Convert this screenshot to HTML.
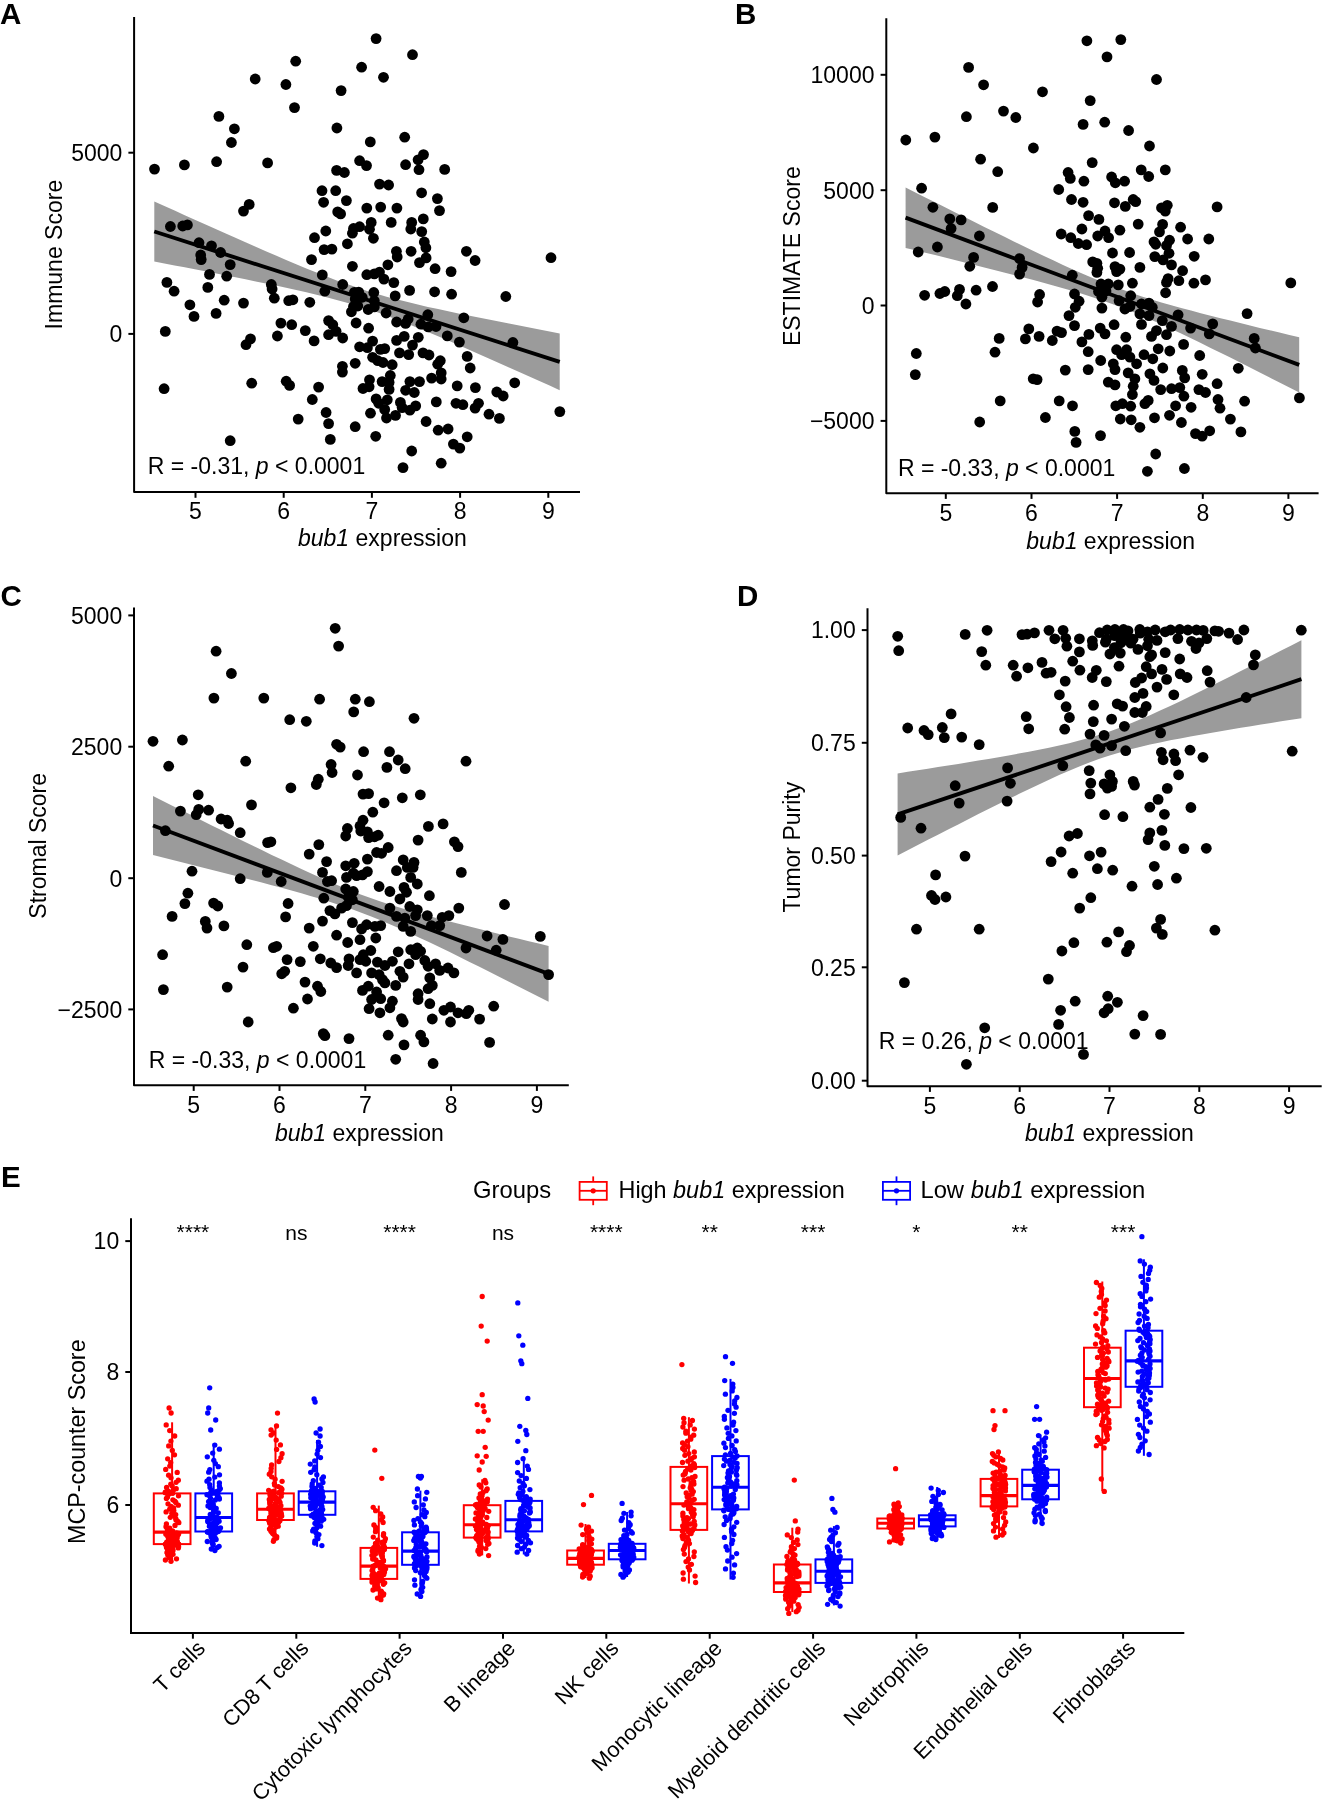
<!DOCTYPE html>
<html><head><meta charset="utf-8"><style>
html,body{margin:0;padding:0;background:#fff;width:1324px;height:1808px;overflow:hidden}
svg{display:block;will-change:transform}
text{font-family:"Liberation Sans", sans-serif;fill:#000}
</style></head><body>
<svg width="1324" height="1808" viewBox="0 0 1324 1808" font-family="Liberation Sans, sans-serif"><text x="0.0" y="23.9" text-anchor="start" font-size="29.5" font-weight="bold" >A</text>
<polygon points="154.3,201.5 164.4,206.1 174.6,210.6 184.7,215.2 194.8,219.8 205.0,224.3 215.1,228.8 225.2,233.3 235.4,237.8 245.5,242.3 255.7,246.8 265.8,251.2 275.9,255.6 286.1,259.9 296.2,264.2 306.3,268.4 316.5,272.5 326.6,276.5 336.7,280.4 346.9,284.1 357.0,287.6 367.1,290.9 377.3,294.0 387.4,296.9 397.5,299.6 407.7,302.1 417.8,304.5 427.9,306.9 438.1,309.1 448.2,311.3 458.4,313.4 468.5,315.5 478.6,317.6 488.8,319.6 498.9,321.6 509.0,323.6 519.2,325.6 529.3,327.6 539.4,329.5 549.6,331.5 559.7,333.4 559.7,390.2 549.6,385.6 539.4,381.1 529.3,376.5 519.2,371.9 509.0,367.4 498.9,362.9 488.8,358.4 478.6,353.9 468.5,349.4 458.4,345.0 448.2,340.6 438.1,336.3 427.9,332.0 417.8,327.9 407.7,323.8 397.5,319.8 387.4,316.0 377.3,312.3 367.1,308.9 357.0,305.7 346.9,302.7 336.7,299.9 326.6,297.2 316.5,294.7 306.3,292.3 296.2,290.0 286.1,287.8 275.9,285.6 265.8,283.5 255.7,281.4 245.5,279.3 235.4,277.3 225.2,275.3 215.1,273.3 205.0,271.3 194.8,269.3 184.7,267.3 174.6,265.4 164.4,263.4 154.3,261.5" fill="#9b9b9b"/>
<path d="M134.1,17.0 V492.1 H580.0" fill="none" stroke="#000" stroke-width="2.0" stroke-linecap="butt" stroke-linejoin="round"/>
<line x1="195.5" y1="492.1" x2="195.5" y2="497.8" stroke="#000" stroke-width="2.0" />
<text x="195.5" y="519.4" text-anchor="middle" font-size="23" font-weight="normal" >5</text>
<line x1="283.7" y1="492.1" x2="283.7" y2="497.8" stroke="#000" stroke-width="2.0" />
<text x="283.7" y="519.4" text-anchor="middle" font-size="23" font-weight="normal" >6</text>
<line x1="371.9" y1="492.1" x2="371.9" y2="497.8" stroke="#000" stroke-width="2.0" />
<text x="371.9" y="519.4" text-anchor="middle" font-size="23" font-weight="normal" >7</text>
<line x1="460.1" y1="492.1" x2="460.1" y2="497.8" stroke="#000" stroke-width="2.0" />
<text x="460.1" y="519.4" text-anchor="middle" font-size="23" font-weight="normal" >8</text>
<line x1="548.3" y1="492.1" x2="548.3" y2="497.8" stroke="#000" stroke-width="2.0" />
<text x="548.3" y="519.4" text-anchor="middle" font-size="23" font-weight="normal" >9</text>
<line x1="128.4" y1="152.7" x2="134.1" y2="152.7" stroke="#000" stroke-width="2.0" />
<text x="122.3" y="161.0" text-anchor="end" font-size="23" font-weight="normal" >5000</text>
<line x1="128.4" y1="333.9" x2="134.1" y2="333.9" stroke="#000" stroke-width="2.0" />
<text x="122.3" y="342.2" text-anchor="end" font-size="23" font-weight="normal" >0</text>
<text transform="translate(62.0,254.6) rotate(-90)" text-anchor="middle" font-size="23">Immune Score</text>
<text x="382.4" y="546.2" text-anchor="middle" font-size="23"><tspan font-style="italic">bub1</tspan> expression</text>
<g fill="#000"><circle cx="295.7" cy="61.2" r="5.4"/><circle cx="255.2" cy="79.0" r="5.4"/><circle cx="285.9" cy="84.5" r="5.4"/><circle cx="341.1" cy="90.6" r="5.4"/><circle cx="294.5" cy="107.6" r="5.4"/><circle cx="218.9" cy="116.4" r="5.4"/><circle cx="234.4" cy="128.8" r="5.4"/><circle cx="231.4" cy="142.5" r="5.4"/><circle cx="336.9" cy="128" r="5.4"/><circle cx="154.5" cy="169.1" r="5.4"/><circle cx="184.4" cy="164.9" r="5.4"/><circle cx="216.6" cy="161.7" r="5.4"/><circle cx="267.6" cy="162.9" r="5.4"/><circle cx="336.6" cy="170.4" r="5.4"/><circle cx="344.4" cy="172.5" r="5.4"/><circle cx="322" cy="190.7" r="5.4"/><circle cx="335.7" cy="190.7" r="5.4"/><circle cx="323.6" cy="202.3" r="5.4"/><circle cx="346.4" cy="200.6" r="5.4"/><circle cx="337.7" cy="211.9" r="5.4"/><circle cx="340.6" cy="213.9" r="5.4"/><circle cx="249.2" cy="204.4" r="5.4"/><circle cx="243.5" cy="211.1" r="5.4"/><circle cx="170.4" cy="226.5" r="5.4"/><circle cx="182.7" cy="226" r="5.4"/><circle cx="187.4" cy="224.9" r="5.4"/><circle cx="325.8" cy="231" r="5.4"/><circle cx="314.5" cy="237.7" r="5.4"/><circle cx="353.5" cy="228.5" r="5.4"/><circle cx="352.4" cy="233.2" r="5.4"/><circle cx="347.4" cy="243.8" r="5.4"/><circle cx="199" cy="242.7" r="5.4"/><circle cx="376.1" cy="38.6" r="5.4"/><circle cx="412.5" cy="54.7" r="5.4"/><circle cx="361.6" cy="67.2" r="5.4"/><circle cx="383.5" cy="77.3" r="5.4"/><circle cx="370.3" cy="141.9" r="5.4"/><circle cx="404.7" cy="137.2" r="5.4"/><circle cx="359.6" cy="160.7" r="5.4"/><circle cx="366.5" cy="165.6" r="5.4"/><circle cx="405.6" cy="164.7" r="5.4"/><circle cx="423.5" cy="154.6" r="5.4"/><circle cx="418.1" cy="159.8" r="5.4"/><circle cx="419" cy="169.7" r="5.4"/><circle cx="444.7" cy="169.4" r="5.4"/><circle cx="379.5" cy="184.1" r="5.4"/><circle cx="388.6" cy="185" r="5.4"/><circle cx="421.6" cy="192.8" r="5.4"/><circle cx="437.4" cy="198.6" r="5.4"/><circle cx="439.5" cy="210.6" r="5.4"/><circle cx="366.8" cy="208.1" r="5.4"/><circle cx="380.7" cy="207.1" r="5.4"/><circle cx="396.9" cy="208.1" r="5.4"/><circle cx="371.2" cy="222.4" r="5.4"/><circle cx="359.6" cy="226.7" r="5.4"/><circle cx="369.5" cy="229.3" r="5.4"/><circle cx="391.2" cy="222.4" r="5.4"/><circle cx="411.7" cy="222.4" r="5.4"/><circle cx="423.3" cy="218.9" r="5.4"/><circle cx="410.8" cy="229" r="5.4"/><circle cx="421.7" cy="231.6" r="5.4"/><circle cx="373.4" cy="238.3" r="5.4"/><circle cx="424.3" cy="242" r="5.4"/><circle cx="211.5" cy="245.8" r="5.4"/><circle cx="220.6" cy="252.5" r="5.4"/><circle cx="200.7" cy="255" r="5.4"/><circle cx="201.2" cy="259.6" r="5.4"/><circle cx="230.2" cy="264.6" r="5.4"/><circle cx="209.5" cy="274.4" r="5.4"/><circle cx="226.7" cy="276.2" r="5.4"/><circle cx="166.9" cy="282.4" r="5.4"/><circle cx="174.1" cy="291.2" r="5.4"/><circle cx="207.8" cy="287.4" r="5.4"/><circle cx="189.9" cy="304.8" r="5.4"/><circle cx="194" cy="316.4" r="5.4"/><circle cx="224.2" cy="300.2" r="5.4"/><circle cx="243.5" cy="303.1" r="5.4"/><circle cx="216.1" cy="313.4" r="5.4"/><circle cx="165.3" cy="331.4" r="5.4"/><circle cx="324.1" cy="249.6" r="5.4"/><circle cx="331.9" cy="249.1" r="5.4"/><circle cx="311.5" cy="259.6" r="5.4"/><circle cx="352.4" cy="266.3" r="5.4"/><circle cx="322.3" cy="274.9" r="5.4"/><circle cx="342.7" cy="284.5" r="5.4"/><circle cx="271.3" cy="284.5" r="5.4"/><circle cx="272.1" cy="289" r="5.4"/><circle cx="274.3" cy="298.2" r="5.4"/><circle cx="324.8" cy="291.2" r="5.4"/><circle cx="354.4" cy="292.3" r="5.4"/><circle cx="288.7" cy="300.7" r="5.4"/><circle cx="292.9" cy="299.8" r="5.4"/><circle cx="309.8" cy="302.3" r="5.4"/><circle cx="353.5" cy="306.5" r="5.4"/><circle cx="351.4" cy="311.8" r="5.4"/><circle cx="280.9" cy="323.1" r="5.4"/><circle cx="291.7" cy="324.7" r="5.4"/><circle cx="277.4" cy="336" r="5.4"/><circle cx="305.3" cy="330.6" r="5.4"/><circle cx="314.1" cy="340.9" r="5.4"/><circle cx="328.6" cy="320.6" r="5.4"/><circle cx="332.8" cy="324.7" r="5.4"/><circle cx="336.1" cy="331.4" r="5.4"/><circle cx="328.6" cy="334.7" r="5.4"/><circle cx="342.7" cy="338" r="5.4"/><circle cx="250.5" cy="338.9" r="5.4"/><circle cx="246" cy="344.7" r="5.4"/><circle cx="342.4" cy="366.3" r="5.4"/><circle cx="342.4" cy="372.1" r="5.4"/><circle cx="164.1" cy="388.7" r="5.4"/><circle cx="251.7" cy="383.2" r="5.4"/><circle cx="286.2" cy="381.2" r="5.4"/><circle cx="289.6" cy="385.4" r="5.4"/><circle cx="318.6" cy="387.1" r="5.4"/><circle cx="312.3" cy="399.5" r="5.4"/><circle cx="298.2" cy="419.1" r="5.4"/><circle cx="326.1" cy="412.5" r="5.4"/><circle cx="328.6" cy="423.6" r="5.4"/><circle cx="230.2" cy="440.7" r="5.4"/><circle cx="330.3" cy="439.4" r="5.4"/><circle cx="425.9" cy="247.8" r="5.4"/><circle cx="396.4" cy="251.3" r="5.4"/><circle cx="397.2" cy="257" r="5.4"/><circle cx="411.1" cy="251.3" r="5.4"/><circle cx="466.4" cy="251.3" r="5.4"/><circle cx="475.1" cy="260.5" r="5.4"/><circle cx="551" cy="257.7" r="5.4"/><circle cx="419.5" cy="262.6" r="5.4"/><circle cx="426.1" cy="257.9" r="5.4"/><circle cx="387.9" cy="264.8" r="5.4"/><circle cx="435.1" cy="268.7" r="5.4"/><circle cx="451.1" cy="271.6" r="5.4"/><circle cx="366.8" cy="274.7" r="5.4"/><circle cx="374.3" cy="273.9" r="5.4"/><circle cx="379.5" cy="272.1" r="5.4"/><circle cx="383.9" cy="279.1" r="5.4"/><circle cx="393.8" cy="282.6" r="5.4"/><circle cx="409.6" cy="290.4" r="5.4"/><circle cx="434.6" cy="291.8" r="5.4"/><circle cx="451.6" cy="294.2" r="5.4"/><circle cx="505.8" cy="296.5" r="5.4"/><circle cx="373.8" cy="292.5" r="5.4"/><circle cx="395.2" cy="295.9" r="5.4"/><circle cx="358.7" cy="292.1" r="5.4"/><circle cx="362.2" cy="297.3" r="5.4"/><circle cx="355.2" cy="299.1" r="5.4"/><circle cx="357.8" cy="306" r="5.4"/><circle cx="368.2" cy="309.5" r="5.4"/><circle cx="374.3" cy="306.9" r="5.4"/><circle cx="374.3" cy="300.8" r="5.4"/><circle cx="386.1" cy="313" r="5.4"/><circle cx="356.1" cy="323" r="5.4"/><circle cx="368.6" cy="328.2" r="5.4"/><circle cx="396.6" cy="322" r="5.4"/><circle cx="405.6" cy="323.4" r="5.4"/><circle cx="408.2" cy="319" r="5.4"/><circle cx="427.8" cy="314.7" r="5.4"/><circle cx="420.9" cy="324.2" r="5.4"/><circle cx="428.2" cy="326.9" r="5.4"/><circle cx="436" cy="326.5" r="5.4"/><circle cx="463.8" cy="317.8" r="5.4"/><circle cx="447.3" cy="335.9" r="5.4"/><circle cx="459.4" cy="342.1" r="5.4"/><circle cx="512.9" cy="342.5" r="5.4"/><circle cx="396.6" cy="340.4" r="5.4"/><circle cx="404.2" cy="336.4" r="5.4"/><circle cx="418.3" cy="337.3" r="5.4"/><circle cx="372.6" cy="341.1" r="5.4"/><circle cx="359.6" cy="346.8" r="5.4"/><circle cx="367.4" cy="347.7" r="5.4"/><circle cx="380.4" cy="349.4" r="5.4"/><circle cx="384.7" cy="348.6" r="5.4"/><circle cx="399.5" cy="352.9" r="5.4"/><circle cx="412.5" cy="345.1" r="5.4"/><circle cx="408.7" cy="354.6" r="5.4"/><circle cx="423" cy="352.9" r="5.4"/><circle cx="429" cy="355" r="5.4"/><circle cx="372.6" cy="357.3" r="5.4"/><circle cx="377.8" cy="360.7" r="5.4"/><circle cx="383" cy="362.5" r="5.4"/><circle cx="392.2" cy="364.7" r="5.4"/><circle cx="355.2" cy="363.3" r="5.4"/><circle cx="440.3" cy="360.7" r="5.4"/><circle cx="437.7" cy="364.2" r="5.4"/><circle cx="467.2" cy="356.4" r="5.4"/><circle cx="470.2" cy="368" r="5.4"/><circle cx="441.2" cy="372.9" r="5.4"/><circle cx="431.6" cy="378.1" r="5.4"/><circle cx="441.2" cy="379" r="5.4"/><circle cx="390.3" cy="375.5" r="5.4"/><circle cx="369.5" cy="379.8" r="5.4"/><circle cx="382.1" cy="381.6" r="5.4"/><circle cx="389.1" cy="382.4" r="5.4"/><circle cx="363" cy="388.5" r="5.4"/><circle cx="369.1" cy="386.8" r="5.4"/><circle cx="389.1" cy="389.4" r="5.4"/><circle cx="409.9" cy="381.6" r="5.4"/><circle cx="419.5" cy="381.6" r="5.4"/><circle cx="405.6" cy="390.3" r="5.4"/><circle cx="414.3" cy="392.5" r="5.4"/><circle cx="457.2" cy="385.9" r="5.4"/><circle cx="475.4" cy="387.6" r="5.4"/><circle cx="514.7" cy="382.8" r="5.4"/><circle cx="496.8" cy="392" r="5.4"/><circle cx="503.2" cy="396" r="5.4"/><circle cx="376.1" cy="398.9" r="5.4"/><circle cx="378.7" cy="403.3" r="5.4"/><circle cx="387.3" cy="399.8" r="5.4"/><circle cx="400.4" cy="402.4" r="5.4"/><circle cx="402.1" cy="407.6" r="5.4"/><circle cx="415.7" cy="405.9" r="5.4"/><circle cx="409.9" cy="410.2" r="5.4"/><circle cx="384.7" cy="409.4" r="5.4"/><circle cx="370.5" cy="413.2" r="5.4"/><circle cx="386.5" cy="418" r="5.4"/><circle cx="395.5" cy="415.4" r="5.4"/><circle cx="436.3" cy="401.9" r="5.4"/><circle cx="456" cy="403.3" r="5.4"/><circle cx="462.9" cy="404.7" r="5.4"/><circle cx="478.5" cy="403.3" r="5.4"/><circle cx="475.1" cy="408.1" r="5.4"/><circle cx="489" cy="414.2" r="5.4"/><circle cx="499.4" cy="418.4" r="5.4"/><circle cx="559.8" cy="411.6" r="5.4"/><circle cx="355.2" cy="426.7" r="5.4"/><circle cx="375.7" cy="436.3" r="5.4"/><circle cx="426.1" cy="421.5" r="5.4"/><circle cx="438.2" cy="430.2" r="5.4"/><circle cx="448.1" cy="429" r="5.4"/><circle cx="467.2" cy="436.8" r="5.4"/><circle cx="453.4" cy="444.1" r="5.4"/><circle cx="459.8" cy="448.1" r="5.4"/><circle cx="411.7" cy="451" r="5.4"/><circle cx="441.2" cy="463.2" r="5.4"/><circle cx="403" cy="467.6" r="5.4"/></g>
<line x1="154.3" y1="231.5" x2="559.7" y2="361.8" stroke="#000" stroke-width="3.9" />
<text x="147.8" y="474.0" font-size="23">R = -0.31, <tspan font-style="italic">p</tspan> &lt; 0.0001</text>
<text x="735.0" y="23.9" text-anchor="start" font-size="29.5" font-weight="bold" >B</text>
<polygon points="905.6,187.5 915.4,192.5 925.3,197.4 935.1,202.3 945.0,207.3 954.8,212.2 964.6,217.1 974.5,222.0 984.3,226.9 994.2,231.8 1004.0,236.6 1013.8,241.4 1023.7,246.2 1033.5,251.0 1043.4,255.7 1053.2,260.3 1063.0,264.9 1072.9,269.4 1082.7,273.7 1092.6,278.0 1102.4,282.1 1112.2,285.9 1122.1,289.6 1131.9,293.1 1141.8,296.4 1151.6,299.5 1161.4,302.4 1171.3,305.2 1181.1,307.9 1191.0,310.6 1200.8,313.2 1210.6,315.7 1220.5,318.2 1230.3,320.6 1240.2,323.1 1250.0,325.5 1259.8,327.9 1269.7,330.2 1279.5,332.6 1289.4,335.0 1299.2,337.3 1299.2,392.5 1289.4,387.5 1279.5,382.5 1269.7,377.5 1259.8,372.5 1250.0,367.5 1240.2,362.6 1230.3,357.6 1220.5,352.7 1210.6,347.9 1200.8,343.0 1191.0,338.3 1181.1,333.5 1171.3,328.9 1161.4,324.3 1151.6,319.9 1141.8,315.6 1131.9,311.6 1122.1,307.7 1112.2,304.0 1102.4,300.5 1092.6,297.3 1082.7,294.1 1072.9,291.1 1063.0,288.3 1053.2,285.5 1043.4,282.8 1033.5,280.1 1023.7,277.5 1013.8,274.9 1004.0,272.4 994.2,269.9 984.3,267.4 974.5,264.9 964.6,262.5 954.8,260.0 945.0,257.6 935.1,255.1 925.3,252.7 915.4,250.3 905.6,247.9" fill="#9b9b9b"/>
<path d="M886.3,18.3 V493.2 H1318.6" fill="none" stroke="#000" stroke-width="2.0" stroke-linecap="butt" stroke-linejoin="round"/>
<line x1="945.8" y1="493.2" x2="945.8" y2="498.9" stroke="#000" stroke-width="2.0" />
<text x="945.8" y="520.5" text-anchor="middle" font-size="23" font-weight="normal" >5</text>
<line x1="1031.5" y1="493.2" x2="1031.5" y2="498.9" stroke="#000" stroke-width="2.0" />
<text x="1031.5" y="520.5" text-anchor="middle" font-size="23" font-weight="normal" >6</text>
<line x1="1117.1" y1="493.2" x2="1117.1" y2="498.9" stroke="#000" stroke-width="2.0" />
<text x="1117.1" y="520.5" text-anchor="middle" font-size="23" font-weight="normal" >7</text>
<line x1="1202.8" y1="493.2" x2="1202.8" y2="498.9" stroke="#000" stroke-width="2.0" />
<text x="1202.8" y="520.5" text-anchor="middle" font-size="23" font-weight="normal" >8</text>
<line x1="1288.4" y1="493.2" x2="1288.4" y2="498.9" stroke="#000" stroke-width="2.0" />
<text x="1288.4" y="520.5" text-anchor="middle" font-size="23" font-weight="normal" >9</text>
<line x1="880.6" y1="74.8" x2="886.3" y2="74.8" stroke="#000" stroke-width="2.0" />
<text x="874.5" y="83.1" text-anchor="end" font-size="23" font-weight="normal" >10000</text>
<line x1="880.6" y1="190.2" x2="886.3" y2="190.2" stroke="#000" stroke-width="2.0" />
<text x="874.5" y="198.5" text-anchor="end" font-size="23" font-weight="normal" >5000</text>
<line x1="880.6" y1="305.5" x2="886.3" y2="305.5" stroke="#000" stroke-width="2.0" />
<text x="874.5" y="313.8" text-anchor="end" font-size="23" font-weight="normal" >0</text>
<line x1="880.6" y1="420.9" x2="886.3" y2="420.9" stroke="#000" stroke-width="2.0" />
<text x="874.5" y="429.2" text-anchor="end" font-size="23" font-weight="normal" >&#8722;5000</text>
<text transform="translate(799.6,256.2) rotate(-90)" text-anchor="middle" font-size="23">ESTIMATE Score</text>
<text x="1110.7" y="548.5" text-anchor="middle" font-size="23"><tspan font-style="italic">bub1</tspan> expression</text>
<g fill="#000"><circle cx="1086.9" cy="40.8" r="5.4"/><circle cx="968.6" cy="67.4" r="5.4"/><circle cx="983.6" cy="84.8" r="5.4"/><circle cx="1042.5" cy="91.8" r="5.4"/><circle cx="1090.2" cy="100.6" r="5.4"/><circle cx="1003.5" cy="111.1" r="5.4"/><circle cx="1015.8" cy="117.5" r="5.4"/><circle cx="966.4" cy="116.7" r="5.4"/><circle cx="1083.1" cy="124.4" r="5.4"/><circle cx="1104.7" cy="122.2" r="5.4"/><circle cx="905.8" cy="140" r="5.4"/><circle cx="934.9" cy="137.1" r="5.4"/><circle cx="1033.4" cy="148" r="5.4"/><circle cx="980.6" cy="159.2" r="5.4"/><circle cx="997.7" cy="171.7" r="5.4"/><circle cx="1092.2" cy="162.6" r="5.4"/><circle cx="1068.1" cy="172.5" r="5.4"/><circle cx="1070.3" cy="178.4" r="5.4"/><circle cx="1083.9" cy="181.2" r="5.4"/><circle cx="1058.7" cy="189.5" r="5.4"/><circle cx="1071.5" cy="199.5" r="5.4"/><circle cx="1083.1" cy="202.3" r="5.4"/><circle cx="921.6" cy="188.2" r="5.4"/><circle cx="932.9" cy="207.3" r="5.4"/><circle cx="992.7" cy="207.4" r="5.4"/><circle cx="949.8" cy="218.9" r="5.4"/><circle cx="961.1" cy="219.9" r="5.4"/><circle cx="951.1" cy="228.5" r="5.4"/><circle cx="979.4" cy="236" r="5.4"/><circle cx="1088.6" cy="215.6" r="5.4"/><circle cx="1098.9" cy="219.4" r="5.4"/><circle cx="1081.9" cy="229" r="5.4"/><circle cx="1061.2" cy="234" r="5.4"/><circle cx="1070.8" cy="237.7" r="5.4"/><circle cx="1078.3" cy="243.5" r="5.4"/><circle cx="1086.6" cy="244.7" r="5.4"/><circle cx="1097.7" cy="236" r="5.4"/><circle cx="1120.8" cy="39.6" r="5.4"/><circle cx="1107" cy="56.9" r="5.4"/><circle cx="1156.5" cy="79.5" r="5.4"/><circle cx="1128.6" cy="130.5" r="5.4"/><circle cx="1149.5" cy="146" r="5.4"/><circle cx="1141.2" cy="169.9" r="5.4"/><circle cx="1148.7" cy="176.5" r="5.4"/><circle cx="1165.3" cy="169.9" r="5.4"/><circle cx="1111.6" cy="177" r="5.4"/><circle cx="1115.3" cy="182.8" r="5.4"/><circle cx="1124.6" cy="181.2" r="5.4"/><circle cx="1114.5" cy="202.8" r="5.4"/><circle cx="1125.3" cy="206.4" r="5.4"/><circle cx="1133.2" cy="199.5" r="5.4"/><circle cx="1135.7" cy="201.6" r="5.4"/><circle cx="1161.5" cy="207.8" r="5.4"/><circle cx="1167.3" cy="205.3" r="5.4"/><circle cx="1165.3" cy="211.1" r="5.4"/><circle cx="1217.1" cy="206.9" r="5.4"/><circle cx="1105" cy="231" r="5.4"/><circle cx="1108.6" cy="237.7" r="5.4"/><circle cx="1119.9" cy="230.2" r="5.4"/><circle cx="1138.2" cy="224.1" r="5.4"/><circle cx="1162.6" cy="224.4" r="5.4"/><circle cx="1159.5" cy="231.9" r="5.4"/><circle cx="1180.6" cy="227.2" r="5.4"/><circle cx="1187.6" cy="239" r="5.4"/><circle cx="1208.8" cy="239" r="5.4"/><circle cx="1169.5" cy="240.2" r="5.4"/><circle cx="1154" cy="241.8" r="5.4"/><circle cx="1155.7" cy="244.3" r="5.4"/><circle cx="918.2" cy="252" r="5.4"/><circle cx="937.4" cy="247" r="5.4"/><circle cx="973.6" cy="257.4" r="5.4"/><circle cx="969.8" cy="266.3" r="5.4"/><circle cx="1019.6" cy="258.6" r="5.4"/><circle cx="1022.1" cy="267.4" r="5.4"/><circle cx="1019.6" cy="274.1" r="5.4"/><circle cx="1072.3" cy="275.2" r="5.4"/><circle cx="1092.7" cy="261.9" r="5.4"/><circle cx="1096.9" cy="263.3" r="5.4"/><circle cx="1097.7" cy="268.2" r="5.4"/><circle cx="1096.9" cy="272.4" r="5.4"/><circle cx="1101" cy="284" r="5.4"/><circle cx="1098.5" cy="291.5" r="5.4"/><circle cx="1101.9" cy="297.3" r="5.4"/><circle cx="1101.9" cy="308.1" r="5.4"/><circle cx="924.6" cy="295.3" r="5.4"/><circle cx="939.9" cy="293.5" r="5.4"/><circle cx="944.8" cy="291.5" r="5.4"/><circle cx="959.5" cy="289.4" r="5.4"/><circle cx="957.3" cy="295.7" r="5.4"/><circle cx="965.9" cy="304" r="5.4"/><circle cx="976.1" cy="290.2" r="5.4"/><circle cx="992.5" cy="286.5" r="5.4"/><circle cx="1039.6" cy="294.5" r="5.4"/><circle cx="1037.6" cy="302" r="5.4"/><circle cx="1074.5" cy="294" r="5.4"/><circle cx="1079.1" cy="301.2" r="5.4"/><circle cx="1075.3" cy="307.3" r="5.4"/><circle cx="1069" cy="315.6" r="5.4"/><circle cx="1074.5" cy="325.6" r="5.4"/><circle cx="1028.8" cy="328.9" r="5.4"/><circle cx="1025.4" cy="338.9" r="5.4"/><circle cx="1039.1" cy="336.4" r="5.4"/><circle cx="1057" cy="331.1" r="5.4"/><circle cx="1061.5" cy="332.6" r="5.4"/><circle cx="1052.3" cy="340.5" r="5.4"/><circle cx="1088.9" cy="334.4" r="5.4"/><circle cx="1081.9" cy="341.9" r="5.4"/><circle cx="1100.2" cy="328.1" r="5.4"/><circle cx="999.2" cy="338.4" r="5.4"/><circle cx="995" cy="352.2" r="5.4"/><circle cx="916.3" cy="353.5" r="5.4"/><circle cx="915.3" cy="374.6" r="5.4"/><circle cx="1088.2" cy="351.7" r="5.4"/><circle cx="1100.7" cy="360.5" r="5.4"/><circle cx="1065.3" cy="370.1" r="5.4"/><circle cx="1088.2" cy="369.6" r="5.4"/><circle cx="1033.2" cy="378.8" r="5.4"/><circle cx="1037.1" cy="379.6" r="5.4"/><circle cx="1000.2" cy="400.9" r="5.4"/><circle cx="1059.2" cy="400.9" r="5.4"/><circle cx="1072.5" cy="405.8" r="5.4"/><circle cx="1045.4" cy="417.5" r="5.4"/><circle cx="979.7" cy="422" r="5.4"/><circle cx="1074.8" cy="431.4" r="5.4"/><circle cx="1076.1" cy="442.4" r="5.4"/><circle cx="1100.5" cy="435.6" r="5.4"/><circle cx="1166.5" cy="245.5" r="5.4"/><circle cx="1112.5" cy="253" r="5.4"/><circle cx="1129.6" cy="252.5" r="5.4"/><circle cx="1154.8" cy="256.6" r="5.4"/><circle cx="1169" cy="253.3" r="5.4"/><circle cx="1163.1" cy="259.9" r="5.4"/><circle cx="1171.5" cy="264.9" r="5.4"/><circle cx="1194.2" cy="256.3" r="5.4"/><circle cx="1115" cy="266.6" r="5.4"/><circle cx="1119.9" cy="269.1" r="5.4"/><circle cx="1116.6" cy="271.6" r="5.4"/><circle cx="1139.9" cy="267.4" r="5.4"/><circle cx="1182.6" cy="270.7" r="5.4"/><circle cx="1178.9" cy="280.7" r="5.4"/><circle cx="1168.1" cy="278.6" r="5.4"/><circle cx="1166.5" cy="282.4" r="5.4"/><circle cx="1193.9" cy="283.2" r="5.4"/><circle cx="1205.5" cy="279.9" r="5.4"/><circle cx="1290.8" cy="282.9" r="5.4"/><circle cx="1132.4" cy="283.2" r="5.4"/><circle cx="1165.6" cy="292.8" r="5.4"/><circle cx="1108.3" cy="284" r="5.4"/><circle cx="1118.3" cy="284.9" r="5.4"/><circle cx="1106" cy="291" r="5.4"/><circle cx="1130.7" cy="295.7" r="5.4"/><circle cx="1119.1" cy="300.7" r="5.4"/><circle cx="1124.9" cy="309" r="5.4"/><circle cx="1129.9" cy="306.5" r="5.4"/><circle cx="1141.5" cy="304" r="5.4"/><circle cx="1149" cy="303.1" r="5.4"/><circle cx="1152.3" cy="307.3" r="5.4"/><circle cx="1139.9" cy="313.9" r="5.4"/><circle cx="1149" cy="315.6" r="5.4"/><circle cx="1162.3" cy="320.6" r="5.4"/><circle cx="1178.1" cy="314.8" r="5.4"/><circle cx="1171.5" cy="326.4" r="5.4"/><circle cx="1190.6" cy="328.1" r="5.4"/><circle cx="1212.7" cy="323.9" r="5.4"/><circle cx="1209.3" cy="333.9" r="5.4"/><circle cx="1247.1" cy="313.6" r="5.4"/><circle cx="1254.2" cy="338.4" r="5.4"/><circle cx="1255.4" cy="348" r="5.4"/><circle cx="1114.1" cy="324.7" r="5.4"/><circle cx="1141.5" cy="324.4" r="5.4"/><circle cx="1105" cy="333.9" r="5.4"/><circle cx="1125.8" cy="337.2" r="5.4"/><circle cx="1156.5" cy="330.6" r="5.4"/><circle cx="1151.5" cy="336.4" r="5.4"/><circle cx="1166.5" cy="334.7" r="5.4"/><circle cx="1183.6" cy="344.4" r="5.4"/><circle cx="1116.6" cy="349.7" r="5.4"/><circle cx="1126.6" cy="349.7" r="5.4"/><circle cx="1121.6" cy="354.7" r="5.4"/><circle cx="1129.9" cy="357.1" r="5.4"/><circle cx="1144" cy="354.7" r="5.4"/><circle cx="1152.8" cy="358.8" r="5.4"/><circle cx="1158.2" cy="348.8" r="5.4"/><circle cx="1169.8" cy="351" r="5.4"/><circle cx="1199.7" cy="355.5" r="5.4"/><circle cx="1113.3" cy="363.8" r="5.4"/><circle cx="1115" cy="369.6" r="5.4"/><circle cx="1136.6" cy="363.8" r="5.4"/><circle cx="1162.8" cy="368" r="5.4"/><circle cx="1128.2" cy="372.9" r="5.4"/><circle cx="1134.9" cy="378.8" r="5.4"/><circle cx="1149.9" cy="373.8" r="5.4"/><circle cx="1154" cy="380.4" r="5.4"/><circle cx="1182.3" cy="370.4" r="5.4"/><circle cx="1184.7" cy="377.9" r="5.4"/><circle cx="1202.2" cy="374.3" r="5.4"/><circle cx="1238.3" cy="368.3" r="5.4"/><circle cx="1108.3" cy="382.1" r="5.4"/><circle cx="1115" cy="384.9" r="5.4"/><circle cx="1133.2" cy="386.2" r="5.4"/><circle cx="1132.4" cy="394.5" r="5.4"/><circle cx="1160.7" cy="389.6" r="5.4"/><circle cx="1171.5" cy="388.7" r="5.4"/><circle cx="1179.8" cy="387.6" r="5.4"/><circle cx="1183.9" cy="396.2" r="5.4"/><circle cx="1198.9" cy="389.6" r="5.4"/><circle cx="1205.5" cy="392.5" r="5.4"/><circle cx="1217.1" cy="383.7" r="5.4"/><circle cx="1218" cy="399.5" r="5.4"/><circle cx="1220" cy="408.2" r="5.4"/><circle cx="1244.6" cy="401.2" r="5.4"/><circle cx="1299.4" cy="397.9" r="5.4"/><circle cx="1115.8" cy="405.8" r="5.4"/><circle cx="1122.4" cy="403.7" r="5.4"/><circle cx="1130.7" cy="406.2" r="5.4"/><circle cx="1144.9" cy="403.7" r="5.4"/><circle cx="1148.2" cy="400.4" r="5.4"/><circle cx="1175.6" cy="405.8" r="5.4"/><circle cx="1191.1" cy="407.3" r="5.4"/><circle cx="1120.3" cy="419" r="5.4"/><circle cx="1131.2" cy="419.8" r="5.4"/><circle cx="1139.9" cy="427.3" r="5.4"/><circle cx="1154.5" cy="417.8" r="5.4"/><circle cx="1169.5" cy="415.3" r="5.4"/><circle cx="1181.4" cy="422.5" r="5.4"/><circle cx="1230.4" cy="419.1" r="5.4"/><circle cx="1240.9" cy="431.9" r="5.4"/><circle cx="1195.5" cy="433.6" r="5.4"/><circle cx="1202.2" cy="436.1" r="5.4"/><circle cx="1209.7" cy="430.8" r="5.4"/><circle cx="1155.7" cy="454" r="5.4"/><circle cx="1147.4" cy="471.3" r="5.4"/><circle cx="1184.4" cy="468.5" r="5.4"/></g>
<line x1="905.6" y1="217.7" x2="1299.2" y2="364.9" stroke="#000" stroke-width="3.9" />
<text x="897.9" y="476.0" font-size="23">R = -0.33, <tspan font-style="italic">p</tspan> &lt; 0.0001</text>
<text x="0.5" y="606.0" text-anchor="start" font-size="29.5" font-weight="bold" >C</text>
<polygon points="153.0,795.9 162.9,800.9 172.8,805.9 182.7,810.8 192.6,815.8 202.4,820.7 212.3,825.7 222.2,830.6 232.1,835.5 242.0,840.4 251.9,845.2 261.8,850.1 271.7,854.9 281.6,859.6 291.5,864.3 301.4,869.0 311.2,873.6 321.1,878.0 331.0,882.4 340.9,886.6 350.8,890.6 360.7,894.4 370.6,898.0 380.5,901.5 390.4,904.7 400.2,907.7 410.1,910.7 420.0,913.5 429.9,916.2 439.8,918.9 449.7,921.5 459.6,924.0 469.5,926.5 479.4,929.0 489.3,931.5 499.1,934.0 509.0,936.4 518.9,938.8 528.8,941.2 538.7,943.6 548.6,946.0 548.6,1001.8 538.7,996.8 528.8,991.7 518.9,986.7 509.0,981.7 499.1,976.7 489.3,971.8 479.4,966.8 469.5,961.9 459.6,957.0 449.7,952.1 439.8,947.3 429.9,942.5 420.0,937.9 410.1,933.2 400.2,928.8 390.4,924.4 380.5,920.2 370.6,916.2 360.7,912.4 350.8,908.8 340.9,905.4 331.0,902.2 321.1,899.1 311.2,896.2 301.4,893.3 291.5,890.5 281.6,887.8 271.7,885.2 261.8,882.6 251.9,880.0 242.0,877.4 232.1,874.9 222.2,872.4 212.3,869.9 202.4,867.4 192.6,864.9 182.7,862.4 172.8,860.0 162.9,857.5 153.0,855.1" fill="#9b9b9b"/>
<path d="M134.0,607.4 V1085.2 H568.8" fill="none" stroke="#000" stroke-width="2.0" stroke-linecap="butt" stroke-linejoin="round"/>
<line x1="193.7" y1="1085.2" x2="193.7" y2="1090.9" stroke="#000" stroke-width="2.0" />
<text x="193.7" y="1112.5" text-anchor="middle" font-size="23" font-weight="normal" >5</text>
<line x1="279.5" y1="1085.2" x2="279.5" y2="1090.9" stroke="#000" stroke-width="2.0" />
<text x="279.5" y="1112.5" text-anchor="middle" font-size="23" font-weight="normal" >6</text>
<line x1="365.3" y1="1085.2" x2="365.3" y2="1090.9" stroke="#000" stroke-width="2.0" />
<text x="365.3" y="1112.5" text-anchor="middle" font-size="23" font-weight="normal" >7</text>
<line x1="451.1" y1="1085.2" x2="451.1" y2="1090.9" stroke="#000" stroke-width="2.0" />
<text x="451.1" y="1112.5" text-anchor="middle" font-size="23" font-weight="normal" >8</text>
<line x1="536.9" y1="1085.2" x2="536.9" y2="1090.9" stroke="#000" stroke-width="2.0" />
<text x="536.9" y="1112.5" text-anchor="middle" font-size="23" font-weight="normal" >9</text>
<line x1="128.3" y1="615.4" x2="134.0" y2="615.4" stroke="#000" stroke-width="2.0" />
<text x="122.2" y="623.7" text-anchor="end" font-size="23" font-weight="normal" >5000</text>
<line x1="128.3" y1="746.7" x2="134.0" y2="746.7" stroke="#000" stroke-width="2.0" />
<text x="122.2" y="755.0" text-anchor="end" font-size="23" font-weight="normal" >2500</text>
<line x1="128.3" y1="878.2" x2="134.0" y2="878.2" stroke="#000" stroke-width="2.0" />
<text x="122.2" y="886.5" text-anchor="end" font-size="23" font-weight="normal" >0</text>
<line x1="128.3" y1="1009.4" x2="134.0" y2="1009.4" stroke="#000" stroke-width="2.0" />
<text x="122.2" y="1017.7" text-anchor="end" font-size="23" font-weight="normal" >&#8722;2500</text>
<text transform="translate(46.2,845.8) rotate(-90)" text-anchor="middle" font-size="23">Stromal Score</text>
<text x="359.4" y="1140.8" text-anchor="middle" font-size="23"><tspan font-style="italic">bub1</tspan> expression</text>
<g fill="#000"><circle cx="335.2" cy="628.3" r="5.4"/><circle cx="338.6" cy="646.1" r="5.4"/><circle cx="216.1" cy="651.2" r="5.4"/><circle cx="231.4" cy="673.5" r="5.4"/><circle cx="213.9" cy="698.1" r="5.4"/><circle cx="263.8" cy="698.1" r="5.4"/><circle cx="319.6" cy="699.2" r="5.4"/><circle cx="289.7" cy="719.7" r="5.4"/><circle cx="306.3" cy="721.3" r="5.4"/><circle cx="153" cy="741.3" r="5.4"/><circle cx="182.4" cy="740" r="5.4"/><circle cx="168.7" cy="766.2" r="5.4"/><circle cx="245.7" cy="761.2" r="5.4"/><circle cx="336.6" cy="744.3" r="5.4"/><circle cx="340.2" cy="747.1" r="5.4"/><circle cx="331.1" cy="764.5" r="5.4"/><circle cx="332.1" cy="772.5" r="5.4"/><circle cx="290.9" cy="787.8" r="5.4"/><circle cx="318.3" cy="779.2" r="5.4"/><circle cx="316.3" cy="784.5" r="5.4"/><circle cx="198.2" cy="794.8" r="5.4"/><circle cx="180.4" cy="811.1" r="5.4"/><circle cx="198.7" cy="809.4" r="5.4"/><circle cx="196.2" cy="814.7" r="5.4"/><circle cx="208.6" cy="810.2" r="5.4"/><circle cx="251.5" cy="804.9" r="5.4"/><circle cx="221.1" cy="819" r="5.4"/><circle cx="227.2" cy="820.2" r="5.4"/><circle cx="228.6" cy="823.5" r="5.4"/><circle cx="240.2" cy="832.7" r="5.4"/><circle cx="165.4" cy="830.7" r="5.4"/><circle cx="267.6" cy="842.6" r="5.4"/><circle cx="270.9" cy="841.8" r="5.4"/><circle cx="347.4" cy="828.5" r="5.4"/><circle cx="345.7" cy="836" r="5.4"/><circle cx="318.8" cy="844.6" r="5.4"/><circle cx="355.3" cy="699.2" r="5.4"/><circle cx="369.4" cy="701.7" r="5.4"/><circle cx="353.7" cy="711.9" r="5.4"/><circle cx="414" cy="718.3" r="5.4"/><circle cx="363.6" cy="751.7" r="5.4"/><circle cx="389.5" cy="751.7" r="5.4"/><circle cx="398.2" cy="760" r="5.4"/><circle cx="386.9" cy="767.4" r="5.4"/><circle cx="405.2" cy="768.7" r="5.4"/><circle cx="466" cy="761.2" r="5.4"/><circle cx="357.5" cy="775" r="5.4"/><circle cx="363" cy="794.1" r="5.4"/><circle cx="368.6" cy="793.6" r="5.4"/><circle cx="384.1" cy="802.8" r="5.4"/><circle cx="402.3" cy="797.8" r="5.4"/><circle cx="420.3" cy="794.8" r="5.4"/><circle cx="372.8" cy="812.2" r="5.4"/><circle cx="363" cy="820.2" r="5.4"/><circle cx="360" cy="826" r="5.4"/><circle cx="360.8" cy="831" r="5.4"/><circle cx="367.4" cy="831.8" r="5.4"/><circle cx="368.6" cy="837.6" r="5.4"/><circle cx="374.6" cy="836.8" r="5.4"/><circle cx="378.2" cy="835.2" r="5.4"/><circle cx="428.4" cy="826.4" r="5.4"/><circle cx="443.1" cy="823.9" r="5.4"/><circle cx="418.1" cy="840.1" r="5.4"/><circle cx="454.4" cy="841.8" r="5.4"/><circle cx="309.2" cy="854.1" r="5.4"/><circle cx="326.6" cy="861.6" r="5.4"/><circle cx="345.7" cy="865.8" r="5.4"/><circle cx="322.5" cy="872.4" r="5.4"/><circle cx="327.4" cy="881.5" r="5.4"/><circle cx="331.6" cy="880.7" r="5.4"/><circle cx="346.5" cy="877.4" r="5.4"/><circle cx="345.7" cy="889" r="5.4"/><circle cx="348.2" cy="897.3" r="5.4"/><circle cx="346.5" cy="905.6" r="5.4"/><circle cx="341.6" cy="908.1" r="5.4"/><circle cx="352.4" cy="899.8" r="5.4"/><circle cx="323.8" cy="898.2" r="5.4"/><circle cx="329.9" cy="910.6" r="5.4"/><circle cx="334.9" cy="913.9" r="5.4"/><circle cx="192" cy="871.2" r="5.4"/><circle cx="240.2" cy="878.7" r="5.4"/><circle cx="267.3" cy="872.4" r="5.4"/><circle cx="281.2" cy="881.5" r="5.4"/><circle cx="187.9" cy="893.2" r="5.4"/><circle cx="184.9" cy="903.6" r="5.4"/><circle cx="213.6" cy="903.1" r="5.4"/><circle cx="217.8" cy="906" r="5.4"/><circle cx="172.1" cy="916.4" r="5.4"/><circle cx="205.3" cy="921.4" r="5.4"/><circle cx="207" cy="928.1" r="5.4"/><circle cx="223.9" cy="925.9" r="5.4"/><circle cx="288.1" cy="903.5" r="5.4"/><circle cx="285.6" cy="916.9" r="5.4"/><circle cx="322.5" cy="921.1" r="5.4"/><circle cx="309.2" cy="928.1" r="5.4"/><circle cx="352.4" cy="922.6" r="5.4"/><circle cx="336.6" cy="935.2" r="5.4"/><circle cx="347.7" cy="942.5" r="5.4"/><circle cx="246.8" cy="944.7" r="5.4"/><circle cx="273.4" cy="947.7" r="5.4"/><circle cx="276.7" cy="946.3" r="5.4"/><circle cx="313.3" cy="946.3" r="5.4"/><circle cx="162.6" cy="954.7" r="5.4"/><circle cx="243" cy="967.1" r="5.4"/><circle cx="287.1" cy="959.6" r="5.4"/><circle cx="300.3" cy="961.6" r="5.4"/><circle cx="320.3" cy="958.8" r="5.4"/><circle cx="330.8" cy="963" r="5.4"/><circle cx="336.6" cy="967.6" r="5.4"/><circle cx="349" cy="958.8" r="5.4"/><circle cx="348.2" cy="965.5" r="5.4"/><circle cx="284.7" cy="971.3" r="5.4"/><circle cx="281.7" cy="973.8" r="5.4"/><circle cx="305" cy="982.1" r="5.4"/><circle cx="317.5" cy="986.2" r="5.4"/><circle cx="320.8" cy="991.5" r="5.4"/><circle cx="307.5" cy="999" r="5.4"/><circle cx="293.4" cy="1008.2" r="5.4"/><circle cx="163.4" cy="989.6" r="5.4"/><circle cx="227.2" cy="987.1" r="5.4"/><circle cx="248.2" cy="1022" r="5.4"/><circle cx="323.3" cy="1033.6" r="5.4"/><circle cx="324.9" cy="1035.7" r="5.4"/><circle cx="349" cy="1038.6" r="5.4"/><circle cx="458" cy="846.6" r="5.4"/><circle cx="388.2" cy="847.5" r="5.4"/><circle cx="376.6" cy="852.5" r="5.4"/><circle cx="381.6" cy="853.3" r="5.4"/><circle cx="367.4" cy="859.1" r="5.4"/><circle cx="354.2" cy="863.3" r="5.4"/><circle cx="403.2" cy="859.9" r="5.4"/><circle cx="414" cy="862.4" r="5.4"/><circle cx="413.1" cy="867.4" r="5.4"/><circle cx="396.5" cy="870.7" r="5.4"/><circle cx="407.3" cy="867.4" r="5.4"/><circle cx="461.3" cy="872.4" r="5.4"/><circle cx="367.4" cy="871.6" r="5.4"/><circle cx="362.5" cy="874.9" r="5.4"/><circle cx="356.6" cy="875.7" r="5.4"/><circle cx="353.3" cy="873.2" r="5.4"/><circle cx="410.7" cy="877.4" r="5.4"/><circle cx="417.3" cy="884" r="5.4"/><circle cx="379.1" cy="886.5" r="5.4"/><circle cx="389.9" cy="891.5" r="5.4"/><circle cx="404" cy="887.4" r="5.4"/><circle cx="406.5" cy="892.3" r="5.4"/><circle cx="399.9" cy="899" r="5.4"/><circle cx="429.4" cy="895.7" r="5.4"/><circle cx="353.3" cy="891.5" r="5.4"/><circle cx="504.5" cy="904.5" r="5.4"/><circle cx="458.8" cy="908.1" r="5.4"/><circle cx="389.9" cy="908.1" r="5.4"/><circle cx="396.5" cy="916.4" r="5.4"/><circle cx="409.8" cy="906.5" r="5.4"/><circle cx="417.3" cy="909.8" r="5.4"/><circle cx="415.6" cy="915.6" r="5.4"/><circle cx="427.3" cy="915.6" r="5.4"/><circle cx="442.2" cy="917.3" r="5.4"/><circle cx="448.9" cy="915.6" r="5.4"/><circle cx="404.8" cy="918.1" r="5.4"/><circle cx="403.2" cy="926.4" r="5.4"/><circle cx="410.7" cy="931.4" r="5.4"/><circle cx="431.4" cy="925.6" r="5.4"/><circle cx="439.7" cy="925.6" r="5.4"/><circle cx="366.6" cy="924.7" r="5.4"/><circle cx="361.6" cy="928.9" r="5.4"/><circle cx="360" cy="939.7" r="5.4"/><circle cx="374.9" cy="926.4" r="5.4"/><circle cx="380.7" cy="925.6" r="5.4"/><circle cx="375.8" cy="938" r="5.4"/><circle cx="466" cy="948" r="5.4"/><circle cx="487.1" cy="936" r="5.4"/><circle cx="502.9" cy="939.4" r="5.4"/><circle cx="496.2" cy="950.2" r="5.4"/><circle cx="540.3" cy="936.4" r="5.4"/><circle cx="548.6" cy="974.6" r="5.4"/><circle cx="370.8" cy="950.5" r="5.4"/><circle cx="363.3" cy="954.7" r="5.4"/><circle cx="365.8" cy="961.3" r="5.4"/><circle cx="360" cy="959.6" r="5.4"/><circle cx="398.2" cy="951.8" r="5.4"/><circle cx="410.7" cy="949.7" r="5.4"/><circle cx="417.3" cy="948" r="5.4"/><circle cx="415.6" cy="954.7" r="5.4"/><circle cx="420.6" cy="951.3" r="5.4"/><circle cx="377.4" cy="962.1" r="5.4"/><circle cx="384.9" cy="965.5" r="5.4"/><circle cx="392.4" cy="961.3" r="5.4"/><circle cx="409" cy="963.8" r="5.4"/><circle cx="424.8" cy="960.5" r="5.4"/><circle cx="428.1" cy="966.3" r="5.4"/><circle cx="435.6" cy="963.8" r="5.4"/><circle cx="439.7" cy="970.4" r="5.4"/><circle cx="448" cy="968" r="5.4"/><circle cx="453.9" cy="972.9" r="5.4"/><circle cx="356.6" cy="972.9" r="5.4"/><circle cx="371.6" cy="972.9" r="5.4"/><circle cx="379.1" cy="974.6" r="5.4"/><circle cx="382.4" cy="979.6" r="5.4"/><circle cx="384.9" cy="982.9" r="5.4"/><circle cx="399.9" cy="971.3" r="5.4"/><circle cx="403.2" cy="977.1" r="5.4"/><circle cx="429.8" cy="977.9" r="5.4"/><circle cx="432.3" cy="985.4" r="5.4"/><circle cx="428.1" cy="988.7" r="5.4"/><circle cx="395.7" cy="985.4" r="5.4"/><circle cx="368.3" cy="986.2" r="5.4"/><circle cx="362.5" cy="990.4" r="5.4"/><circle cx="376.6" cy="992" r="5.4"/><circle cx="380.7" cy="998.7" r="5.4"/><circle cx="371.6" cy="999.5" r="5.4"/><circle cx="392.4" cy="1001.2" r="5.4"/><circle cx="389.9" cy="1007.8" r="5.4"/><circle cx="369.1" cy="1008.7" r="5.4"/><circle cx="379.9" cy="1012.8" r="5.4"/><circle cx="418.1" cy="993.7" r="5.4"/><circle cx="418.1" cy="999.5" r="5.4"/><circle cx="429.8" cy="1003.7" r="5.4"/><circle cx="443.9" cy="1010.3" r="5.4"/><circle cx="450.5" cy="1007" r="5.4"/><circle cx="458" cy="1012.8" r="5.4"/><circle cx="466.3" cy="1013.6" r="5.4"/><circle cx="468.8" cy="1010.3" r="5.4"/><circle cx="493.7" cy="1006.2" r="5.4"/><circle cx="432.3" cy="1019" r="5.4"/><circle cx="450.5" cy="1022" r="5.4"/><circle cx="479.6" cy="1019.1" r="5.4"/><circle cx="401.5" cy="1018.6" r="5.4"/><circle cx="403.2" cy="1022" r="5.4"/><circle cx="388.2" cy="1035.2" r="5.4"/><circle cx="420.6" cy="1035.2" r="5.4"/><circle cx="423.9" cy="1041.9" r="5.4"/><circle cx="404" cy="1044.9" r="5.4"/><circle cx="489.6" cy="1042.4" r="5.4"/><circle cx="395.7" cy="1059.3" r="5.4"/><circle cx="433.1" cy="1063.5" r="5.4"/></g>
<line x1="153.0" y1="825.5" x2="548.6" y2="973.9" stroke="#000" stroke-width="3.9" />
<text x="148.8" y="1068.2" font-size="23">R = -0.33, <tspan font-style="italic">p</tspan> &lt; 0.0001</text>
<text x="737.0" y="606.0" text-anchor="start" font-size="29.5" font-weight="bold" >D</text>
<polygon points="897.6,773.4 907.7,771.8 917.8,770.3 927.9,768.7 938.0,767.1 948.1,765.5 958.2,763.9 968.3,762.2 978.4,760.6 988.5,758.9 998.6,757.2 1008.6,755.4 1018.7,753.6 1028.8,751.7 1038.9,749.8 1049.0,747.7 1059.1,745.5 1069.2,743.2 1079.3,740.6 1089.4,737.8 1099.5,734.8 1109.6,731.4 1119.7,727.7 1129.8,723.8 1139.9,719.6 1150.0,715.2 1160.1,710.6 1170.2,705.9 1180.3,701.2 1190.4,696.3 1200.5,691.3 1210.5,686.3 1220.6,681.3 1230.7,676.2 1240.8,671.1 1250.9,666.0 1261.0,660.9 1271.1,655.7 1281.2,650.6 1291.3,645.4 1301.4,640.2 1301.4,718.2 1291.3,719.8 1281.2,721.3 1271.1,722.9 1261.0,724.5 1250.9,726.2 1240.8,727.8 1230.7,729.5 1220.6,731.2 1210.5,732.9 1200.5,734.7 1190.4,736.5 1180.3,738.4 1170.2,740.3 1160.1,742.4 1150.0,744.6 1139.9,747.0 1129.8,749.5 1119.7,752.4 1109.6,755.5 1099.5,758.8 1089.4,762.5 1079.3,766.5 1069.2,770.7 1059.1,775.1 1049.0,779.7 1038.9,784.4 1028.8,789.2 1018.7,794.1 1008.6,799.0 998.6,804.0 988.5,809.1 978.4,814.1 968.3,819.2 958.2,824.4 948.1,829.5 938.0,834.7 927.9,839.8 917.8,845.0 907.7,850.2 897.6,855.4" fill="#9b9b9b"/>
<path d="M867.5,608.3 V1086.2 H1321.7" fill="none" stroke="#000" stroke-width="2.0" stroke-linecap="butt" stroke-linejoin="round"/>
<line x1="929.9" y1="1086.2" x2="929.9" y2="1091.9" stroke="#000" stroke-width="2.0" />
<text x="929.9" y="1113.5" text-anchor="middle" font-size="23" font-weight="normal" >5</text>
<line x1="1019.7" y1="1086.2" x2="1019.7" y2="1091.9" stroke="#000" stroke-width="2.0" />
<text x="1019.7" y="1113.5" text-anchor="middle" font-size="23" font-weight="normal" >6</text>
<line x1="1109.5" y1="1086.2" x2="1109.5" y2="1091.9" stroke="#000" stroke-width="2.0" />
<text x="1109.5" y="1113.5" text-anchor="middle" font-size="23" font-weight="normal" >7</text>
<line x1="1199.3" y1="1086.2" x2="1199.3" y2="1091.9" stroke="#000" stroke-width="2.0" />
<text x="1199.3" y="1113.5" text-anchor="middle" font-size="23" font-weight="normal" >8</text>
<line x1="1289.1" y1="1086.2" x2="1289.1" y2="1091.9" stroke="#000" stroke-width="2.0" />
<text x="1289.1" y="1113.5" text-anchor="middle" font-size="23" font-weight="normal" >9</text>
<line x1="861.8" y1="630.1" x2="867.5" y2="630.1" stroke="#000" stroke-width="2.0" />
<text x="855.7" y="638.4" text-anchor="end" font-size="23" font-weight="normal" >1.00</text>
<line x1="861.8" y1="742.8" x2="867.5" y2="742.8" stroke="#000" stroke-width="2.0" />
<text x="855.7" y="751.1" text-anchor="end" font-size="23" font-weight="normal" >0.75</text>
<line x1="861.8" y1="855.6" x2="867.5" y2="855.6" stroke="#000" stroke-width="2.0" />
<text x="855.7" y="863.9" text-anchor="end" font-size="23" font-weight="normal" >0.50</text>
<line x1="861.8" y1="967.3" x2="867.5" y2="967.3" stroke="#000" stroke-width="2.0" />
<text x="855.7" y="975.6" text-anchor="end" font-size="23" font-weight="normal" >0.25</text>
<line x1="861.8" y1="1080.7" x2="867.5" y2="1080.7" stroke="#000" stroke-width="2.0" />
<text x="855.7" y="1089.0" text-anchor="end" font-size="23" font-weight="normal" >0.00</text>
<text transform="translate(799.8,847.2) rotate(-90)" text-anchor="middle" font-size="23">Tumor Purity</text>
<text x="1109.4" y="1140.5" text-anchor="middle" font-size="23"><tspan font-style="italic">bub1</tspan> expression</text>
<g fill="#000"><circle cx="897.7" cy="636.3" r="5.4"/><circle cx="898.7" cy="650.7" r="5.4"/><circle cx="965.2" cy="634.4" r="5.4"/><circle cx="987.1" cy="630.3" r="5.4"/><circle cx="981.7" cy="651.6" r="5.4"/><circle cx="985.8" cy="665.2" r="5.4"/><circle cx="1022" cy="634.6" r="5.4"/><circle cx="1027" cy="634.1" r="5.4"/><circle cx="1034.5" cy="632.9" r="5.4"/><circle cx="1049" cy="630.3" r="5.4"/><circle cx="1063.1" cy="630.3" r="5.4"/><circle cx="1054.8" cy="638.8" r="5.4"/><circle cx="1065.7" cy="638.3" r="5.4"/><circle cx="1066.9" cy="646.2" r="5.4"/><circle cx="1079.4" cy="638.8" r="5.4"/><circle cx="1079.4" cy="651.9" r="5.4"/><circle cx="1013.2" cy="665.2" r="5.4"/><circle cx="1027.9" cy="667.8" r="5.4"/><circle cx="1016.6" cy="676.2" r="5.4"/><circle cx="1042" cy="662.4" r="5.4"/><circle cx="1046.1" cy="673.2" r="5.4"/><circle cx="1051.1" cy="672.3" r="5.4"/><circle cx="1072.7" cy="661.2" r="5.4"/><circle cx="1079.9" cy="670.2" r="5.4"/><circle cx="1065.2" cy="681.1" r="5.4"/><circle cx="1059.4" cy="694.8" r="5.4"/><circle cx="1066.1" cy="706.7" r="5.4"/><circle cx="1069.4" cy="717.5" r="5.4"/><circle cx="1064.7" cy="729.2" r="5.4"/><circle cx="1026.2" cy="716.7" r="5.4"/><circle cx="1028.7" cy="728.8" r="5.4"/><circle cx="951.1" cy="713.9" r="5.4"/><circle cx="907.7" cy="728" r="5.4"/><circle cx="924" cy="730.5" r="5.4"/><circle cx="928.2" cy="734.6" r="5.4"/><circle cx="942.3" cy="727.5" r="5.4"/><circle cx="944.3" cy="737.6" r="5.4"/><circle cx="961.7" cy="737.1" r="5.4"/><circle cx="979.2" cy="744.6" r="5.4"/><circle cx="1007.6" cy="767.9" r="5.4"/><circle cx="1010.4" cy="783.3" r="5.4"/><circle cx="1007.1" cy="801.1" r="5.4"/><circle cx="955.2" cy="785.7" r="5.4"/><circle cx="959.2" cy="803.1" r="5.4"/><circle cx="1062.8" cy="765.7" r="5.4"/><circle cx="900.7" cy="817.4" r="5.4"/><circle cx="921" cy="828.2" r="5.4"/><circle cx="1069.1" cy="836" r="5.4"/><circle cx="1077.4" cy="833.5" r="5.4"/><circle cx="1099.5" cy="632.7" r="5.4"/><circle cx="1107.2" cy="630" r="5.4"/><circle cx="1114.9" cy="629.5" r="5.4"/><circle cx="1123.5" cy="629.5" r="5.4"/><circle cx="1128" cy="630.9" r="5.4"/><circle cx="1139.8" cy="629.5" r="5.4"/><circle cx="1147.5" cy="631.8" r="5.4"/><circle cx="1155.2" cy="630" r="5.4"/><circle cx="1165.2" cy="631.8" r="5.4"/><circle cx="1170.6" cy="630" r="5.4"/><circle cx="1179.7" cy="629.5" r="5.4"/><circle cx="1187.9" cy="630" r="5.4"/><circle cx="1196.5" cy="630" r="5.4"/><circle cx="1105.4" cy="642.2" r="5.4"/><circle cx="1092.3" cy="640.8" r="5.4"/><circle cx="1092.7" cy="645.4" r="5.4"/><circle cx="1119.9" cy="634" r="5.4"/><circle cx="1123.5" cy="637.7" r="5.4"/><circle cx="1130.8" cy="643.1" r="5.4"/><circle cx="1157" cy="640.4" r="5.4"/><circle cx="1177.9" cy="638.6" r="5.4"/><circle cx="1191.5" cy="641.3" r="5.4"/><circle cx="1196" cy="648.5" r="5.4"/><circle cx="1114.4" cy="647.6" r="5.4"/><circle cx="1109.9" cy="654" r="5.4"/><circle cx="1120.3" cy="653.1" r="5.4"/><circle cx="1138" cy="649.4" r="5.4"/><circle cx="1147.5" cy="645.8" r="5.4"/><circle cx="1151.6" cy="654.9" r="5.4"/><circle cx="1149.8" cy="656.7" r="5.4"/><circle cx="1165.2" cy="652.6" r="5.4"/><circle cx="1179.7" cy="659" r="5.4"/><circle cx="1119" cy="666.2" r="5.4"/><circle cx="1096.3" cy="670.3" r="5.4"/><circle cx="1092.2" cy="677.5" r="5.4"/><circle cx="1106.3" cy="681.6" r="5.4"/><circle cx="1146.2" cy="666.7" r="5.4"/><circle cx="1151.6" cy="673.9" r="5.4"/><circle cx="1162" cy="669.4" r="5.4"/><circle cx="1166.6" cy="679.4" r="5.4"/><circle cx="1180.2" cy="673.9" r="5.4"/><circle cx="1187" cy="677.5" r="5.4"/><circle cx="1135.3" cy="682.5" r="5.4"/><circle cx="1141.6" cy="678" r="5.4"/><circle cx="1157" cy="687.1" r="5.4"/><circle cx="1143" cy="693.4" r="5.4"/><circle cx="1134.8" cy="697.5" r="5.4"/><circle cx="1173.8" cy="694.8" r="5.4"/><circle cx="1093.6" cy="705.2" r="5.4"/><circle cx="1117.2" cy="703.8" r="5.4"/><circle cx="1122.6" cy="706.1" r="5.4"/><circle cx="1146.2" cy="706.5" r="5.4"/><circle cx="1203.2" cy="630.4" r="5.4"/><circle cx="1206.8" cy="638.6" r="5.4"/><circle cx="1199" cy="643" r="5.4"/><circle cx="1214.9" cy="630.9" r="5.4"/><circle cx="1218.6" cy="631.3" r="5.4"/><circle cx="1229" cy="633.1" r="5.4"/><circle cx="1237.6" cy="639.5" r="5.4"/><circle cx="1243.9" cy="630" r="5.4"/><circle cx="1301.3" cy="630.2" r="5.4"/><circle cx="1255.3" cy="654.9" r="5.4"/><circle cx="1253.5" cy="664.9" r="5.4"/><circle cx="1207.2" cy="670.7" r="5.4"/><circle cx="1210" cy="682.1" r="5.4"/><circle cx="1246.2" cy="697.5" r="5.4"/><circle cx="1134.8" cy="712.5" r="5.4"/><circle cx="1142.3" cy="712.5" r="5.4"/><circle cx="1093.3" cy="721.6" r="5.4"/><circle cx="1111.6" cy="719.1" r="5.4"/><circle cx="1124.4" cy="726.3" r="5.4"/><circle cx="1090" cy="734.1" r="5.4"/><circle cx="1104.1" cy="735.4" r="5.4"/><circle cx="1095.8" cy="744.9" r="5.4"/><circle cx="1100" cy="748.2" r="5.4"/><circle cx="1111.6" cy="745.7" r="5.4"/><circle cx="1125.7" cy="750.7" r="5.4"/><circle cx="1160.6" cy="732.9" r="5.4"/><circle cx="1161.4" cy="752.3" r="5.4"/><circle cx="1163.1" cy="759.8" r="5.4"/><circle cx="1173.9" cy="754" r="5.4"/><circle cx="1175.6" cy="760.7" r="5.4"/><circle cx="1190" cy="750.2" r="5.4"/><circle cx="1203" cy="757.3" r="5.4"/><circle cx="1292.2" cy="751.2" r="5.4"/><circle cx="1089.2" cy="770.6" r="5.4"/><circle cx="1109.9" cy="774.8" r="5.4"/><circle cx="1112.4" cy="781.4" r="5.4"/><circle cx="1104.1" cy="783.9" r="5.4"/><circle cx="1107.4" cy="788.1" r="5.4"/><circle cx="1111.6" cy="786.4" r="5.4"/><circle cx="1090.8" cy="783.1" r="5.4"/><circle cx="1090" cy="793.9" r="5.4"/><circle cx="1133.2" cy="781.4" r="5.4"/><circle cx="1134.5" cy="785.1" r="5.4"/><circle cx="1178.6" cy="774.8" r="5.4"/><circle cx="1167.3" cy="788.4" r="5.4"/><circle cx="1158.1" cy="799.4" r="5.4"/><circle cx="1149.8" cy="807.2" r="5.4"/><circle cx="1164.4" cy="814.3" r="5.4"/><circle cx="1190.9" cy="807.5" r="5.4"/><circle cx="1104.6" cy="814.7" r="5.4"/><circle cx="1122.9" cy="816.7" r="5.4"/><circle cx="1149.8" cy="832.9" r="5.4"/><circle cx="1148.1" cy="839.6" r="5.4"/><circle cx="1161.9" cy="830.4" r="5.4"/><circle cx="1164.8" cy="845.4" r="5.4"/><circle cx="965" cy="856.1" r="5.4"/><circle cx="1061.1" cy="852" r="5.4"/><circle cx="1051.1" cy="861.6" r="5.4"/><circle cx="1072.7" cy="873.2" r="5.4"/><circle cx="935.6" cy="874.9" r="5.4"/><circle cx="931.5" cy="895.5" r="5.4"/><circle cx="935" cy="899.5" r="5.4"/><circle cx="945.9" cy="897" r="5.4"/><circle cx="1079.7" cy="908.1" r="5.4"/><circle cx="916.5" cy="929.2" r="5.4"/><circle cx="979.2" cy="929.2" r="5.4"/><circle cx="1073.9" cy="942.7" r="5.4"/><circle cx="1061.9" cy="951" r="5.4"/><circle cx="904.4" cy="982.6" r="5.4"/><circle cx="1048.3" cy="979.1" r="5.4"/><circle cx="1075.2" cy="1001.2" r="5.4"/><circle cx="1060.6" cy="1010.3" r="5.4"/><circle cx="1058.6" cy="1024.4" r="5.4"/><circle cx="984.7" cy="1027.8" r="5.4"/><circle cx="1083.5" cy="1054.4" r="5.4"/><circle cx="966.4" cy="1064.3" r="5.4"/><circle cx="1106.4" cy="639.2" r="5.4"/><circle cx="1114.8" cy="635.6" r="5.4"/><circle cx="1126.9" cy="636.8" r="5.4"/><circle cx="1133" cy="639.2" r="5.4"/><circle cx="1140.2" cy="633.1" r="5.4"/><circle cx="1148.7" cy="639.2" r="5.4"/><circle cx="1120.9" cy="642.8" r="5.4"/><circle cx="1183.9" cy="848.6" r="5.4"/><circle cx="1206.3" cy="848.3" r="5.4"/><circle cx="1089.5" cy="855.8" r="5.4"/><circle cx="1101.1" cy="852.1" r="5.4"/><circle cx="1097.4" cy="868.7" r="5.4"/><circle cx="1112.7" cy="870.2" r="5.4"/><circle cx="1154.3" cy="866.3" r="5.4"/><circle cx="1176.4" cy="878.2" r="5.4"/><circle cx="1157.6" cy="884.5" r="5.4"/><circle cx="1132" cy="886.2" r="5.4"/><circle cx="1090.8" cy="897.7" r="5.4"/><circle cx="1160.6" cy="919.4" r="5.4"/><circle cx="1156.4" cy="928.1" r="5.4"/><circle cx="1162.3" cy="934.4" r="5.4"/><circle cx="1214.9" cy="930.2" r="5.4"/><circle cx="1118.6" cy="931.9" r="5.4"/><circle cx="1106.9" cy="942.2" r="5.4"/><circle cx="1129.5" cy="945.5" r="5.4"/><circle cx="1126.5" cy="951.7" r="5.4"/><circle cx="1107.7" cy="996.2" r="5.4"/><circle cx="1117.4" cy="1002.3" r="5.4"/><circle cx="1108.2" cy="1008.7" r="5.4"/><circle cx="1104.1" cy="1012.8" r="5.4"/><circle cx="1143.1" cy="1015.6" r="5.4"/><circle cx="1134.8" cy="1034.1" r="5.4"/><circle cx="1160.6" cy="1034.4" r="5.4"/></g>
<line x1="897.6" y1="814.4" x2="1301.4" y2="679.2" stroke="#000" stroke-width="3.9" />
<text x="878.8" y="1048.8" font-size="23">R = 0.26, <tspan font-style="italic">p</tspan> &lt; 0.0001</text>
<text x="1.0" y="1187.4" text-anchor="start" font-size="29.5" font-weight="bold" >E</text>
<path d="M131.0,1218.2 V1633.0 H1184.3" fill="none" stroke="#000" stroke-width="2.0"/>
<line x1="125.3" y1="1241.1" x2="131.0" y2="1241.1" stroke="#000" stroke-width="2.0" />
<text x="119.2" y="1249.4" text-anchor="end" font-size="23" font-weight="normal" >10</text>
<line x1="125.3" y1="1372.0" x2="131.0" y2="1372.0" stroke="#000" stroke-width="2.0" />
<text x="119.2" y="1380.3" text-anchor="end" font-size="23" font-weight="normal" >8</text>
<line x1="125.3" y1="1505.0" x2="131.0" y2="1505.0" stroke="#000" stroke-width="2.0" />
<text x="119.2" y="1513.3" text-anchor="end" font-size="23" font-weight="normal" >6</text>
<line x1="192.9" y1="1633.0" x2="192.9" y2="1638.7" stroke="#000" stroke-width="2.0" />
<text transform="translate(192.9,1638.6) rotate(-45)" x="1.8" y="17.4" text-anchor="end" font-size="21.7">T cells</text>
<line x1="296.3" y1="1633.0" x2="296.3" y2="1638.7" stroke="#000" stroke-width="2.0" />
<text transform="translate(296.3,1638.6) rotate(-45)" x="1.8" y="17.4" text-anchor="end" font-size="21.7">CD8 T cells</text>
<line x1="399.6" y1="1633.0" x2="399.6" y2="1638.7" stroke="#000" stroke-width="2.0" />
<text transform="translate(399.6,1638.6) rotate(-45)" x="1.8" y="17.4" text-anchor="end" font-size="21.7">Cytotoxic lymphocytes</text>
<line x1="503.0" y1="1633.0" x2="503.0" y2="1638.7" stroke="#000" stroke-width="2.0" />
<text transform="translate(503.0,1638.6) rotate(-45)" x="1.8" y="17.4" text-anchor="end" font-size="21.7">B lineage</text>
<line x1="606.3" y1="1633.0" x2="606.3" y2="1638.7" stroke="#000" stroke-width="2.0" />
<text transform="translate(606.3,1638.6) rotate(-45)" x="1.8" y="17.4" text-anchor="end" font-size="21.7">NK cells</text>
<line x1="709.7" y1="1633.0" x2="709.7" y2="1638.7" stroke="#000" stroke-width="2.0" />
<text transform="translate(709.7,1638.6) rotate(-45)" x="1.8" y="17.4" text-anchor="end" font-size="21.7">Monocytic lineage</text>
<line x1="813.1" y1="1633.0" x2="813.1" y2="1638.7" stroke="#000" stroke-width="2.0" />
<text transform="translate(813.1,1638.6) rotate(-45)" x="1.8" y="17.4" text-anchor="end" font-size="21.7">Myeloid dendritic cells</text>
<line x1="916.4" y1="1633.0" x2="916.4" y2="1638.7" stroke="#000" stroke-width="2.0" />
<text transform="translate(916.4,1638.6) rotate(-45)" x="1.8" y="17.4" text-anchor="end" font-size="21.7">Neutrophils</text>
<line x1="1019.8" y1="1633.0" x2="1019.8" y2="1638.7" stroke="#000" stroke-width="2.0" />
<text transform="translate(1019.8,1638.6) rotate(-45)" x="1.8" y="17.4" text-anchor="end" font-size="21.7">Endothelial cells</text>
<line x1="1123.1" y1="1633.0" x2="1123.1" y2="1638.7" stroke="#000" stroke-width="2.0" />
<text transform="translate(1123.1,1638.6) rotate(-45)" x="1.8" y="17.4" text-anchor="end" font-size="21.7">Fibroblasts</text>
<text transform="translate(84.5,1441.7) rotate(-90)" text-anchor="middle" font-size="23.3">MCP-counter Score</text>
<text x="192.9" y="1238.5" text-anchor="middle" font-size="21" font-weight="normal" >****</text>
<text x="296.3" y="1240.4" text-anchor="middle" font-size="21" font-weight="normal" >ns</text>
<text x="399.6" y="1238.5" text-anchor="middle" font-size="21" font-weight="normal" >****</text>
<text x="503.0" y="1240.4" text-anchor="middle" font-size="21" font-weight="normal" >ns</text>
<text x="606.3" y="1238.5" text-anchor="middle" font-size="21" font-weight="normal" >****</text>
<text x="709.7" y="1238.5" text-anchor="middle" font-size="21" font-weight="normal" >**</text>
<text x="813.1" y="1238.5" text-anchor="middle" font-size="21" font-weight="normal" >***</text>
<text x="916.4" y="1238.5" text-anchor="middle" font-size="21" font-weight="normal" >*</text>
<text x="1019.8" y="1238.5" text-anchor="middle" font-size="21" font-weight="normal" >**</text>
<text x="1123.1" y="1238.5" text-anchor="middle" font-size="21" font-weight="normal" >***</text>
<text x="473.0" y="1197.6" text-anchor="start" font-size="23.8" font-weight="normal" >Groups</text>
<g stroke="#FF0000" stroke-width="1.8" fill="none"><line x1="593.2" y1="1176.4" x2="593.2" y2="1181.9"/><line x1="593.2" y1="1199.8" x2="593.2" y2="1205.2"/><rect x="579.6" y="1181.9" width="27.2" height="17.9"/><line x1="579.6" y1="1190.8" x2="606.8" y2="1190.8"/></g><circle cx="593.2" cy="1190.8" r="2.6" fill="#FF0000"/>
<text x="618.5" y="1197.6" font-size="23.4">High <tspan font-style="italic">bub1</tspan> expression</text>
<g stroke="#0000FF" stroke-width="1.8" fill="none"><line x1="896.5" y1="1176.4" x2="896.5" y2="1181.9"/><line x1="896.5" y1="1199.8" x2="896.5" y2="1205.2"/><rect x="882.9" y="1181.9" width="27.2" height="17.9"/><line x1="882.9" y1="1190.8" x2="910.1" y2="1190.8"/></g><circle cx="896.5" cy="1190.8" r="2.6" fill="#0000FF"/>
<text x="920.4" y="1197.6" font-size="23.8">Low <tspan font-style="italic">bub1</tspan> expression</text>
<g stroke="#FF0000" fill="none" stroke-width="2.0"><line x1="172.1" y1="1422.3" x2="172.1" y2="1493.4"/><line x1="172.1" y1="1544.1" x2="172.1" y2="1560.0"/><rect x="153.8" y="1493.4" width="36.7" height="50.7"/><line x1="153.8" y1="1532.1" x2="190.4" y2="1532.1" stroke-width="3.1"/></g>
<g stroke="#0000FF" fill="none" stroke-width="2.0"><line x1="213.7" y1="1443.3" x2="213.7" y2="1493.4"/><line x1="213.7" y1="1531.5" x2="213.7" y2="1549.0"/><rect x="195.4" y="1493.4" width="36.7" height="38.1"/><line x1="195.4" y1="1517.5" x2="232.1" y2="1517.5" stroke-width="3.1"/></g>
<g stroke="#FF0000" fill="none" stroke-width="2.0"><line x1="275.5" y1="1428.0" x2="275.5" y2="1493.4"/><line x1="275.5" y1="1520.0" x2="275.5" y2="1540.0"/><rect x="257.1" y="1493.4" width="36.7" height="26.6"/><line x1="257.1" y1="1509.3" x2="293.8" y2="1509.3" stroke-width="3.1"/></g>
<g stroke="#0000FF" fill="none" stroke-width="2.0"><line x1="317.1" y1="1440.0" x2="317.1" y2="1491.3"/><line x1="317.1" y1="1514.8" x2="317.1" y2="1546.8"/><rect x="298.7" y="1491.3" width="36.7" height="23.5"/><line x1="298.7" y1="1502.1" x2="335.4" y2="1502.1" stroke-width="3.1"/></g>
<g stroke="#FF0000" fill="none" stroke-width="2.0"><line x1="378.8" y1="1505.6" x2="378.8" y2="1547.9"/><line x1="378.8" y1="1578.9" x2="378.8" y2="1600.0"/><rect x="360.5" y="1547.9" width="36.7" height="31.0"/><line x1="360.5" y1="1566.1" x2="397.2" y2="1566.1" stroke-width="3.1"/></g>
<g stroke="#0000FF" fill="none" stroke-width="2.0"><line x1="420.4" y1="1490.6" x2="420.4" y2="1532.3"/><line x1="420.4" y1="1564.8" x2="420.4" y2="1595.9"/><rect x="402.1" y="1532.3" width="36.7" height="32.5"/><line x1="402.1" y1="1551.1" x2="438.8" y2="1551.1" stroke-width="3.1"/></g>
<g stroke="#FF0000" fill="none" stroke-width="2.0"><line x1="482.2" y1="1479.3" x2="482.2" y2="1505.2"/><line x1="482.2" y1="1537.6" x2="482.2" y2="1555.4"/><rect x="463.8" y="1505.2" width="36.7" height="32.4"/><line x1="463.8" y1="1524.8" x2="500.5" y2="1524.8" stroke-width="3.1"/></g>
<g stroke="#0000FF" fill="none" stroke-width="2.0"><line x1="523.8" y1="1456.7" x2="523.8" y2="1500.9"/><line x1="523.8" y1="1531.4" x2="523.8" y2="1554.5"/><rect x="505.4" y="1500.9" width="36.7" height="30.5"/><line x1="505.4" y1="1519.7" x2="542.1" y2="1519.7" stroke-width="3.1"/></g>
<g stroke="#FF0000" fill="none" stroke-width="2.0"><line x1="585.5" y1="1524.0" x2="585.5" y2="1550.5"/><line x1="585.5" y1="1564.7" x2="585.5" y2="1578.0"/><rect x="567.2" y="1550.5" width="36.7" height="14.2"/><line x1="567.2" y1="1558.4" x2="603.9" y2="1558.4" stroke-width="3.1"/></g>
<g stroke="#0000FF" fill="none" stroke-width="2.0"><line x1="627.1" y1="1512.0" x2="627.1" y2="1543.8"/><line x1="627.1" y1="1559.3" x2="627.1" y2="1577.0"/><rect x="608.8" y="1543.8" width="36.7" height="15.5"/><line x1="608.8" y1="1550.5" x2="645.5" y2="1550.5" stroke-width="3.1"/></g>
<g stroke="#FF0000" fill="none" stroke-width="2.0"><line x1="688.9" y1="1417.2" x2="688.9" y2="1466.9"/><line x1="688.9" y1="1529.9" x2="688.9" y2="1583.5"/><rect x="670.5" y="1466.9" width="36.7" height="63.0"/><line x1="670.5" y1="1503.7" x2="707.2" y2="1503.7" stroke-width="3.1"/></g>
<g stroke="#0000FF" fill="none" stroke-width="2.0"><line x1="730.5" y1="1378.9" x2="730.5" y2="1456.1"/><line x1="730.5" y1="1509.4" x2="730.5" y2="1579.5"/><rect x="712.1" y="1456.1" width="36.7" height="53.3"/><line x1="712.1" y1="1487.2" x2="748.8" y2="1487.2" stroke-width="3.1"/></g>
<g stroke="#FF0000" fill="none" stroke-width="2.0"><line x1="792.3" y1="1527.7" x2="792.3" y2="1564.5"/><line x1="792.3" y1="1592.0" x2="792.3" y2="1612.0"/><rect x="773.9" y="1564.5" width="36.7" height="27.5"/><line x1="773.9" y1="1582.9" x2="810.6" y2="1582.9" stroke-width="3.1"/></g>
<g stroke="#0000FF" fill="none" stroke-width="2.0"><line x1="833.9" y1="1526.1" x2="833.9" y2="1559.4"/><line x1="833.9" y1="1582.9" x2="833.9" y2="1605.4"/><rect x="815.5" y="1559.4" width="36.7" height="23.5"/><line x1="815.5" y1="1571.3" x2="852.2" y2="1571.3" stroke-width="3.1"/></g>
<g stroke="#FF0000" fill="none" stroke-width="2.0"><line x1="895.6" y1="1502.3" x2="895.6" y2="1518.5"/><line x1="895.6" y1="1528.5" x2="895.6" y2="1543.0"/><rect x="877.3" y="1518.5" width="36.7" height="10.0"/><line x1="877.3" y1="1523.3" x2="914.0" y2="1523.3" stroke-width="3.1"/></g>
<g stroke="#0000FF" fill="none" stroke-width="2.0"><line x1="937.2" y1="1487.0" x2="937.2" y2="1515.3"/><line x1="937.2" y1="1526.4" x2="937.2" y2="1540.0"/><rect x="918.9" y="1515.3" width="36.7" height="11.1"/><line x1="918.9" y1="1519.8" x2="955.6" y2="1519.8" stroke-width="3.1"/></g>
<g stroke="#FF0000" fill="none" stroke-width="2.0"><line x1="999.0" y1="1451.1" x2="999.0" y2="1478.9"/><line x1="999.0" y1="1506.4" x2="999.0" y2="1538.0"/><rect x="980.6" y="1478.9" width="36.7" height="27.5"/><line x1="980.6" y1="1495.6" x2="1017.3" y2="1495.6" stroke-width="3.1"/></g>
<g stroke="#0000FF" fill="none" stroke-width="2.0"><line x1="1040.6" y1="1434.5" x2="1040.6" y2="1469.7"/><line x1="1040.6" y1="1499.3" x2="1040.6" y2="1524.4"/><rect x="1022.2" y="1469.7" width="36.7" height="29.6"/><line x1="1022.2" y1="1485.4" x2="1058.9" y2="1485.4" stroke-width="3.1"/></g>
<g stroke="#FF0000" fill="none" stroke-width="2.0"><line x1="1102.3" y1="1281.5" x2="1102.3" y2="1347.7"/><line x1="1102.3" y1="1407.2" x2="1102.3" y2="1491.0"/><rect x="1084.0" y="1347.7" width="36.7" height="59.5"/><line x1="1084.0" y1="1378.5" x2="1120.7" y2="1378.5" stroke-width="3.1"/></g>
<g stroke="#0000FF" fill="none" stroke-width="2.0"><line x1="1143.9" y1="1259.3" x2="1143.9" y2="1330.7"/><line x1="1143.9" y1="1386.8" x2="1143.9" y2="1455.8"/><rect x="1125.6" y="1330.7" width="36.7" height="56.1"/><line x1="1125.6" y1="1360.9" x2="1162.3" y2="1360.9" stroke-width="3.1"/></g>
<g fill="#FF0000"><circle cx="177.2" cy="1472.4" r="2.65"/><circle cx="169.7" cy="1528.1" r="2.65"/><circle cx="167.5" cy="1497.1" r="2.65"/><circle cx="168.0" cy="1503.8" r="2.65"/><circle cx="170.9" cy="1541.7" r="2.65"/><circle cx="167.5" cy="1533.8" r="2.65"/><circle cx="174.7" cy="1436.0" r="2.65"/><circle cx="167.8" cy="1535.9" r="2.65"/><circle cx="167.7" cy="1458.8" r="2.65"/><circle cx="168.5" cy="1537.9" r="2.65"/><circle cx="165.9" cy="1534.2" r="2.65"/><circle cx="174.5" cy="1515.9" r="2.65"/><circle cx="172.2" cy="1546.0" r="2.65"/><circle cx="173.2" cy="1540.9" r="2.65"/><circle cx="169.8" cy="1466.1" r="2.65"/><circle cx="173.6" cy="1489.8" r="2.65"/><circle cx="167.5" cy="1493.4" r="2.65"/><circle cx="171.8" cy="1513.3" r="2.65"/><circle cx="177.1" cy="1543.4" r="2.65"/><circle cx="166.5" cy="1547.4" r="2.65"/><circle cx="170.7" cy="1462.6" r="2.65"/><circle cx="165.7" cy="1469.4" r="2.65"/><circle cx="175.7" cy="1514.6" r="2.65"/><circle cx="176.5" cy="1538.8" r="2.65"/><circle cx="167.7" cy="1542.5" r="2.65"/><circle cx="168.2" cy="1537.1" r="2.65"/><circle cx="169.2" cy="1493.4" r="2.65"/><circle cx="175.0" cy="1525.4" r="2.65"/><circle cx="168.6" cy="1475.2" r="2.65"/><circle cx="165.3" cy="1492.7" r="2.65"/><circle cx="173.3" cy="1535.4" r="2.65"/><circle cx="178.8" cy="1522.7" r="2.65"/><circle cx="174.9" cy="1539.2" r="2.65"/><circle cx="175.4" cy="1544.1" r="2.65"/><circle cx="167.9" cy="1545.0" r="2.65"/><circle cx="178.3" cy="1547.9" r="2.65"/><circle cx="165.3" cy="1492.2" r="2.65"/><circle cx="171.2" cy="1551.5" r="2.65"/><circle cx="167.8" cy="1490.8" r="2.65"/><circle cx="172.4" cy="1493.0" r="2.65"/><circle cx="171.1" cy="1413.0" r="2.65"/><circle cx="178.6" cy="1544.2" r="2.65"/><circle cx="176.5" cy="1558.8" r="2.65"/><circle cx="165.6" cy="1544.5" r="2.65"/><circle cx="172.3" cy="1535.0" r="2.65"/><circle cx="169.7" cy="1509.2" r="2.65"/><circle cx="166.4" cy="1498.4" r="2.65"/><circle cx="166.2" cy="1424.9" r="2.65"/><circle cx="175.1" cy="1545.2" r="2.65"/><circle cx="172.0" cy="1491.6" r="2.65"/><circle cx="172.2" cy="1485.9" r="2.65"/><circle cx="176.1" cy="1482.3" r="2.65"/><circle cx="169.9" cy="1544.7" r="2.65"/><circle cx="178.3" cy="1480.2" r="2.65"/><circle cx="167.7" cy="1549.9" r="2.65"/><circle cx="175.8" cy="1543.0" r="2.65"/><circle cx="168.7" cy="1445.9" r="2.65"/><circle cx="167.4" cy="1529.4" r="2.65"/><circle cx="172.8" cy="1549.2" r="2.65"/><circle cx="176.6" cy="1532.9" r="2.65"/><circle cx="168.5" cy="1540.0" r="2.65"/><circle cx="166.6" cy="1487.4" r="2.65"/><circle cx="165.4" cy="1560.0" r="2.65"/><circle cx="172.9" cy="1550.7" r="2.65"/><circle cx="171.0" cy="1561.3" r="2.65"/><circle cx="174.5" cy="1454.8" r="2.65"/><circle cx="177.2" cy="1537.5" r="2.65"/><circle cx="165.3" cy="1544.1" r="2.65"/><circle cx="169.4" cy="1557.6" r="2.65"/><circle cx="171.0" cy="1506.5" r="2.65"/><circle cx="173.6" cy="1507.9" r="2.65"/><circle cx="173.0" cy="1554.3" r="2.65"/><circle cx="166.0" cy="1526.7" r="2.65"/><circle cx="166.4" cy="1524.0" r="2.65"/><circle cx="178.3" cy="1505.2" r="2.65"/><circle cx="172.3" cy="1450.5" r="2.65"/><circle cx="168.4" cy="1532.1" r="2.65"/><circle cx="172.4" cy="1539.6" r="2.65"/><circle cx="178.3" cy="1534.6" r="2.65"/><circle cx="178.5" cy="1495.8" r="2.65"/><circle cx="167.3" cy="1532.5" r="2.65"/><circle cx="177.3" cy="1541.3" r="2.65"/><circle cx="170.3" cy="1556.4" r="2.65"/><circle cx="172.9" cy="1499.8" r="2.65"/><circle cx="172.8" cy="1536.3" r="2.65"/><circle cx="167.3" cy="1545.6" r="2.65"/><circle cx="167.0" cy="1552.4" r="2.65"/><circle cx="169.7" cy="1430.6" r="2.65"/><circle cx="170.1" cy="1548.5" r="2.65"/><circle cx="170.9" cy="1441.1" r="2.65"/><circle cx="171.0" cy="1477.8" r="2.65"/><circle cx="176.0" cy="1520.0" r="2.65"/><circle cx="176.2" cy="1536.7" r="2.65"/><circle cx="167.9" cy="1555.3" r="2.65"/><circle cx="178.7" cy="1533.4" r="2.65"/><circle cx="166.7" cy="1542.1" r="2.65"/><circle cx="167.5" cy="1553.3" r="2.65"/><circle cx="168.4" cy="1494.4" r="2.65"/><circle cx="170.8" cy="1484.2" r="2.65"/><circle cx="172.6" cy="1493.2" r="2.65"/><circle cx="177.8" cy="1521.3" r="2.65"/><circle cx="170.3" cy="1517.3" r="2.65"/><circle cx="178.6" cy="1546.8" r="2.65"/><circle cx="175.3" cy="1540.4" r="2.65"/><circle cx="166.1" cy="1511.9" r="2.65"/><circle cx="176.3" cy="1538.4" r="2.65"/><circle cx="178.1" cy="1543.8" r="2.65"/><circle cx="175.8" cy="1518.6" r="2.65"/><circle cx="170.9" cy="1546.4" r="2.65"/><circle cx="169.1" cy="1408.0" r="2.65"/><circle cx="178.5" cy="1544.2" r="2.65"/><circle cx="173.8" cy="1510.6" r="2.65"/><circle cx="175.8" cy="1502.5" r="2.65"/><circle cx="174.8" cy="1501.1" r="2.65"/><circle cx="169.9" cy="1544.4" r="2.65"/><circle cx="176.2" cy="1488.7" r="2.65"/><circle cx="172.6" cy="1530.8" r="2.65"/></g>
<g fill="#0000FF"><circle cx="211.0" cy="1534.3" r="2.65"/><circle cx="209.8" cy="1469.6" r="2.65"/><circle cx="213.2" cy="1531.5" r="2.65"/><circle cx="213.8" cy="1511.9" r="2.65"/><circle cx="210.0" cy="1487.4" r="2.65"/><circle cx="216.0" cy="1523.8" r="2.65"/><circle cx="207.9" cy="1521.8" r="2.65"/><circle cx="207.3" cy="1456.8" r="2.65"/><circle cx="212.1" cy="1528.8" r="2.65"/><circle cx="219.4" cy="1449.2" r="2.65"/><circle cx="208.0" cy="1505.9" r="2.65"/><circle cx="216.2" cy="1508.5" r="2.65"/><circle cx="212.9" cy="1503.3" r="2.65"/><circle cx="219.4" cy="1486.1" r="2.65"/><circle cx="210.1" cy="1507.6" r="2.65"/><circle cx="217.3" cy="1547.6" r="2.65"/><circle cx="217.9" cy="1493.4" r="2.65"/><circle cx="208.2" cy="1519.8" r="2.65"/><circle cx="208.7" cy="1408.0" r="2.65"/><circle cx="207.6" cy="1531.7" r="2.65"/><circle cx="213.0" cy="1516.2" r="2.65"/><circle cx="212.1" cy="1533.8" r="2.65"/><circle cx="215.4" cy="1463.6" r="2.65"/><circle cx="213.1" cy="1545.0" r="2.65"/><circle cx="219.1" cy="1546.3" r="2.65"/><circle cx="214.3" cy="1538.5" r="2.65"/><circle cx="212.9" cy="1536.2" r="2.65"/><circle cx="207.3" cy="1541.5" r="2.65"/><circle cx="213.9" cy="1511.0" r="2.65"/><circle cx="215.7" cy="1522.2" r="2.65"/><circle cx="214.8" cy="1445.1" r="2.65"/><circle cx="210.3" cy="1514.5" r="2.65"/><circle cx="208.5" cy="1532.3" r="2.65"/><circle cx="217.6" cy="1529.2" r="2.65"/><circle cx="213.3" cy="1526.8" r="2.65"/><circle cx="219.2" cy="1530.2" r="2.65"/><circle cx="214.0" cy="1531.5" r="2.65"/><circle cx="211.2" cy="1535.5" r="2.65"/><circle cx="211.4" cy="1493.1" r="2.65"/><circle cx="219.4" cy="1499.0" r="2.65"/><circle cx="210.5" cy="1498.1" r="2.65"/><circle cx="213.3" cy="1531.2" r="2.65"/><circle cx="209.8" cy="1518.8" r="2.65"/><circle cx="215.5" cy="1492.8" r="2.65"/><circle cx="213.8" cy="1460.3" r="2.65"/><circle cx="215.3" cy="1499.9" r="2.65"/><circle cx="218.3" cy="1466.7" r="2.65"/><circle cx="213.4" cy="1493.2" r="2.65"/><circle cx="207.4" cy="1531.9" r="2.65"/><circle cx="219.1" cy="1521.2" r="2.65"/><circle cx="213.2" cy="1505.0" r="2.65"/><circle cx="213.0" cy="1513.6" r="2.65"/><circle cx="212.2" cy="1540.4" r="2.65"/><circle cx="211.4" cy="1529.8" r="2.65"/><circle cx="218.3" cy="1531.6" r="2.65"/><circle cx="209.8" cy="1524.2" r="2.65"/><circle cx="215.3" cy="1532.1" r="2.65"/><circle cx="209.9" cy="1500.7" r="2.65"/><circle cx="217.5" cy="1496.4" r="2.65"/><circle cx="214.2" cy="1509.3" r="2.65"/><circle cx="209.4" cy="1526.2" r="2.65"/><circle cx="213.1" cy="1523.2" r="2.65"/><circle cx="219.4" cy="1483.0" r="2.65"/><circle cx="208.6" cy="1501.6" r="2.65"/><circle cx="212.9" cy="1543.7" r="2.65"/><circle cx="207.7" cy="1413.0" r="2.65"/><circle cx="209.0" cy="1479.2" r="2.65"/><circle cx="214.4" cy="1524.8" r="2.65"/><circle cx="209.7" cy="1525.8" r="2.65"/><circle cx="212.7" cy="1453.1" r="2.65"/><circle cx="220.3" cy="1488.6" r="2.65"/><circle cx="215.4" cy="1533.3" r="2.65"/><circle cx="216.8" cy="1491.3" r="2.65"/><circle cx="209.7" cy="1484.6" r="2.65"/><circle cx="217.2" cy="1522.8" r="2.65"/><circle cx="211.3" cy="1549.0" r="2.65"/><circle cx="214.7" cy="1532.9" r="2.65"/><circle cx="212.4" cy="1515.3" r="2.65"/><circle cx="214.9" cy="1550.5" r="2.65"/><circle cx="218.9" cy="1497.3" r="2.65"/><circle cx="212.7" cy="1530.8" r="2.65"/><circle cx="213.7" cy="1517.8" r="2.65"/><circle cx="211.9" cy="1490.5" r="2.65"/><circle cx="215.7" cy="1420.0" r="2.65"/><circle cx="207.8" cy="1520.8" r="2.65"/><circle cx="215.0" cy="1537.7" r="2.65"/><circle cx="207.0" cy="1481.2" r="2.65"/><circle cx="217.9" cy="1520.2" r="2.65"/><circle cx="214.6" cy="1519.2" r="2.65"/><circle cx="214.7" cy="1525.2" r="2.65"/><circle cx="219.5" cy="1474.8" r="2.65"/><circle cx="214.3" cy="1528.2" r="2.65"/><circle cx="212.2" cy="1534.9" r="2.65"/><circle cx="211.2" cy="1536.9" r="2.65"/><circle cx="211.0" cy="1491.9" r="2.65"/><circle cx="212.0" cy="1542.6" r="2.65"/><circle cx="210.7" cy="1518.2" r="2.65"/><circle cx="213.5" cy="1532.6" r="2.65"/><circle cx="216.9" cy="1493.8" r="2.65"/><circle cx="210.7" cy="1430.0" r="2.65"/><circle cx="217.6" cy="1492.4" r="2.65"/><circle cx="218.3" cy="1512.8" r="2.65"/><circle cx="209.7" cy="1387.8" r="2.65"/><circle cx="216.1" cy="1539.5" r="2.65"/><circle cx="213.6" cy="1506.7" r="2.65"/><circle cx="216.2" cy="1527.2" r="2.65"/><circle cx="213.9" cy="1510.2" r="2.65"/><circle cx="220.5" cy="1527.8" r="2.65"/><circle cx="211.4" cy="1504.2" r="2.65"/><circle cx="212.7" cy="1502.4" r="2.65"/><circle cx="216.9" cy="1517.1" r="2.65"/><circle cx="208.7" cy="1472.2" r="2.65"/><circle cx="210.7" cy="1493.4" r="2.65"/><circle cx="219.6" cy="1489.6" r="2.65"/><circle cx="209.3" cy="1495.6" r="2.65"/><circle cx="207.0" cy="1494.7" r="2.65"/><circle cx="214.8" cy="1477.1" r="2.65"/></g>
<g fill="#FF0000"><circle cx="274.2" cy="1498.4" r="2.65"/><circle cx="278.6" cy="1510.2" r="2.65"/><circle cx="280.2" cy="1517.0" r="2.65"/><circle cx="274.6" cy="1535.1" r="2.65"/><circle cx="272.1" cy="1511.4" r="2.65"/><circle cx="280.0" cy="1502.3" r="2.65"/><circle cx="273.8" cy="1506.2" r="2.65"/><circle cx="270.7" cy="1500.7" r="2.65"/><circle cx="270.3" cy="1493.4" r="2.65"/><circle cx="276.6" cy="1538.1" r="2.65"/><circle cx="270.8" cy="1510.6" r="2.65"/><circle cx="275.1" cy="1479.2" r="2.65"/><circle cx="270.6" cy="1519.2" r="2.65"/><circle cx="277.5" cy="1413.1" r="2.65"/><circle cx="270.5" cy="1516.6" r="2.65"/><circle cx="268.9" cy="1520.5" r="2.65"/><circle cx="268.7" cy="1508.5" r="2.65"/><circle cx="271.7" cy="1496.7" r="2.65"/><circle cx="271.0" cy="1513.2" r="2.65"/><circle cx="271.2" cy="1468.3" r="2.65"/><circle cx="274.2" cy="1514.7" r="2.65"/><circle cx="271.7" cy="1476.8" r="2.65"/><circle cx="280.8" cy="1488.0" r="2.65"/><circle cx="270.1" cy="1505.1" r="2.65"/><circle cx="279.9" cy="1520.7" r="2.65"/><circle cx="278.7" cy="1492.8" r="2.65"/><circle cx="273.0" cy="1533.8" r="2.65"/><circle cx="280.7" cy="1511.7" r="2.65"/><circle cx="271.0" cy="1429.8" r="2.65"/><circle cx="275.6" cy="1519.6" r="2.65"/><circle cx="281.7" cy="1493.1" r="2.65"/><circle cx="277.3" cy="1499.0" r="2.65"/><circle cx="274.4" cy="1483.3" r="2.65"/><circle cx="269.3" cy="1521.0" r="2.65"/><circle cx="273.5" cy="1518.5" r="2.65"/><circle cx="279.3" cy="1492.4" r="2.65"/><circle cx="279.0" cy="1500.1" r="2.65"/><circle cx="272.7" cy="1515.5" r="2.65"/><circle cx="273.5" cy="1433.0" r="2.65"/><circle cx="274.4" cy="1520.1" r="2.65"/><circle cx="281.2" cy="1496.2" r="2.65"/><circle cx="270.1" cy="1501.8" r="2.65"/><circle cx="272.1" cy="1524.6" r="2.65"/><circle cx="270.6" cy="1520.3" r="2.65"/><circle cx="270.4" cy="1528.0" r="2.65"/><circle cx="276.6" cy="1449.4" r="2.65"/><circle cx="280.9" cy="1505.7" r="2.65"/><circle cx="268.7" cy="1490.3" r="2.65"/><circle cx="271.0" cy="1520.0" r="2.65"/><circle cx="278.2" cy="1522.7" r="2.65"/><circle cx="275.0" cy="1504.0" r="2.65"/><circle cx="276.0" cy="1504.6" r="2.65"/><circle cx="280.4" cy="1444.9" r="2.65"/><circle cx="272.0" cy="1494.0" r="2.65"/><circle cx="275.8" cy="1497.3" r="2.65"/><circle cx="269.6" cy="1517.4" r="2.65"/><circle cx="278.3" cy="1521.4" r="2.65"/><circle cx="270.7" cy="1494.5" r="2.65"/><circle cx="274.4" cy="1520.2" r="2.65"/><circle cx="272.1" cy="1532.5" r="2.65"/><circle cx="270.1" cy="1501.2" r="2.65"/><circle cx="271.6" cy="1491.8" r="2.65"/><circle cx="282.1" cy="1453.7" r="2.65"/><circle cx="274.0" cy="1493.3" r="2.65"/><circle cx="270.8" cy="1517.7" r="2.65"/><circle cx="276.5" cy="1426.0" r="2.65"/><circle cx="278.4" cy="1512.9" r="2.65"/><circle cx="269.3" cy="1474.2" r="2.65"/><circle cx="280.9" cy="1457.7" r="2.65"/><circle cx="272.1" cy="1514.0" r="2.65"/><circle cx="276.3" cy="1507.9" r="2.65"/><circle cx="281.9" cy="1489.2" r="2.65"/><circle cx="272.9" cy="1493.4" r="2.65"/><circle cx="282.1" cy="1481.3" r="2.65"/><circle cx="281.3" cy="1513.6" r="2.65"/><circle cx="272.1" cy="1509.9" r="2.65"/><circle cx="274.6" cy="1485.1" r="2.65"/><circle cx="274.0" cy="1491.1" r="2.65"/><circle cx="279.8" cy="1518.9" r="2.65"/><circle cx="273.9" cy="1512.5" r="2.65"/><circle cx="275.5" cy="1503.4" r="2.65"/><circle cx="270.6" cy="1522.2" r="2.65"/><circle cx="278.3" cy="1507.3" r="2.65"/><circle cx="276.0" cy="1515.1" r="2.65"/><circle cx="272.6" cy="1509.0" r="2.65"/><circle cx="278.7" cy="1521.8" r="2.65"/><circle cx="274.7" cy="1512.1" r="2.65"/><circle cx="269.5" cy="1529.1" r="2.65"/><circle cx="272.6" cy="1530.1" r="2.65"/><circle cx="278.1" cy="1509.5" r="2.65"/><circle cx="281.7" cy="1515.9" r="2.65"/><circle cx="278.2" cy="1526.2" r="2.65"/><circle cx="279.1" cy="1511.0" r="2.65"/><circle cx="270.0" cy="1495.1" r="2.65"/><circle cx="271.0" cy="1471.4" r="2.65"/><circle cx="276.7" cy="1536.6" r="2.65"/><circle cx="275.8" cy="1527.1" r="2.65"/><circle cx="271.1" cy="1495.6" r="2.65"/><circle cx="273.2" cy="1514.4" r="2.65"/><circle cx="270.8" cy="1520.0" r="2.65"/><circle cx="269.3" cy="1499.5" r="2.65"/><circle cx="272.5" cy="1497.9" r="2.65"/><circle cx="276.2" cy="1506.8" r="2.65"/><circle cx="276.2" cy="1440.1" r="2.65"/><circle cx="273.6" cy="1516.2" r="2.65"/><circle cx="269.7" cy="1502.9" r="2.65"/><circle cx="278.9" cy="1461.5" r="2.65"/><circle cx="273.5" cy="1523.9" r="2.65"/><circle cx="269.7" cy="1518.1" r="2.65"/><circle cx="271.0" cy="1531.3" r="2.65"/><circle cx="278.3" cy="1486.6" r="2.65"/><circle cx="274.0" cy="1539.6" r="2.65"/><circle cx="269.7" cy="1523.3" r="2.65"/><circle cx="271.5" cy="1525.4" r="2.65"/><circle cx="271.1" cy="1435.1" r="2.65"/><circle cx="271.6" cy="1465.0" r="2.65"/><circle cx="273.4" cy="1541.3" r="2.65"/></g>
<g fill="#0000FF"><circle cx="321.6" cy="1500.4" r="2.65"/><circle cx="312.7" cy="1530.9" r="2.65"/><circle cx="321.7" cy="1496.9" r="2.65"/><circle cx="321.9" cy="1517.1" r="2.65"/><circle cx="316.8" cy="1474.7" r="2.65"/><circle cx="321.8" cy="1509.1" r="2.65"/><circle cx="314.7" cy="1543.1" r="2.65"/><circle cx="312.2" cy="1483.9" r="2.65"/><circle cx="313.4" cy="1500.0" r="2.65"/><circle cx="316.2" cy="1512.3" r="2.65"/><circle cx="321.0" cy="1510.9" r="2.65"/><circle cx="318.5" cy="1442.2" r="2.65"/><circle cx="319.3" cy="1495.3" r="2.65"/><circle cx="310.8" cy="1507.3" r="2.65"/><circle cx="321.3" cy="1505.5" r="2.65"/><circle cx="320.8" cy="1491.3" r="2.65"/><circle cx="313.3" cy="1514.1" r="2.65"/><circle cx="313.1" cy="1490.3" r="2.65"/><circle cx="317.9" cy="1538.7" r="2.65"/><circle cx="322.9" cy="1496.5" r="2.65"/><circle cx="323.0" cy="1497.3" r="2.65"/><circle cx="312.4" cy="1493.8" r="2.65"/><circle cx="314.5" cy="1517.8" r="2.65"/><circle cx="321.2" cy="1521.2" r="2.65"/><circle cx="312.9" cy="1490.7" r="2.65"/><circle cx="320.4" cy="1446.4" r="2.65"/><circle cx="322.7" cy="1509.6" r="2.65"/><circle cx="314.9" cy="1523.5" r="2.65"/><circle cx="317.9" cy="1450.3" r="2.65"/><circle cx="317.1" cy="1504.1" r="2.65"/><circle cx="322.4" cy="1499.6" r="2.65"/><circle cx="320.6" cy="1526.2" r="2.65"/><circle cx="315.1" cy="1402.0" r="2.65"/><circle cx="316.5" cy="1515.4" r="2.65"/><circle cx="317.4" cy="1511.4" r="2.65"/><circle cx="314.2" cy="1505.0" r="2.65"/><circle cx="316.0" cy="1501.9" r="2.65"/><circle cx="313.1" cy="1491.1" r="2.65"/><circle cx="315.6" cy="1504.6" r="2.65"/><circle cx="323.4" cy="1476.9" r="2.65"/><circle cx="316.0" cy="1532.7" r="2.65"/><circle cx="320.7" cy="1513.7" r="2.65"/><circle cx="317.2" cy="1491.3" r="2.65"/><circle cx="314.7" cy="1460.9" r="2.65"/><circle cx="315.1" cy="1516.6" r="2.65"/><circle cx="313.6" cy="1507.8" r="2.65"/><circle cx="312.7" cy="1503.7" r="2.65"/><circle cx="321.0" cy="1498.8" r="2.65"/><circle cx="311.9" cy="1492.6" r="2.65"/><circle cx="320.5" cy="1457.6" r="2.65"/><circle cx="322.1" cy="1493.4" r="2.65"/><circle cx="316.3" cy="1498.4" r="2.65"/><circle cx="321.9" cy="1545.6" r="2.65"/><circle cx="316.5" cy="1512.8" r="2.65"/><circle cx="314.1" cy="1399.0" r="2.65"/><circle cx="310.3" cy="1464.1" r="2.65"/><circle cx="315.8" cy="1511.9" r="2.65"/><circle cx="319.0" cy="1485.2" r="2.65"/><circle cx="310.8" cy="1497.7" r="2.65"/><circle cx="316.4" cy="1514.9" r="2.65"/><circle cx="316.8" cy="1520.2" r="2.65"/><circle cx="312.9" cy="1501.1" r="2.65"/><circle cx="318.9" cy="1534.6" r="2.65"/><circle cx="321.6" cy="1502.3" r="2.65"/><circle cx="316.1" cy="1433.0" r="2.65"/><circle cx="318.1" cy="1491.9" r="2.65"/><circle cx="321.7" cy="1499.2" r="2.65"/><circle cx="312.7" cy="1489.1" r="2.65"/><circle cx="314.8" cy="1467.0" r="2.65"/><circle cx="317.1" cy="1454.1" r="2.65"/><circle cx="315.3" cy="1506.9" r="2.65"/><circle cx="323.7" cy="1519.3" r="2.65"/><circle cx="310.3" cy="1506.0" r="2.65"/><circle cx="322.3" cy="1491.5" r="2.65"/><circle cx="312.7" cy="1516.1" r="2.65"/><circle cx="321.2" cy="1508.2" r="2.65"/><circle cx="314.0" cy="1469.8" r="2.65"/><circle cx="316.2" cy="1515.1" r="2.65"/><circle cx="315.1" cy="1495.0" r="2.65"/><circle cx="319.6" cy="1503.2" r="2.65"/><circle cx="318.4" cy="1492.3" r="2.65"/><circle cx="317.8" cy="1518.5" r="2.65"/><circle cx="320.2" cy="1510.0" r="2.65"/><circle cx="320.8" cy="1493.0" r="2.65"/><circle cx="321.0" cy="1515.0" r="2.65"/><circle cx="312.1" cy="1496.1" r="2.65"/><circle cx="317.7" cy="1522.3" r="2.65"/><circle cx="315.3" cy="1488.4" r="2.65"/><circle cx="320.1" cy="1429.0" r="2.65"/><circle cx="321.9" cy="1478.9" r="2.65"/><circle cx="312.0" cy="1486.4" r="2.65"/><circle cx="314.8" cy="1502.8" r="2.65"/><circle cx="313.4" cy="1494.6" r="2.65"/><circle cx="319.9" cy="1514.8" r="2.65"/><circle cx="310.6" cy="1508.7" r="2.65"/><circle cx="317.5" cy="1524.8" r="2.65"/><circle cx="322.9" cy="1482.4" r="2.65"/><circle cx="316.6" cy="1495.7" r="2.65"/><circle cx="316.8" cy="1527.7" r="2.65"/><circle cx="312.7" cy="1498.0" r="2.65"/><circle cx="311.4" cy="1491.0" r="2.65"/><circle cx="310.7" cy="1472.3" r="2.65"/><circle cx="316.9" cy="1536.6" r="2.65"/><circle cx="316.6" cy="1500.8" r="2.65"/><circle cx="313.6" cy="1501.5" r="2.65"/><circle cx="319.9" cy="1510.5" r="2.65"/><circle cx="321.2" cy="1487.5" r="2.65"/><circle cx="321.9" cy="1506.4" r="2.65"/><circle cx="313.0" cy="1514.6" r="2.65"/><circle cx="320.1" cy="1436.0" r="2.65"/><circle cx="311.3" cy="1515.7" r="2.65"/><circle cx="310.7" cy="1494.2" r="2.65"/><circle cx="312.4" cy="1489.8" r="2.65"/><circle cx="313.6" cy="1529.2" r="2.65"/><circle cx="314.9" cy="1540.8" r="2.65"/><circle cx="321.4" cy="1513.2" r="2.65"/><circle cx="313.3" cy="1480.7" r="2.65"/></g>
<g fill="#FF0000"><circle cx="379.7" cy="1579.4" r="2.65"/><circle cx="372.3" cy="1575.0" r="2.65"/><circle cx="382.8" cy="1572.3" r="2.65"/><circle cx="380.3" cy="1567.9" r="2.65"/><circle cx="373.7" cy="1547.7" r="2.65"/><circle cx="375.3" cy="1565.5" r="2.65"/><circle cx="383.7" cy="1593.8" r="2.65"/><circle cx="377.4" cy="1563.6" r="2.65"/><circle cx="382.7" cy="1516.9" r="2.65"/><circle cx="372.1" cy="1575.9" r="2.65"/><circle cx="382.3" cy="1561.7" r="2.65"/><circle cx="375.5" cy="1543.4" r="2.65"/><circle cx="375.7" cy="1583.5" r="2.65"/><circle cx="381.2" cy="1591.2" r="2.65"/><circle cx="383.6" cy="1533.7" r="2.65"/><circle cx="383.4" cy="1584.3" r="2.65"/><circle cx="382.0" cy="1567.4" r="2.65"/><circle cx="375.3" cy="1545.8" r="2.65"/><circle cx="383.0" cy="1570.1" r="2.65"/><circle cx="376.2" cy="1546.3" r="2.65"/><circle cx="374.7" cy="1574.1" r="2.65"/><circle cx="381.8" cy="1478.3" r="2.65"/><circle cx="380.9" cy="1599.7" r="2.65"/><circle cx="381.9" cy="1542.4" r="2.65"/><circle cx="375.9" cy="1579.0" r="2.65"/><circle cx="383.2" cy="1547.9" r="2.65"/><circle cx="375.7" cy="1527.4" r="2.65"/><circle cx="381.5" cy="1576.3" r="2.65"/><circle cx="379.3" cy="1573.7" r="2.65"/><circle cx="377.1" cy="1585.1" r="2.65"/><circle cx="377.8" cy="1581.6" r="2.65"/><circle cx="377.4" cy="1579.1" r="2.65"/><circle cx="383.9" cy="1569.2" r="2.65"/><circle cx="373.9" cy="1525.0" r="2.65"/><circle cx="383.1" cy="1522.5" r="2.65"/><circle cx="385.4" cy="1538.7" r="2.65"/><circle cx="382.2" cy="1557.2" r="2.65"/><circle cx="373.4" cy="1578.9" r="2.65"/><circle cx="377.9" cy="1578.6" r="2.65"/><circle cx="373.6" cy="1557.9" r="2.65"/><circle cx="382.3" cy="1556.0" r="2.65"/><circle cx="381.4" cy="1564.2" r="2.65"/><circle cx="378.4" cy="1547.9" r="2.65"/><circle cx="377.8" cy="1547.2" r="2.65"/><circle cx="384.5" cy="1571.9" r="2.65"/><circle cx="373.0" cy="1551.5" r="2.65"/><circle cx="377.5" cy="1598.1" r="2.65"/><circle cx="373.2" cy="1566.1" r="2.65"/><circle cx="382.4" cy="1552.8" r="2.65"/><circle cx="373.2" cy="1556.6" r="2.65"/><circle cx="384.4" cy="1549.6" r="2.65"/><circle cx="375.7" cy="1564.8" r="2.65"/><circle cx="373.3" cy="1537.1" r="2.65"/><circle cx="374.7" cy="1585.9" r="2.65"/><circle cx="374.8" cy="1450.1" r="2.65"/><circle cx="373.3" cy="1558.5" r="2.65"/><circle cx="372.1" cy="1570.6" r="2.65"/><circle cx="381.8" cy="1592.4" r="2.65"/><circle cx="377.2" cy="1550.3" r="2.65"/><circle cx="373.2" cy="1567.0" r="2.65"/><circle cx="376.5" cy="1588.9" r="2.65"/><circle cx="375.8" cy="1529.7" r="2.65"/><circle cx="385.6" cy="1568.8" r="2.65"/><circle cx="373.0" cy="1579.7" r="2.65"/><circle cx="380.8" cy="1513.9" r="2.65"/><circle cx="378.3" cy="1549.0" r="2.65"/><circle cx="375.6" cy="1548.4" r="2.65"/><circle cx="380.9" cy="1552.2" r="2.65"/><circle cx="382.3" cy="1580.7" r="2.65"/><circle cx="374.8" cy="1547.8" r="2.65"/><circle cx="383.4" cy="1535.5" r="2.65"/><circle cx="372.1" cy="1582.2" r="2.65"/><circle cx="378.1" cy="1546.8" r="2.65"/><circle cx="377.1" cy="1578.9" r="2.65"/><circle cx="380.8" cy="1553.4" r="2.65"/><circle cx="381.5" cy="1519.8" r="2.65"/><circle cx="383.7" cy="1545.1" r="2.65"/><circle cx="383.8" cy="1574.6" r="2.65"/><circle cx="373.2" cy="1507.3" r="2.65"/><circle cx="376.2" cy="1586.8" r="2.65"/><circle cx="377.3" cy="1562.9" r="2.65"/><circle cx="378.8" cy="1562.3" r="2.65"/><circle cx="383.4" cy="1595.1" r="2.65"/><circle cx="383.5" cy="1560.4" r="2.65"/><circle cx="378.2" cy="1587.8" r="2.65"/><circle cx="384.5" cy="1547.5" r="2.65"/><circle cx="375.4" cy="1554.1" r="2.65"/><circle cx="372.3" cy="1550.9" r="2.65"/><circle cx="383.8" cy="1566.5" r="2.65"/><circle cx="373.0" cy="1590.0" r="2.65"/><circle cx="382.8" cy="1571.4" r="2.65"/><circle cx="381.8" cy="1581.1" r="2.65"/><circle cx="372.0" cy="1555.3" r="2.65"/><circle cx="375.6" cy="1510.7" r="2.65"/><circle cx="376.7" cy="1577.7" r="2.65"/><circle cx="373.3" cy="1579.2" r="2.65"/><circle cx="384.5" cy="1541.3" r="2.65"/><circle cx="384.7" cy="1582.8" r="2.65"/><circle cx="382.9" cy="1544.3" r="2.65"/><circle cx="384.2" cy="1571.0" r="2.65"/><circle cx="375.5" cy="1531.7" r="2.65"/><circle cx="379.9" cy="1578.1" r="2.65"/><circle cx="373.6" cy="1579.9" r="2.65"/><circle cx="381.4" cy="1554.7" r="2.65"/><circle cx="379.5" cy="1572.8" r="2.65"/><circle cx="372.2" cy="1580.3" r="2.65"/><circle cx="379.1" cy="1575.4" r="2.65"/><circle cx="372.7" cy="1569.7" r="2.65"/><circle cx="373.3" cy="1573.2" r="2.65"/><circle cx="375.9" cy="1559.8" r="2.65"/><circle cx="372.7" cy="1559.1" r="2.65"/><circle cx="383.4" cy="1561.0" r="2.65"/><circle cx="381.0" cy="1596.6" r="2.65"/><circle cx="381.8" cy="1568.3" r="2.65"/><circle cx="377.7" cy="1540.1" r="2.65"/><circle cx="373.0" cy="1577.2" r="2.65"/><circle cx="376.5" cy="1576.8" r="2.65"/></g>
<g fill="#0000FF"><circle cx="417.2" cy="1553.5" r="2.65"/><circle cx="417.6" cy="1495.7" r="2.65"/><circle cx="414.3" cy="1557.4" r="2.65"/><circle cx="426.1" cy="1571.5" r="2.65"/><circle cx="416.5" cy="1565.0" r="2.65"/><circle cx="417.2" cy="1594.0" r="2.65"/><circle cx="421.1" cy="1557.9" r="2.65"/><circle cx="425.8" cy="1565.5" r="2.65"/><circle cx="423.7" cy="1569.6" r="2.65"/><circle cx="420.4" cy="1478.0" r="2.65"/><circle cx="426.8" cy="1578.2" r="2.65"/><circle cx="420.4" cy="1552.6" r="2.65"/><circle cx="423.9" cy="1510.0" r="2.65"/><circle cx="421.7" cy="1537.8" r="2.65"/><circle cx="417.9" cy="1518.6" r="2.65"/><circle cx="415.3" cy="1533.8" r="2.65"/><circle cx="424.0" cy="1531.7" r="2.65"/><circle cx="424.4" cy="1564.8" r="2.65"/><circle cx="422.5" cy="1564.2" r="2.65"/><circle cx="423.4" cy="1561.8" r="2.65"/><circle cx="417.4" cy="1555.0" r="2.65"/><circle cx="424.8" cy="1563.2" r="2.65"/><circle cx="422.9" cy="1536.5" r="2.65"/><circle cx="421.2" cy="1565.8" r="2.65"/><circle cx="424.4" cy="1575.2" r="2.65"/><circle cx="414.9" cy="1585.2" r="2.65"/><circle cx="422.7" cy="1533.1" r="2.65"/><circle cx="422.6" cy="1535.1" r="2.65"/><circle cx="415.7" cy="1547.8" r="2.65"/><circle cx="417.5" cy="1562.7" r="2.65"/><circle cx="423.9" cy="1532.0" r="2.65"/><circle cx="421.2" cy="1559.3" r="2.65"/><circle cx="416.2" cy="1537.1" r="2.65"/><circle cx="415.7" cy="1570.5" r="2.65"/><circle cx="421.3" cy="1526.1" r="2.65"/><circle cx="426.8" cy="1492.3" r="2.65"/><circle cx="416.3" cy="1544.4" r="2.65"/><circle cx="424.4" cy="1531.4" r="2.65"/><circle cx="416.5" cy="1532.3" r="2.65"/><circle cx="420.6" cy="1596.4" r="2.65"/><circle cx="422.7" cy="1587.3" r="2.65"/><circle cx="415.5" cy="1566.2" r="2.65"/><circle cx="414.3" cy="1501.9" r="2.65"/><circle cx="417.2" cy="1565.2" r="2.65"/><circle cx="416.1" cy="1507.5" r="2.65"/><circle cx="414.1" cy="1532.2" r="2.65"/><circle cx="414.2" cy="1550.4" r="2.65"/><circle cx="419.1" cy="1554.5" r="2.65"/><circle cx="422.6" cy="1581.5" r="2.65"/><circle cx="426.1" cy="1549.8" r="2.65"/><circle cx="420.6" cy="1559.8" r="2.65"/><circle cx="425.4" cy="1532.1" r="2.65"/><circle cx="414.7" cy="1538.5" r="2.65"/><circle cx="421.6" cy="1541.8" r="2.65"/><circle cx="416.2" cy="1558.4" r="2.65"/><circle cx="423.8" cy="1558.9" r="2.65"/><circle cx="426.6" cy="1552.1" r="2.65"/><circle cx="421.1" cy="1560.8" r="2.65"/><circle cx="420.2" cy="1539.1" r="2.65"/><circle cx="424.6" cy="1529.8" r="2.65"/><circle cx="415.8" cy="1539.8" r="2.65"/><circle cx="414.4" cy="1524.9" r="2.65"/><circle cx="423.4" cy="1564.9" r="2.65"/><circle cx="421.7" cy="1543.1" r="2.65"/><circle cx="423.3" cy="1504.8" r="2.65"/><circle cx="416.5" cy="1551.6" r="2.65"/><circle cx="420.4" cy="1572.7" r="2.65"/><circle cx="421.0" cy="1589.4" r="2.65"/><circle cx="421.9" cy="1591.6" r="2.65"/><circle cx="421.9" cy="1542.4" r="2.65"/><circle cx="414.5" cy="1579.8" r="2.65"/><circle cx="416.0" cy="1555.5" r="2.65"/><circle cx="419.6" cy="1547.1" r="2.65"/><circle cx="426.0" cy="1527.2" r="2.65"/><circle cx="417.8" cy="1553.0" r="2.65"/><circle cx="419.6" cy="1541.1" r="2.65"/><circle cx="418.4" cy="1476.5" r="2.65"/><circle cx="424.8" cy="1516.7" r="2.65"/><circle cx="421.6" cy="1523.5" r="2.65"/><circle cx="417.4" cy="1489.0" r="2.65"/><circle cx="419.3" cy="1531.0" r="2.65"/><circle cx="426.9" cy="1561.3" r="2.65"/><circle cx="426.9" cy="1566.7" r="2.65"/><circle cx="414.4" cy="1563.7" r="2.65"/><circle cx="421.4" cy="1476.5" r="2.65"/><circle cx="422.4" cy="1567.3" r="2.65"/><circle cx="413.9" cy="1520.4" r="2.65"/><circle cx="415.6" cy="1560.3" r="2.65"/><circle cx="424.9" cy="1548.4" r="2.65"/><circle cx="419.1" cy="1535.8" r="2.65"/><circle cx="424.3" cy="1549.1" r="2.65"/><circle cx="427.0" cy="1556.9" r="2.65"/><circle cx="413.9" cy="1556.4" r="2.65"/><circle cx="422.8" cy="1546.4" r="2.65"/><circle cx="417.2" cy="1534.5" r="2.65"/><circle cx="420.4" cy="1522.0" r="2.65"/><circle cx="426.9" cy="1568.7" r="2.65"/><circle cx="417.1" cy="1554.0" r="2.65"/><circle cx="426.6" cy="1530.4" r="2.65"/><circle cx="414.5" cy="1568.0" r="2.65"/><circle cx="425.2" cy="1576.6" r="2.65"/><circle cx="421.0" cy="1555.9" r="2.65"/><circle cx="424.8" cy="1532.5" r="2.65"/><circle cx="426.4" cy="1564.7" r="2.65"/><circle cx="421.3" cy="1562.3" r="2.65"/><circle cx="413.8" cy="1540.5" r="2.65"/><circle cx="425.9" cy="1543.8" r="2.65"/><circle cx="423.6" cy="1545.1" r="2.65"/><circle cx="422.1" cy="1514.6" r="2.65"/><circle cx="420.8" cy="1545.8" r="2.65"/><circle cx="425.4" cy="1498.9" r="2.65"/><circle cx="426.3" cy="1512.4" r="2.65"/><circle cx="424.3" cy="1573.9" r="2.65"/><circle cx="423.9" cy="1529.1" r="2.65"/><circle cx="426.4" cy="1528.2" r="2.65"/><circle cx="416.0" cy="1551.1" r="2.65"/><circle cx="422.2" cy="1583.3" r="2.65"/></g>
<g fill="#FF0000"><circle cx="487.3" cy="1501.8" r="2.65"/><circle cx="488.3" cy="1525.6" r="2.65"/><circle cx="477.9" cy="1521.3" r="2.65"/><circle cx="478.2" cy="1431.3" r="2.65"/><circle cx="481.5" cy="1504.9" r="2.65"/><circle cx="483.3" cy="1510.6" r="2.65"/><circle cx="487.1" cy="1531.6" r="2.65"/><circle cx="486.1" cy="1490.7" r="2.65"/><circle cx="478.2" cy="1504.7" r="2.65"/><circle cx="480.4" cy="1501.0" r="2.65"/><circle cx="481.3" cy="1516.0" r="2.65"/><circle cx="486.1" cy="1528.1" r="2.65"/><circle cx="482.2" cy="1534.1" r="2.65"/><circle cx="488.3" cy="1537.9" r="2.65"/><circle cx="482.9" cy="1503.6" r="2.65"/><circle cx="479.2" cy="1536.1" r="2.65"/><circle cx="483.7" cy="1506.7" r="2.65"/><circle cx="486.9" cy="1538.1" r="2.65"/><circle cx="488.2" cy="1420.1" r="2.65"/><circle cx="475.5" cy="1505.0" r="2.65"/><circle cx="476.0" cy="1537.7" r="2.65"/><circle cx="476.0" cy="1537.6" r="2.65"/><circle cx="487.7" cy="1540.0" r="2.65"/><circle cx="480.7" cy="1503.1" r="2.65"/><circle cx="481.1" cy="1537.8" r="2.65"/><circle cx="486.0" cy="1540.6" r="2.65"/><circle cx="477.8" cy="1523.6" r="2.65"/><circle cx="487.2" cy="1341.1" r="2.65"/><circle cx="475.4" cy="1526.1" r="2.65"/><circle cx="478.0" cy="1551.2" r="2.65"/><circle cx="478.0" cy="1539.5" r="2.65"/><circle cx="479.0" cy="1541.2" r="2.65"/><circle cx="486.7" cy="1538.4" r="2.65"/><circle cx="481.4" cy="1547.4" r="2.65"/><circle cx="483.2" cy="1431.3" r="2.65"/><circle cx="480.0" cy="1505.1" r="2.65"/><circle cx="481.5" cy="1509.8" r="2.65"/><circle cx="486.3" cy="1524.4" r="2.65"/><circle cx="488.2" cy="1532.1" r="2.65"/><circle cx="487.8" cy="1535.1" r="2.65"/><circle cx="479.0" cy="1498.0" r="2.65"/><circle cx="475.4" cy="1519.0" r="2.65"/><circle cx="482.2" cy="1296.5" r="2.65"/><circle cx="485.1" cy="1508.3" r="2.65"/><circle cx="477.4" cy="1507.5" r="2.65"/><circle cx="485.8" cy="1482.8" r="2.65"/><circle cx="482.2" cy="1505.2" r="2.65"/><circle cx="479.9" cy="1538.7" r="2.65"/><circle cx="476.0" cy="1512.9" r="2.65"/><circle cx="480.7" cy="1515.2" r="2.65"/><circle cx="479.4" cy="1509.0" r="2.65"/><circle cx="483.0" cy="1492.4" r="2.65"/><circle cx="487.4" cy="1528.6" r="2.65"/><circle cx="477.3" cy="1526.6" r="2.65"/><circle cx="476.8" cy="1539.1" r="2.65"/><circle cx="485.8" cy="1548.6" r="2.65"/><circle cx="481.2" cy="1326.1" r="2.65"/><circle cx="476.8" cy="1504.4" r="2.65"/><circle cx="476.5" cy="1529.6" r="2.65"/><circle cx="482.0" cy="1495.4" r="2.65"/><circle cx="480.6" cy="1527.1" r="2.65"/><circle cx="480.3" cy="1545.3" r="2.65"/><circle cx="477.7" cy="1536.6" r="2.65"/><circle cx="479.7" cy="1527.6" r="2.65"/><circle cx="480.3" cy="1552.6" r="2.65"/><circle cx="484.7" cy="1504.0" r="2.65"/><circle cx="477.3" cy="1519.8" r="2.65"/><circle cx="482.5" cy="1500.1" r="2.65"/><circle cx="483.2" cy="1406.0" r="2.65"/><circle cx="485.0" cy="1502.5" r="2.65"/><circle cx="482.4" cy="1514.4" r="2.65"/><circle cx="480.3" cy="1494.0" r="2.65"/><circle cx="482.2" cy="1506.0" r="2.65"/><circle cx="484.2" cy="1411.6" r="2.65"/><circle cx="481.6" cy="1522.9" r="2.65"/><circle cx="485.2" cy="1447.3" r="2.65"/><circle cx="477.9" cy="1525.1" r="2.65"/><circle cx="476.7" cy="1535.6" r="2.65"/><circle cx="484.9" cy="1480.5" r="2.65"/><circle cx="482.8" cy="1522.1" r="2.65"/><circle cx="486.2" cy="1456.3" r="2.65"/><circle cx="482.2" cy="1462.0" r="2.65"/><circle cx="479.6" cy="1546.3" r="2.65"/><circle cx="481.0" cy="1487.0" r="2.65"/><circle cx="488.6" cy="1555.6" r="2.65"/><circle cx="480.4" cy="1518.3" r="2.65"/><circle cx="479.2" cy="1470.0" r="2.65"/><circle cx="481.5" cy="1496.7" r="2.65"/><circle cx="488.9" cy="1543.5" r="2.65"/><circle cx="478.3" cy="1513.7" r="2.65"/><circle cx="486.8" cy="1517.5" r="2.65"/><circle cx="487.5" cy="1499.1" r="2.65"/><circle cx="479.4" cy="1554.1" r="2.65"/><circle cx="485.3" cy="1530.1" r="2.65"/><circle cx="477.2" cy="1455.8" r="2.65"/><circle cx="477.2" cy="1404.6" r="2.65"/><circle cx="479.2" cy="1485.0" r="2.65"/><circle cx="482.2" cy="1394.7" r="2.65"/><circle cx="488.7" cy="1511.3" r="2.65"/><circle cx="483.1" cy="1530.6" r="2.65"/><circle cx="478.3" cy="1549.9" r="2.65"/><circle cx="480.3" cy="1529.1" r="2.65"/><circle cx="486.3" cy="1537.6" r="2.65"/><circle cx="485.2" cy="1531.1" r="2.65"/><circle cx="487.2" cy="1488.9" r="2.65"/><circle cx="479.7" cy="1542.6" r="2.65"/><circle cx="478.1" cy="1533.6" r="2.65"/><circle cx="487.7" cy="1544.3" r="2.65"/><circle cx="482.5" cy="1533.1" r="2.65"/><circle cx="480.5" cy="1537.1" r="2.65"/><circle cx="476.3" cy="1505.2" r="2.65"/><circle cx="479.9" cy="1512.1" r="2.65"/><circle cx="481.2" cy="1534.6" r="2.65"/><circle cx="478.4" cy="1516.7" r="2.65"/><circle cx="479.2" cy="1520.6" r="2.65"/><circle cx="479.0" cy="1541.9" r="2.65"/><circle cx="478.8" cy="1532.6" r="2.65"/></g>
<g fill="#0000FF"><circle cx="524.0" cy="1533.1" r="2.65"/><circle cx="517.5" cy="1530.5" r="2.65"/><circle cx="529.9" cy="1502.3" r="2.65"/><circle cx="530.1" cy="1508.0" r="2.65"/><circle cx="522.0" cy="1531.8" r="2.65"/><circle cx="526.7" cy="1529.2" r="2.65"/><circle cx="520.8" cy="1360.8" r="2.65"/><circle cx="518.8" cy="1335.8" r="2.65"/><circle cx="530.2" cy="1499.1" r="2.65"/><circle cx="519.6" cy="1521.2" r="2.65"/><circle cx="527.0" cy="1504.4" r="2.65"/><circle cx="521.1" cy="1475.6" r="2.65"/><circle cx="526.7" cy="1535.5" r="2.65"/><circle cx="527.5" cy="1523.5" r="2.65"/><circle cx="518.8" cy="1534.2" r="2.65"/><circle cx="526.2" cy="1517.9" r="2.65"/><circle cx="521.3" cy="1531.0" r="2.65"/><circle cx="529.1" cy="1503.7" r="2.65"/><circle cx="520.5" cy="1499.6" r="2.65"/><circle cx="518.8" cy="1492.9" r="2.65"/><circle cx="517.4" cy="1531.4" r="2.65"/><circle cx="523.3" cy="1527.4" r="2.65"/><circle cx="528.4" cy="1500.9" r="2.65"/><circle cx="517.6" cy="1472.6" r="2.65"/><circle cx="520.2" cy="1487.7" r="2.65"/><circle cx="521.3" cy="1548.7" r="2.65"/><circle cx="521.9" cy="1509.4" r="2.65"/><circle cx="517.3" cy="1530.1" r="2.65"/><circle cx="520.9" cy="1522.6" r="2.65"/><circle cx="524.8" cy="1519.9" r="2.65"/><circle cx="524.7" cy="1528.3" r="2.65"/><circle cx="526.0" cy="1544.1" r="2.65"/><circle cx="528.7" cy="1507.3" r="2.65"/><circle cx="523.0" cy="1483.4" r="2.65"/><circle cx="523.6" cy="1505.2" r="2.65"/><circle cx="526.9" cy="1498.4" r="2.65"/><circle cx="524.4" cy="1510.8" r="2.65"/><circle cx="518.1" cy="1527.9" r="2.65"/><circle cx="518.5" cy="1532.0" r="2.65"/><circle cx="523.3" cy="1526.1" r="2.65"/><circle cx="517.8" cy="1531.6" r="2.65"/><circle cx="521.3" cy="1513.7" r="2.65"/><circle cx="526.8" cy="1554.0" r="2.65"/><circle cx="527.7" cy="1506.6" r="2.65"/><circle cx="522.9" cy="1491.3" r="2.65"/><circle cx="519.9" cy="1516.5" r="2.65"/><circle cx="528.5" cy="1519.3" r="2.65"/><circle cx="524.5" cy="1547.1" r="2.65"/><circle cx="528.6" cy="1550.4" r="2.65"/><circle cx="526.7" cy="1503.0" r="2.65"/><circle cx="524.1" cy="1505.9" r="2.65"/><circle cx="520.9" cy="1495.5" r="2.65"/><circle cx="528.5" cy="1469.4" r="2.65"/><circle cx="522.8" cy="1345.2" r="2.65"/><circle cx="530.1" cy="1512.3" r="2.65"/><circle cx="518.7" cy="1532.3" r="2.65"/><circle cx="520.1" cy="1514.4" r="2.65"/><circle cx="523.1" cy="1458.7" r="2.65"/><circle cx="527.6" cy="1524.8" r="2.65"/><circle cx="518.3" cy="1494.3" r="2.65"/><circle cx="518.0" cy="1524.3" r="2.65"/><circle cx="525.8" cy="1430.4" r="2.65"/><circle cx="519.6" cy="1526.5" r="2.65"/><circle cx="524.9" cy="1529.6" r="2.65"/><circle cx="520.7" cy="1510.1" r="2.65"/><circle cx="521.7" cy="1515.1" r="2.65"/><circle cx="521.8" cy="1363.7" r="2.65"/><circle cx="528.8" cy="1523.0" r="2.65"/><circle cx="526.8" cy="1434.5" r="2.65"/><circle cx="519.0" cy="1539.2" r="2.65"/><circle cx="530.1" cy="1511.5" r="2.65"/><circle cx="521.5" cy="1521.7" r="2.65"/><circle cx="526.1" cy="1537.2" r="2.65"/><circle cx="523.7" cy="1515.8" r="2.65"/><circle cx="530.5" cy="1542.8" r="2.65"/><circle cx="520.7" cy="1536.3" r="2.65"/><circle cx="523.1" cy="1500.4" r="2.65"/><circle cx="517.9" cy="1534.8" r="2.65"/><circle cx="527.3" cy="1466.1" r="2.65"/><circle cx="521.0" cy="1508.7" r="2.65"/><circle cx="528.4" cy="1540.3" r="2.65"/><circle cx="529.5" cy="1513.0" r="2.65"/><circle cx="521.1" cy="1541.5" r="2.65"/><circle cx="528.1" cy="1527.0" r="2.65"/><circle cx="517.2" cy="1552.2" r="2.65"/><circle cx="525.2" cy="1501.6" r="2.65"/><circle cx="519.4" cy="1528.8" r="2.65"/><circle cx="524.5" cy="1517.2" r="2.65"/><circle cx="524.4" cy="1485.7" r="2.65"/><circle cx="524.3" cy="1531.5" r="2.65"/><circle cx="520.2" cy="1532.7" r="2.65"/><circle cx="522.6" cy="1522.1" r="2.65"/><circle cx="519.6" cy="1497.6" r="2.65"/><circle cx="524.7" cy="1518.6" r="2.65"/><circle cx="529.3" cy="1525.7" r="2.65"/><circle cx="524.5" cy="1500.8" r="2.65"/><circle cx="524.1" cy="1531.4" r="2.65"/><circle cx="517.5" cy="1538.1" r="2.65"/><circle cx="519.3" cy="1481.0" r="2.65"/><circle cx="519.8" cy="1426.3" r="2.65"/><circle cx="521.3" cy="1533.6" r="2.65"/><circle cx="529.9" cy="1489.6" r="2.65"/><circle cx="526.4" cy="1478.4" r="2.65"/><circle cx="517.6" cy="1462.5" r="2.65"/><circle cx="521.5" cy="1520.8" r="2.65"/><circle cx="525.2" cy="1500.9" r="2.65"/><circle cx="528.1" cy="1500.7" r="2.65"/><circle cx="527.8" cy="1398.4" r="2.65"/><circle cx="520.7" cy="1523.9" r="2.65"/><circle cx="517.6" cy="1545.5" r="2.65"/><circle cx="528.4" cy="1520.4" r="2.65"/><circle cx="517.8" cy="1441.3" r="2.65"/><circle cx="525.8" cy="1450.7" r="2.65"/><circle cx="517.8" cy="1302.9" r="2.65"/><circle cx="528.5" cy="1500.1" r="2.65"/><circle cx="526.3" cy="1496.6" r="2.65"/><circle cx="520.6" cy="1525.2" r="2.65"/></g>
<g fill="#FF0000"><circle cx="589.5" cy="1550.7" r="2.65"/><circle cx="585.8" cy="1553.7" r="2.65"/><circle cx="590.2" cy="1576.2" r="2.65"/><circle cx="584.7" cy="1555.4" r="2.65"/><circle cx="581.4" cy="1561.7" r="2.65"/><circle cx="585.2" cy="1552.9" r="2.65"/><circle cx="583.2" cy="1558.6" r="2.65"/><circle cx="589.0" cy="1570.5" r="2.65"/><circle cx="589.5" cy="1542.7" r="2.65"/><circle cx="585.4" cy="1561.9" r="2.65"/><circle cx="592.2" cy="1551.5" r="2.65"/><circle cx="584.7" cy="1547.1" r="2.65"/><circle cx="591.4" cy="1563.0" r="2.65"/><circle cx="581.1" cy="1525.1" r="2.65"/><circle cx="579.2" cy="1558.4" r="2.65"/><circle cx="582.2" cy="1549.8" r="2.65"/><circle cx="582.6" cy="1577.1" r="2.65"/><circle cx="588.1" cy="1553.5" r="2.65"/><circle cx="582.9" cy="1564.7" r="2.65"/><circle cx="586.6" cy="1562.8" r="2.65"/><circle cx="588.8" cy="1546.4" r="2.65"/><circle cx="589.4" cy="1578.2" r="2.65"/><circle cx="591.7" cy="1564.9" r="2.65"/><circle cx="591.8" cy="1550.4" r="2.65"/><circle cx="590.7" cy="1561.0" r="2.65"/><circle cx="584.9" cy="1565.2" r="2.65"/><circle cx="579.6" cy="1558.8" r="2.65"/><circle cx="584.0" cy="1568.2" r="2.65"/><circle cx="584.2" cy="1564.1" r="2.65"/><circle cx="579.2" cy="1548.8" r="2.65"/><circle cx="580.1" cy="1558.1" r="2.65"/><circle cx="592.1" cy="1567.7" r="2.65"/><circle cx="582.7" cy="1545.6" r="2.65"/><circle cx="586.6" cy="1551.8" r="2.65"/><circle cx="580.5" cy="1550.5" r="2.65"/><circle cx="589.8" cy="1549.2" r="2.65"/><circle cx="591.4" cy="1562.3" r="2.65"/><circle cx="586.1" cy="1564.8" r="2.65"/><circle cx="584.8" cy="1559.1" r="2.65"/><circle cx="591.5" cy="1531.1" r="2.65"/><circle cx="588.1" cy="1566.1" r="2.65"/><circle cx="588.0" cy="1565.4" r="2.65"/><circle cx="582.7" cy="1552.4" r="2.65"/><circle cx="589.7" cy="1565.6" r="2.65"/><circle cx="580.6" cy="1566.8" r="2.65"/><circle cx="588.9" cy="1536.2" r="2.65"/><circle cx="588.7" cy="1552.1" r="2.65"/><circle cx="590.7" cy="1556.8" r="2.65"/><circle cx="579.7" cy="1554.0" r="2.65"/><circle cx="591.8" cy="1539.1" r="2.65"/><circle cx="586.0" cy="1559.3" r="2.65"/><circle cx="589.0" cy="1537.7" r="2.65"/><circle cx="586.3" cy="1561.5" r="2.65"/><circle cx="579.6" cy="1562.1" r="2.65"/><circle cx="591.5" cy="1495.4" r="2.65"/><circle cx="585.9" cy="1551.3" r="2.65"/><circle cx="585.1" cy="1560.6" r="2.65"/><circle cx="589.2" cy="1563.9" r="2.65"/><circle cx="589.4" cy="1555.1" r="2.65"/><circle cx="586.5" cy="1529.2" r="2.65"/><circle cx="580.2" cy="1560.2" r="2.65"/><circle cx="582.7" cy="1534.6" r="2.65"/><circle cx="584.2" cy="1568.7" r="2.65"/><circle cx="589.4" cy="1557.6" r="2.65"/><circle cx="582.1" cy="1556.2" r="2.65"/><circle cx="585.1" cy="1571.9" r="2.65"/><circle cx="586.4" cy="1573.5" r="2.65"/><circle cx="588.0" cy="1563.2" r="2.65"/><circle cx="590.1" cy="1571.2" r="2.65"/><circle cx="590.0" cy="1541.6" r="2.65"/><circle cx="583.5" cy="1504.6" r="2.65"/><circle cx="587.1" cy="1572.7" r="2.65"/><circle cx="585.9" cy="1569.9" r="2.65"/><circle cx="581.4" cy="1551.0" r="2.65"/><circle cx="581.0" cy="1550.2" r="2.65"/><circle cx="583.1" cy="1565.9" r="2.65"/><circle cx="585.9" cy="1565.0" r="2.65"/><circle cx="590.4" cy="1566.5" r="2.65"/><circle cx="591.3" cy="1554.3" r="2.65"/><circle cx="590.2" cy="1559.9" r="2.65"/><circle cx="591.8" cy="1564.5" r="2.65"/><circle cx="582.7" cy="1544.7" r="2.65"/><circle cx="588.5" cy="1527.2" r="2.65"/><circle cx="587.3" cy="1552.6" r="2.65"/><circle cx="590.8" cy="1569.3" r="2.65"/><circle cx="583.5" cy="1559.5" r="2.65"/><circle cx="582.5" cy="1562.6" r="2.65"/><circle cx="585.5" cy="1550.4" r="2.65"/><circle cx="579.0" cy="1557.0" r="2.65"/><circle cx="579.7" cy="1556.5" r="2.65"/><circle cx="588.3" cy="1548.3" r="2.65"/><circle cx="588.8" cy="1540.4" r="2.65"/><circle cx="591.2" cy="1554.8" r="2.65"/><circle cx="581.5" cy="1550.1" r="2.65"/><circle cx="588.3" cy="1532.9" r="2.65"/><circle cx="584.9" cy="1550.5" r="2.65"/><circle cx="590.2" cy="1553.2" r="2.65"/><circle cx="583.2" cy="1547.7" r="2.65"/><circle cx="579.8" cy="1563.4" r="2.65"/><circle cx="583.2" cy="1575.2" r="2.65"/><circle cx="584.7" cy="1564.7" r="2.65"/><circle cx="579.7" cy="1560.8" r="2.65"/><circle cx="589.2" cy="1563.7" r="2.65"/><circle cx="586.6" cy="1554.6" r="2.65"/><circle cx="583.0" cy="1567.2" r="2.65"/><circle cx="582.9" cy="1574.3" r="2.65"/><circle cx="582.8" cy="1557.3" r="2.65"/><circle cx="582.7" cy="1560.4" r="2.65"/><circle cx="591.4" cy="1543.8" r="2.65"/><circle cx="584.7" cy="1564.3" r="2.65"/><circle cx="590.3" cy="1555.9" r="2.65"/><circle cx="587.6" cy="1559.7" r="2.65"/><circle cx="591.3" cy="1549.5" r="2.65"/><circle cx="580.2" cy="1564.8" r="2.65"/><circle cx="586.5" cy="1555.7" r="2.65"/><circle cx="584.2" cy="1561.2" r="2.65"/><circle cx="590.3" cy="1557.9" r="2.65"/></g>
<g fill="#0000FF"><circle cx="630.2" cy="1524.7" r="2.65"/><circle cx="625.4" cy="1549.6" r="2.65"/><circle cx="626.5" cy="1543.8" r="2.65"/><circle cx="623.5" cy="1550.0" r="2.65"/><circle cx="624.7" cy="1541.7" r="2.65"/><circle cx="623.9" cy="1513.3" r="2.65"/><circle cx="629.8" cy="1545.6" r="2.65"/><circle cx="626.8" cy="1551.7" r="2.65"/><circle cx="628.4" cy="1528.4" r="2.65"/><circle cx="628.9" cy="1526.6" r="2.65"/><circle cx="626.5" cy="1542.2" r="2.65"/><circle cx="632.1" cy="1543.3" r="2.65"/><circle cx="620.4" cy="1547.2" r="2.65"/><circle cx="621.1" cy="1546.1" r="2.65"/><circle cx="623.2" cy="1555.4" r="2.65"/><circle cx="628.8" cy="1522.7" r="2.65"/><circle cx="632.7" cy="1548.6" r="2.65"/><circle cx="629.6" cy="1559.1" r="2.65"/><circle cx="632.7" cy="1551.4" r="2.65"/><circle cx="625.7" cy="1543.0" r="2.65"/><circle cx="623.1" cy="1567.0" r="2.65"/><circle cx="629.3" cy="1550.3" r="2.65"/><circle cx="632.4" cy="1552.3" r="2.65"/><circle cx="622.0" cy="1560.5" r="2.65"/><circle cx="633.8" cy="1557.5" r="2.65"/><circle cx="623.0" cy="1577.2" r="2.65"/><circle cx="627.6" cy="1545.4" r="2.65"/><circle cx="627.3" cy="1559.5" r="2.65"/><circle cx="626.2" cy="1563.9" r="2.65"/><circle cx="627.1" cy="1552.9" r="2.65"/><circle cx="627.0" cy="1559.6" r="2.65"/><circle cx="626.4" cy="1551.1" r="2.65"/><circle cx="628.1" cy="1561.7" r="2.65"/><circle cx="627.0" cy="1534.5" r="2.65"/><circle cx="628.0" cy="1556.0" r="2.65"/><circle cx="628.3" cy="1543.8" r="2.65"/><circle cx="622.1" cy="1503.4" r="2.65"/><circle cx="621.3" cy="1544.9" r="2.65"/><circle cx="629.9" cy="1561.2" r="2.65"/><circle cx="630.8" cy="1556.6" r="2.65"/><circle cx="629.8" cy="1549.1" r="2.65"/><circle cx="623.3" cy="1565.3" r="2.65"/><circle cx="628.2" cy="1572.1" r="2.65"/><circle cx="631.1" cy="1512.1" r="2.65"/><circle cx="626.2" cy="1553.3" r="2.65"/><circle cx="621.2" cy="1520.5" r="2.65"/><circle cx="626.7" cy="1538.8" r="2.65"/><circle cx="625.0" cy="1559.9" r="2.65"/><circle cx="625.6" cy="1568.9" r="2.65"/><circle cx="621.7" cy="1544.0" r="2.65"/><circle cx="632.5" cy="1547.5" r="2.65"/><circle cx="624.3" cy="1536.9" r="2.65"/><circle cx="624.6" cy="1559.4" r="2.65"/><circle cx="624.5" cy="1530.1" r="2.65"/><circle cx="623.7" cy="1543.7" r="2.65"/><circle cx="628.7" cy="1540.5" r="2.65"/><circle cx="622.4" cy="1559.3" r="2.65"/><circle cx="628.0" cy="1559.7" r="2.65"/><circle cx="629.0" cy="1563.3" r="2.65"/><circle cx="625.9" cy="1545.1" r="2.65"/><circle cx="624.1" cy="1546.3" r="2.65"/><circle cx="630.5" cy="1549.8" r="2.65"/><circle cx="621.2" cy="1549.3" r="2.65"/><circle cx="632.6" cy="1547.7" r="2.65"/><circle cx="632.4" cy="1555.7" r="2.65"/><circle cx="628.8" cy="1554.5" r="2.65"/><circle cx="632.3" cy="1533.1" r="2.65"/><circle cx="626.7" cy="1567.9" r="2.65"/><circle cx="623.8" cy="1535.7" r="2.65"/><circle cx="620.5" cy="1544.4" r="2.65"/><circle cx="627.2" cy="1557.8" r="2.65"/><circle cx="631.5" cy="1552.6" r="2.65"/><circle cx="629.8" cy="1559.3" r="2.65"/><circle cx="623.4" cy="1562.1" r="2.65"/><circle cx="627.2" cy="1553.6" r="2.65"/><circle cx="627.3" cy="1562.7" r="2.65"/><circle cx="621.0" cy="1539.7" r="2.65"/><circle cx="622.6" cy="1557.2" r="2.65"/><circle cx="631.9" cy="1558.2" r="2.65"/><circle cx="625.9" cy="1537.9" r="2.65"/><circle cx="623.8" cy="1543.5" r="2.65"/><circle cx="621.0" cy="1548.2" r="2.65"/><circle cx="628.3" cy="1552.0" r="2.65"/><circle cx="626.8" cy="1550.5" r="2.65"/><circle cx="623.2" cy="1560.8" r="2.65"/><circle cx="623.3" cy="1564.6" r="2.65"/><circle cx="623.6" cy="1553.9" r="2.65"/><circle cx="633.6" cy="1547.9" r="2.65"/><circle cx="629.7" cy="1542.6" r="2.65"/><circle cx="626.1" cy="1556.3" r="2.65"/><circle cx="628.2" cy="1544.2" r="2.65"/><circle cx="622.3" cy="1518.2" r="2.65"/><circle cx="627.1" cy="1558.5" r="2.65"/><circle cx="632.1" cy="1560.2" r="2.65"/><circle cx="627.6" cy="1566.1" r="2.65"/><circle cx="623.0" cy="1546.8" r="2.65"/><circle cx="630.6" cy="1543.6" r="2.65"/><circle cx="628.3" cy="1545.8" r="2.65"/><circle cx="621.2" cy="1555.1" r="2.65"/><circle cx="632.4" cy="1548.9" r="2.65"/><circle cx="626.1" cy="1573.3" r="2.65"/><circle cx="624.5" cy="1550.8" r="2.65"/><circle cx="621.6" cy="1541.1" r="2.65"/><circle cx="633.7" cy="1548.4" r="2.65"/><circle cx="620.9" cy="1574.5" r="2.65"/><circle cx="633.1" cy="1558.8" r="2.65"/><circle cx="620.6" cy="1554.8" r="2.65"/><circle cx="624.1" cy="1575.8" r="2.65"/><circle cx="633.2" cy="1554.2" r="2.65"/><circle cx="625.1" cy="1571.0" r="2.65"/><circle cx="624.4" cy="1556.9" r="2.65"/><circle cx="631.1" cy="1531.7" r="2.65"/><circle cx="632.6" cy="1546.5" r="2.65"/><circle cx="630.2" cy="1544.7" r="2.65"/><circle cx="629.4" cy="1569.9" r="2.65"/><circle cx="631.1" cy="1515.8" r="2.65"/><circle cx="629.5" cy="1547.0" r="2.65"/></g>
<g fill="#FF0000"><circle cx="690.2" cy="1424.9" r="2.65"/><circle cx="690.5" cy="1524.0" r="2.65"/><circle cx="682.6" cy="1443.0" r="2.65"/><circle cx="689.4" cy="1543.6" r="2.65"/><circle cx="689.5" cy="1570.0" r="2.65"/><circle cx="682.9" cy="1515.9" r="2.65"/><circle cx="692.4" cy="1510.5" r="2.65"/><circle cx="692.4" cy="1420.5" r="2.65"/><circle cx="693.9" cy="1484.0" r="2.65"/><circle cx="685.3" cy="1472.6" r="2.65"/><circle cx="690.9" cy="1507.8" r="2.65"/><circle cx="691.6" cy="1529.9" r="2.65"/><circle cx="694.8" cy="1524.9" r="2.65"/><circle cx="694.4" cy="1456.8" r="2.65"/><circle cx="682.5" cy="1462.5" r="2.65"/><circle cx="690.2" cy="1487.8" r="2.65"/><circle cx="690.1" cy="1506.9" r="2.65"/><circle cx="687.0" cy="1517.7" r="2.65"/><circle cx="686.9" cy="1520.4" r="2.65"/><circle cx="686.2" cy="1492.9" r="2.65"/><circle cx="693.3" cy="1491.6" r="2.65"/><circle cx="686.2" cy="1537.2" r="2.65"/><circle cx="693.9" cy="1556.5" r="2.65"/><circle cx="688.5" cy="1508.7" r="2.65"/><circle cx="683.1" cy="1573.0" r="2.65"/><circle cx="687.5" cy="1441.1" r="2.65"/><circle cx="689.0" cy="1495.5" r="2.65"/><circle cx="688.5" cy="1559.0" r="2.65"/><circle cx="683.9" cy="1505.1" r="2.65"/><circle cx="690.9" cy="1437.2" r="2.65"/><circle cx="691.4" cy="1564.3" r="2.65"/><circle cx="688.8" cy="1453.6" r="2.65"/><circle cx="692.0" cy="1511.4" r="2.65"/><circle cx="685.6" cy="1471.3" r="2.65"/><circle cx="692.4" cy="1530.6" r="2.65"/><circle cx="693.6" cy="1481.5" r="2.65"/><circle cx="685.1" cy="1545.5" r="2.65"/><circle cx="685.9" cy="1433.2" r="2.65"/><circle cx="694.7" cy="1467.5" r="2.65"/><circle cx="694.4" cy="1464.8" r="2.65"/><circle cx="695.1" cy="1576.1" r="2.65"/><circle cx="694.2" cy="1499.3" r="2.65"/><circle cx="686.7" cy="1523.1" r="2.65"/><circle cx="682.7" cy="1525.8" r="2.65"/><circle cx="691.6" cy="1465.8" r="2.65"/><circle cx="686.3" cy="1541.8" r="2.65"/><circle cx="684.6" cy="1450.3" r="2.65"/><circle cx="689.3" cy="1503.1" r="2.65"/><circle cx="694.0" cy="1528.5" r="2.65"/><circle cx="694.2" cy="1514.1" r="2.65"/><circle cx="694.2" cy="1521.3" r="2.65"/><circle cx="688.2" cy="1567.1" r="2.65"/><circle cx="690.9" cy="1459.8" r="2.65"/><circle cx="693.2" cy="1516.8" r="2.65"/><circle cx="686.8" cy="1501.8" r="2.65"/><circle cx="689.0" cy="1498.0" r="2.65"/><circle cx="687.6" cy="1529.4" r="2.65"/><circle cx="683.8" cy="1534.7" r="2.65"/><circle cx="687.9" cy="1461.2" r="2.65"/><circle cx="692.5" cy="1515.0" r="2.65"/><circle cx="684.5" cy="1444.9" r="2.65"/><circle cx="692.0" cy="1500.5" r="2.65"/><circle cx="693.8" cy="1463.7" r="2.65"/><circle cx="690.7" cy="1439.2" r="2.65"/><circle cx="688.1" cy="1506.0" r="2.65"/><circle cx="684.9" cy="1455.3" r="2.65"/><circle cx="689.7" cy="1532.6" r="2.65"/><circle cx="684.9" cy="1473.9" r="2.65"/><circle cx="683.7" cy="1418.3" r="2.65"/><circle cx="695.6" cy="1582.5" r="2.65"/><circle cx="686.0" cy="1561.6" r="2.65"/><circle cx="694.4" cy="1429.1" r="2.65"/><circle cx="688.3" cy="1479.0" r="2.65"/><circle cx="687.9" cy="1446.7" r="2.65"/><circle cx="689.5" cy="1504.2" r="2.65"/><circle cx="685.9" cy="1431.2" r="2.65"/><circle cx="691.3" cy="1512.3" r="2.65"/><circle cx="690.9" cy="1485.3" r="2.65"/><circle cx="681.9" cy="1364.6" r="2.65"/><circle cx="683.4" cy="1579.2" r="2.65"/><circle cx="692.1" cy="1494.2" r="2.65"/><circle cx="694.3" cy="1551.8" r="2.65"/><circle cx="684.5" cy="1547.5" r="2.65"/><circle cx="688.4" cy="1531.8" r="2.65"/><circle cx="682.9" cy="1513.2" r="2.65"/><circle cx="688.5" cy="1540.2" r="2.65"/><circle cx="688.5" cy="1518.6" r="2.65"/><circle cx="683.4" cy="1530.2" r="2.65"/><circle cx="684.1" cy="1480.2" r="2.65"/><circle cx="682.2" cy="1535.9" r="2.65"/><circle cx="682.9" cy="1427.0" r="2.65"/><circle cx="683.4" cy="1549.6" r="2.65"/><circle cx="682.9" cy="1538.6" r="2.65"/><circle cx="687.2" cy="1496.7" r="2.65"/><circle cx="684.3" cy="1554.1" r="2.65"/><circle cx="683.4" cy="1527.6" r="2.65"/><circle cx="691.2" cy="1482.8" r="2.65"/><circle cx="683.8" cy="1519.5" r="2.65"/><circle cx="684.0" cy="1422.7" r="2.65"/><circle cx="691.9" cy="1458.3" r="2.65"/><circle cx="683.0" cy="1486.6" r="2.65"/><circle cx="693.9" cy="1509.6" r="2.65"/><circle cx="682.7" cy="1448.5" r="2.65"/><circle cx="690.9" cy="1470.1" r="2.65"/><circle cx="691.1" cy="1533.6" r="2.65"/><circle cx="687.7" cy="1468.8" r="2.65"/><circle cx="686.9" cy="1526.7" r="2.65"/><circle cx="682.4" cy="1531.1" r="2.65"/><circle cx="691.7" cy="1489.1" r="2.65"/><circle cx="694.3" cy="1452.0" r="2.65"/><circle cx="691.9" cy="1477.7" r="2.65"/><circle cx="683.2" cy="1475.1" r="2.65"/><circle cx="695.0" cy="1476.4" r="2.65"/><circle cx="691.1" cy="1490.4" r="2.65"/><circle cx="684.3" cy="1522.2" r="2.65"/><circle cx="691.3" cy="1466.6" r="2.65"/><circle cx="693.7" cy="1435.2" r="2.65"/></g>
<g fill="#0000FF"><circle cx="733.0" cy="1425.1" r="2.65"/><circle cx="731.5" cy="1529.2" r="2.65"/><circle cx="737.0" cy="1485.0" r="2.65"/><circle cx="728.2" cy="1433.3" r="2.65"/><circle cx="729.5" cy="1476.4" r="2.65"/><circle cx="732.1" cy="1445.5" r="2.65"/><circle cx="728.5" cy="1501.9" r="2.65"/><circle cx="734.5" cy="1404.0" r="2.65"/><circle cx="734.4" cy="1413.3" r="2.65"/><circle cx="732.8" cy="1456.9" r="2.65"/><circle cx="733.4" cy="1494.1" r="2.65"/><circle cx="723.9" cy="1510.8" r="2.65"/><circle cx="732.6" cy="1540.3" r="2.65"/><circle cx="730.9" cy="1515.3" r="2.65"/><circle cx="723.9" cy="1443.2" r="2.65"/><circle cx="737.0" cy="1463.4" r="2.65"/><circle cx="735.3" cy="1489.5" r="2.65"/><circle cx="734.7" cy="1449.7" r="2.65"/><circle cx="725.2" cy="1516.8" r="2.65"/><circle cx="725.4" cy="1394.2" r="2.65"/><circle cx="728.5" cy="1471.0" r="2.65"/><circle cx="735.4" cy="1451.6" r="2.65"/><circle cx="735.2" cy="1458.0" r="2.65"/><circle cx="724.3" cy="1416.4" r="2.65"/><circle cx="732.4" cy="1511.6" r="2.65"/><circle cx="725.7" cy="1497.2" r="2.65"/><circle cx="736.6" cy="1553.6" r="2.65"/><circle cx="731.7" cy="1502.6" r="2.65"/><circle cx="732.8" cy="1384.1" r="2.65"/><circle cx="724.8" cy="1492.6" r="2.65"/><circle cx="729.7" cy="1504.2" r="2.65"/><circle cx="736.4" cy="1469.9" r="2.65"/><circle cx="724.2" cy="1499.6" r="2.65"/><circle cx="733.9" cy="1526.8" r="2.65"/><circle cx="736.8" cy="1480.7" r="2.65"/><circle cx="724.6" cy="1494.9" r="2.65"/><circle cx="725.5" cy="1568.9" r="2.65"/><circle cx="736.8" cy="1475.3" r="2.65"/><circle cx="732.1" cy="1507.3" r="2.65"/><circle cx="729.0" cy="1501.1" r="2.65"/><circle cx="731.2" cy="1468.8" r="2.65"/><circle cx="726.9" cy="1488.0" r="2.65"/><circle cx="733.9" cy="1534.5" r="2.65"/><circle cx="728.0" cy="1473.1" r="2.65"/><circle cx="725.4" cy="1454.8" r="2.65"/><circle cx="727.7" cy="1561.0" r="2.65"/><circle cx="730.1" cy="1518.5" r="2.65"/><circle cx="725.1" cy="1491.8" r="2.65"/><circle cx="723.7" cy="1465.6" r="2.65"/><circle cx="732.2" cy="1466.6" r="2.65"/><circle cx="730.2" cy="1460.2" r="2.65"/><circle cx="724.4" cy="1459.1" r="2.65"/><circle cx="734.7" cy="1400.8" r="2.65"/><circle cx="725.5" cy="1447.6" r="2.65"/><circle cx="737.2" cy="1467.7" r="2.65"/><circle cx="736.3" cy="1474.2" r="2.65"/><circle cx="725.0" cy="1490.3" r="2.65"/><circle cx="730.5" cy="1481.8" r="2.65"/><circle cx="726.5" cy="1461.2" r="2.65"/><circle cx="734.6" cy="1564.9" r="2.65"/><circle cx="724.0" cy="1488.7" r="2.65"/><circle cx="725.5" cy="1356.7" r="2.65"/><circle cx="733.4" cy="1573.1" r="2.65"/><circle cx="731.9" cy="1435.9" r="2.65"/><circle cx="734.1" cy="1462.3" r="2.65"/><circle cx="730.7" cy="1496.5" r="2.65"/><circle cx="731.6" cy="1531.8" r="2.65"/><circle cx="733.9" cy="1512.7" r="2.65"/><circle cx="728.4" cy="1438.4" r="2.65"/><circle cx="728.9" cy="1478.5" r="2.65"/><circle cx="731.8" cy="1543.5" r="2.65"/><circle cx="730.6" cy="1495.7" r="2.65"/><circle cx="727.3" cy="1498.8" r="2.65"/><circle cx="728.4" cy="1479.6" r="2.65"/><circle cx="730.0" cy="1464.5" r="2.65"/><circle cx="736.1" cy="1407.2" r="2.65"/><circle cx="726.0" cy="1546.7" r="2.65"/><circle cx="731.4" cy="1472.1" r="2.65"/><circle cx="732.1" cy="1505.7" r="2.65"/><circle cx="733.6" cy="1422.2" r="2.65"/><circle cx="726.9" cy="1427.9" r="2.65"/><circle cx="724.5" cy="1487.2" r="2.65"/><circle cx="725.8" cy="1505.0" r="2.65"/><circle cx="732.5" cy="1363.3" r="2.65"/><circle cx="723.8" cy="1510.1" r="2.65"/><circle cx="736.7" cy="1522.3" r="2.65"/><circle cx="732.2" cy="1390.9" r="2.65"/><circle cx="736.7" cy="1506.5" r="2.65"/><circle cx="733.8" cy="1498.0" r="2.65"/><circle cx="727.8" cy="1482.9" r="2.65"/><circle cx="726.4" cy="1491.1" r="2.65"/><circle cx="733.0" cy="1513.9" r="2.65"/><circle cx="731.2" cy="1486.1" r="2.65"/><circle cx="733.9" cy="1484.0" r="2.65"/><circle cx="727.2" cy="1508.0" r="2.65"/><circle cx="726.2" cy="1493.4" r="2.65"/><circle cx="735.9" cy="1430.6" r="2.65"/><circle cx="724.1" cy="1524.5" r="2.65"/><circle cx="728.0" cy="1410.3" r="2.65"/><circle cx="733.4" cy="1500.3" r="2.65"/><circle cx="732.0" cy="1557.2" r="2.65"/><circle cx="727.4" cy="1550.1" r="2.65"/><circle cx="726.2" cy="1503.4" r="2.65"/><circle cx="733.1" cy="1577.3" r="2.65"/><circle cx="737.0" cy="1455.9" r="2.65"/><circle cx="730.9" cy="1509.6" r="2.65"/><circle cx="724.7" cy="1380.6" r="2.65"/><circle cx="724.4" cy="1419.3" r="2.65"/><circle cx="728.7" cy="1509.4" r="2.65"/><circle cx="736.9" cy="1397.5" r="2.65"/><circle cx="730.5" cy="1453.3" r="2.65"/><circle cx="724.4" cy="1537.4" r="2.65"/><circle cx="726.5" cy="1520.4" r="2.65"/><circle cx="727.4" cy="1477.5" r="2.65"/><circle cx="736.2" cy="1440.9" r="2.65"/><circle cx="736.3" cy="1508.8" r="2.65"/><circle cx="732.9" cy="1387.5" r="2.65"/></g>
<g fill="#FF0000"><circle cx="799.1" cy="1607.3" r="2.65"/><circle cx="786.9" cy="1564.5" r="2.65"/><circle cx="786.9" cy="1556.5" r="2.65"/><circle cx="793.5" cy="1591.8" r="2.65"/><circle cx="795.9" cy="1587.0" r="2.65"/><circle cx="786.1" cy="1587.6" r="2.65"/><circle cx="794.5" cy="1559.8" r="2.65"/><circle cx="786.4" cy="1591.1" r="2.65"/><circle cx="792.0" cy="1564.3" r="2.65"/><circle cx="798.1" cy="1590.2" r="2.65"/><circle cx="785.5" cy="1595.4" r="2.65"/><circle cx="787.7" cy="1608.7" r="2.65"/><circle cx="791.4" cy="1583.8" r="2.65"/><circle cx="797.7" cy="1564.1" r="2.65"/><circle cx="796.8" cy="1593.8" r="2.65"/><circle cx="796.3" cy="1611.7" r="2.65"/><circle cx="795.3" cy="1520.9" r="2.65"/><circle cx="795.0" cy="1583.2" r="2.65"/><circle cx="797.9" cy="1544.6" r="2.65"/><circle cx="786.9" cy="1596.0" r="2.65"/><circle cx="788.6" cy="1602.3" r="2.65"/><circle cx="794.0" cy="1562.7" r="2.65"/><circle cx="787.2" cy="1589.9" r="2.65"/><circle cx="792.9" cy="1553.7" r="2.65"/><circle cx="792.2" cy="1592.0" r="2.65"/><circle cx="795.5" cy="1583.5" r="2.65"/><circle cx="791.8" cy="1582.3" r="2.65"/><circle cx="797.1" cy="1564.4" r="2.65"/><circle cx="789.4" cy="1603.4" r="2.65"/><circle cx="791.9" cy="1581.0" r="2.65"/><circle cx="790.2" cy="1571.4" r="2.65"/><circle cx="794.5" cy="1588.6" r="2.65"/><circle cx="789.8" cy="1586.7" r="2.65"/><circle cx="792.8" cy="1585.4" r="2.65"/><circle cx="793.9" cy="1565.0" r="2.65"/><circle cx="798.1" cy="1604.6" r="2.65"/><circle cx="798.9" cy="1589.2" r="2.65"/><circle cx="794.4" cy="1548.6" r="2.65"/><circle cx="795.5" cy="1593.1" r="2.65"/><circle cx="793.0" cy="1567.5" r="2.65"/><circle cx="798.8" cy="1592.0" r="2.65"/><circle cx="796.5" cy="1588.3" r="2.65"/><circle cx="789.7" cy="1562.1" r="2.65"/><circle cx="787.1" cy="1588.9" r="2.65"/><circle cx="797.2" cy="1540.0" r="2.65"/><circle cx="788.8" cy="1584.5" r="2.65"/><circle cx="798.8" cy="1572.0" r="2.65"/><circle cx="788.5" cy="1560.6" r="2.65"/><circle cx="790.7" cy="1589.5" r="2.65"/><circle cx="788.0" cy="1568.2" r="2.65"/><circle cx="798.9" cy="1575.9" r="2.65"/><circle cx="795.0" cy="1565.6" r="2.65"/><circle cx="796.2" cy="1592.8" r="2.65"/><circle cx="789.8" cy="1577.8" r="2.65"/><circle cx="785.8" cy="1599.2" r="2.65"/><circle cx="794.3" cy="1590.8" r="2.65"/><circle cx="790.1" cy="1573.3" r="2.65"/><circle cx="797.5" cy="1586.1" r="2.65"/><circle cx="796.2" cy="1569.5" r="2.65"/><circle cx="787.5" cy="1580.3" r="2.65"/><circle cx="791.7" cy="1574.6" r="2.65"/><circle cx="793.1" cy="1557.7" r="2.65"/><circle cx="787.5" cy="1570.1" r="2.65"/><circle cx="790.1" cy="1585.1" r="2.65"/><circle cx="794.6" cy="1570.7" r="2.65"/><circle cx="785.6" cy="1591.4" r="2.65"/><circle cx="795.2" cy="1597.5" r="2.65"/><circle cx="796.6" cy="1586.4" r="2.65"/><circle cx="791.3" cy="1537.6" r="2.65"/><circle cx="793.2" cy="1582.9" r="2.65"/><circle cx="790.6" cy="1581.6" r="2.65"/><circle cx="794.3" cy="1563.9" r="2.65"/><circle cx="798.9" cy="1573.9" r="2.65"/><circle cx="795.9" cy="1575.2" r="2.65"/><circle cx="791.1" cy="1550.4" r="2.65"/><circle cx="794.4" cy="1594.3" r="2.65"/><circle cx="787.2" cy="1578.4" r="2.65"/><circle cx="787.3" cy="1534.9" r="2.65"/><circle cx="790.0" cy="1584.8" r="2.65"/><circle cx="798.8" cy="1593.4" r="2.65"/><circle cx="787.7" cy="1568.8" r="2.65"/><circle cx="787.8" cy="1561.4" r="2.65"/><circle cx="796.9" cy="1576.5" r="2.65"/><circle cx="789.4" cy="1592.5" r="2.65"/><circle cx="790.1" cy="1596.7" r="2.65"/><circle cx="793.2" cy="1566.3" r="2.65"/><circle cx="789.4" cy="1577.1" r="2.65"/><circle cx="790.2" cy="1552.1" r="2.65"/><circle cx="798.7" cy="1594.8" r="2.65"/><circle cx="788.8" cy="1613.4" r="2.65"/><circle cx="786.0" cy="1598.3" r="2.65"/><circle cx="789.0" cy="1564.5" r="2.65"/><circle cx="790.4" cy="1592.1" r="2.65"/><circle cx="793.0" cy="1579.1" r="2.65"/><circle cx="788.0" cy="1584.2" r="2.65"/><circle cx="787.7" cy="1588.0" r="2.65"/><circle cx="789.5" cy="1566.9" r="2.65"/><circle cx="790.9" cy="1600.2" r="2.65"/><circle cx="794.1" cy="1592.3" r="2.65"/><circle cx="795.0" cy="1555.1" r="2.65"/><circle cx="793.1" cy="1585.7" r="2.65"/><circle cx="797.7" cy="1532.1" r="2.65"/><circle cx="792.3" cy="1558.8" r="2.65"/><circle cx="794.0" cy="1587.3" r="2.65"/><circle cx="794.3" cy="1480.1" r="2.65"/><circle cx="793.7" cy="1601.2" r="2.65"/><circle cx="788.0" cy="1590.5" r="2.65"/><circle cx="797.3" cy="1563.6" r="2.65"/><circle cx="797.1" cy="1563.2" r="2.65"/><circle cx="793.5" cy="1542.4" r="2.65"/><circle cx="787.4" cy="1592.2" r="2.65"/><circle cx="796.3" cy="1572.7" r="2.65"/><circle cx="798.0" cy="1610.2" r="2.65"/><circle cx="789.5" cy="1605.9" r="2.65"/><circle cx="791.7" cy="1579.7" r="2.65"/><circle cx="798.0" cy="1529.2" r="2.65"/><circle cx="791.4" cy="1546.7" r="2.65"/></g>
<g fill="#0000FF"><circle cx="830.7" cy="1530.2" r="2.65"/><circle cx="832.7" cy="1577.2" r="2.65"/><circle cx="840.5" cy="1576.8" r="2.65"/><circle cx="833.5" cy="1555.2" r="2.65"/><circle cx="834.9" cy="1583.2" r="2.65"/><circle cx="830.9" cy="1537.4" r="2.65"/><circle cx="834.6" cy="1566.9" r="2.65"/><circle cx="830.4" cy="1563.2" r="2.65"/><circle cx="837.1" cy="1527.5" r="2.65"/><circle cx="831.5" cy="1541.5" r="2.65"/><circle cx="838.3" cy="1575.6" r="2.65"/><circle cx="839.4" cy="1585.3" r="2.65"/><circle cx="837.2" cy="1559.3" r="2.65"/><circle cx="831.9" cy="1498.4" r="2.65"/><circle cx="828.7" cy="1590.6" r="2.65"/><circle cx="827.6" cy="1604.3" r="2.65"/><circle cx="838.6" cy="1578.0" r="2.65"/><circle cx="834.6" cy="1573.5" r="2.65"/><circle cx="833.2" cy="1565.2" r="2.65"/><circle cx="829.0" cy="1556.0" r="2.65"/><circle cx="828.4" cy="1552.3" r="2.65"/><circle cx="839.8" cy="1592.8" r="2.65"/><circle cx="829.4" cy="1581.7" r="2.65"/><circle cx="837.8" cy="1545.2" r="2.65"/><circle cx="829.1" cy="1570.7" r="2.65"/><circle cx="830.5" cy="1558.3" r="2.65"/><circle cx="827.1" cy="1576.0" r="2.65"/><circle cx="834.8" cy="1581.3" r="2.65"/><circle cx="838.9" cy="1543.4" r="2.65"/><circle cx="837.2" cy="1580.9" r="2.65"/><circle cx="838.2" cy="1577.6" r="2.65"/><circle cx="828.2" cy="1578.4" r="2.65"/><circle cx="836.8" cy="1586.5" r="2.65"/><circle cx="830.3" cy="1567.3" r="2.65"/><circle cx="833.4" cy="1558.9" r="2.65"/><circle cx="832.9" cy="1597.9" r="2.65"/><circle cx="827.2" cy="1559.4" r="2.65"/><circle cx="836.3" cy="1602.6" r="2.65"/><circle cx="834.4" cy="1562.7" r="2.65"/><circle cx="828.0" cy="1564.4" r="2.65"/><circle cx="835.7" cy="1572.7" r="2.65"/><circle cx="838.8" cy="1557.8" r="2.65"/><circle cx="827.3" cy="1546.8" r="2.65"/><circle cx="836.6" cy="1563.6" r="2.65"/><circle cx="827.1" cy="1585.9" r="2.65"/><circle cx="830.8" cy="1583.4" r="2.65"/><circle cx="832.3" cy="1569.8" r="2.65"/><circle cx="835.3" cy="1591.7" r="2.65"/><circle cx="835.9" cy="1568.2" r="2.65"/><circle cx="832.9" cy="1535.1" r="2.65"/><circle cx="836.4" cy="1564.0" r="2.65"/><circle cx="838.5" cy="1572.3" r="2.65"/><circle cx="838.3" cy="1587.9" r="2.65"/><circle cx="835.6" cy="1583.1" r="2.65"/><circle cx="828.8" cy="1549.8" r="2.65"/><circle cx="834.5" cy="1582.9" r="2.65"/><circle cx="831.7" cy="1571.5" r="2.65"/><circle cx="832.6" cy="1564.8" r="2.65"/><circle cx="839.8" cy="1583.7" r="2.65"/><circle cx="838.9" cy="1560.2" r="2.65"/><circle cx="834.4" cy="1588.8" r="2.65"/><circle cx="836.1" cy="1566.5" r="2.65"/><circle cx="834.6" cy="1582.1" r="2.65"/><circle cx="834.3" cy="1573.1" r="2.65"/><circle cx="839.4" cy="1551.1" r="2.65"/><circle cx="832.0" cy="1568.6" r="2.65"/><circle cx="838.0" cy="1596.5" r="2.65"/><circle cx="831.4" cy="1561.1" r="2.65"/><circle cx="832.9" cy="1509.5" r="2.65"/><circle cx="828.9" cy="1589.7" r="2.65"/><circle cx="830.8" cy="1599.4" r="2.65"/><circle cx="833.5" cy="1579.6" r="2.65"/><circle cx="828.2" cy="1573.9" r="2.65"/><circle cx="835.0" cy="1570.3" r="2.65"/><circle cx="827.2" cy="1561.5" r="2.65"/><circle cx="838.3" cy="1562.3" r="2.65"/><circle cx="839.7" cy="1594.0" r="2.65"/><circle cx="829.1" cy="1567.8" r="2.65"/><circle cx="835.1" cy="1584.8" r="2.65"/><circle cx="829.0" cy="1559.3" r="2.65"/><circle cx="829.6" cy="1539.5" r="2.65"/><circle cx="835.4" cy="1532.7" r="2.65"/><circle cx="832.8" cy="1571.1" r="2.65"/><circle cx="831.2" cy="1569.0" r="2.65"/><circle cx="837.1" cy="1561.9" r="2.65"/><circle cx="839.6" cy="1582.5" r="2.65"/><circle cx="834.9" cy="1512.2" r="2.65"/><circle cx="830.1" cy="1578.8" r="2.65"/><circle cx="840.1" cy="1606.1" r="2.65"/><circle cx="830.1" cy="1576.4" r="2.65"/><circle cx="832.6" cy="1565.7" r="2.65"/><circle cx="838.6" cy="1571.9" r="2.65"/><circle cx="836.6" cy="1584.0" r="2.65"/><circle cx="830.0" cy="1579.2" r="2.65"/><circle cx="835.3" cy="1558.6" r="2.65"/><circle cx="838.8" cy="1580.1" r="2.65"/><circle cx="840.7" cy="1587.2" r="2.65"/><circle cx="832.0" cy="1554.3" r="2.65"/><circle cx="833.4" cy="1595.2" r="2.65"/><circle cx="830.1" cy="1560.7" r="2.65"/><circle cx="836.5" cy="1569.4" r="2.65"/><circle cx="836.6" cy="1559.8" r="2.65"/><circle cx="827.8" cy="1548.3" r="2.65"/><circle cx="835.3" cy="1583.0" r="2.65"/><circle cx="831.6" cy="1582.9" r="2.65"/><circle cx="837.3" cy="1559.4" r="2.65"/><circle cx="833.0" cy="1601.0" r="2.65"/><circle cx="828.8" cy="1584.4" r="2.65"/><circle cx="831.4" cy="1574.4" r="2.65"/><circle cx="829.5" cy="1574.8" r="2.65"/><circle cx="832.5" cy="1553.4" r="2.65"/><circle cx="828.7" cy="1566.1" r="2.65"/><circle cx="829.6" cy="1559.1" r="2.65"/><circle cx="840.2" cy="1556.7" r="2.65"/><circle cx="828.1" cy="1580.5" r="2.65"/><circle cx="837.4" cy="1575.2" r="2.65"/><circle cx="837.0" cy="1557.3" r="2.65"/></g>
<g fill="#FF0000"><circle cx="900.6" cy="1529.1" r="2.65"/><circle cx="891.9" cy="1525.9" r="2.65"/><circle cx="896.2" cy="1519.6" r="2.65"/><circle cx="889.8" cy="1525.5" r="2.65"/><circle cx="892.6" cy="1518.1" r="2.65"/><circle cx="899.6" cy="1523.1" r="2.65"/><circle cx="900.9" cy="1524.8" r="2.65"/><circle cx="898.1" cy="1533.5" r="2.65"/><circle cx="895.7" cy="1525.2" r="2.65"/><circle cx="896.5" cy="1531.3" r="2.65"/><circle cx="898.6" cy="1516.7" r="2.65"/><circle cx="898.8" cy="1518.3" r="2.65"/><circle cx="891.9" cy="1525.7" r="2.65"/><circle cx="896.5" cy="1521.4" r="2.65"/><circle cx="890.7" cy="1518.6" r="2.65"/><circle cx="895.9" cy="1522.9" r="2.65"/><circle cx="895.3" cy="1513.0" r="2.65"/><circle cx="890.5" cy="1528.1" r="2.65"/><circle cx="901.3" cy="1528.8" r="2.65"/><circle cx="893.1" cy="1517.4" r="2.65"/><circle cx="900.4" cy="1520.2" r="2.65"/><circle cx="896.1" cy="1523.6" r="2.65"/><circle cx="896.5" cy="1527.7" r="2.65"/><circle cx="899.3" cy="1506.6" r="2.65"/><circle cx="897.8" cy="1540.9" r="2.65"/><circle cx="899.3" cy="1528.2" r="2.65"/><circle cx="902.0" cy="1524.1" r="2.65"/><circle cx="892.8" cy="1517.9" r="2.65"/><circle cx="893.7" cy="1530.9" r="2.65"/><circle cx="899.1" cy="1522.2" r="2.65"/><circle cx="894.4" cy="1518.5" r="2.65"/><circle cx="898.2" cy="1503.0" r="2.65"/><circle cx="899.9" cy="1520.6" r="2.65"/><circle cx="898.1" cy="1519.9" r="2.65"/><circle cx="901.8" cy="1517.6" r="2.65"/><circle cx="900.8" cy="1528.4" r="2.65"/><circle cx="889.3" cy="1518.9" r="2.65"/><circle cx="901.4" cy="1520.1" r="2.65"/><circle cx="900.9" cy="1526.4" r="2.65"/><circle cx="901.8" cy="1514.9" r="2.65"/><circle cx="892.3" cy="1528.5" r="2.65"/><circle cx="890.3" cy="1523.9" r="2.65"/><circle cx="896.9" cy="1527.2" r="2.65"/><circle cx="898.3" cy="1525.0" r="2.65"/><circle cx="896.2" cy="1527.3" r="2.65"/><circle cx="891.3" cy="1520.9" r="2.65"/><circle cx="900.8" cy="1527.5" r="2.65"/><circle cx="896.8" cy="1530.5" r="2.65"/><circle cx="899.1" cy="1524.5" r="2.65"/><circle cx="895.2" cy="1507.7" r="2.65"/><circle cx="900.0" cy="1530.1" r="2.65"/><circle cx="895.1" cy="1528.5" r="2.65"/><circle cx="900.6" cy="1534.8" r="2.65"/><circle cx="893.2" cy="1529.5" r="2.65"/><circle cx="891.3" cy="1528.9" r="2.65"/><circle cx="900.7" cy="1543.0" r="2.65"/><circle cx="899.1" cy="1521.6" r="2.65"/><circle cx="901.2" cy="1526.8" r="2.65"/><circle cx="901.7" cy="1521.1" r="2.65"/><circle cx="894.3" cy="1535.5" r="2.65"/><circle cx="897.8" cy="1524.6" r="2.65"/><circle cx="894.8" cy="1538.0" r="2.65"/><circle cx="889.9" cy="1520.7" r="2.65"/><circle cx="891.9" cy="1523.4" r="2.65"/><circle cx="893.9" cy="1518.7" r="2.65"/><circle cx="902.1" cy="1538.9" r="2.65"/><circle cx="898.0" cy="1519.1" r="2.65"/><circle cx="899.5" cy="1521.2" r="2.65"/><circle cx="893.5" cy="1523.7" r="2.65"/><circle cx="902.1" cy="1518.5" r="2.65"/><circle cx="889.5" cy="1541.9" r="2.65"/><circle cx="891.0" cy="1527.9" r="2.65"/><circle cx="893.9" cy="1539.9" r="2.65"/><circle cx="896.3" cy="1511.5" r="2.65"/><circle cx="894.2" cy="1521.7" r="2.65"/><circle cx="895.7" cy="1534.1" r="2.65"/><circle cx="901.2" cy="1524.3" r="2.65"/><circle cx="891.7" cy="1523.2" r="2.65"/><circle cx="894.5" cy="1519.2" r="2.65"/><circle cx="896.7" cy="1531.8" r="2.65"/><circle cx="893.2" cy="1518.4" r="2.65"/><circle cx="892.6" cy="1522.1" r="2.65"/><circle cx="894.6" cy="1518.5" r="2.65"/><circle cx="900.3" cy="1521.9" r="2.65"/><circle cx="897.9" cy="1517.1" r="2.65"/><circle cx="893.2" cy="1528.6" r="2.65"/><circle cx="896.1" cy="1522.4" r="2.65"/><circle cx="894.0" cy="1504.2" r="2.65"/><circle cx="897.5" cy="1508.7" r="2.65"/><circle cx="896.5" cy="1510.6" r="2.65"/><circle cx="889.7" cy="1525.4" r="2.65"/><circle cx="899.2" cy="1536.3" r="2.65"/><circle cx="892.7" cy="1529.8" r="2.65"/><circle cx="889.2" cy="1516.4" r="2.65"/><circle cx="889.8" cy="1515.9" r="2.65"/><circle cx="894.0" cy="1514.3" r="2.65"/><circle cx="891.3" cy="1532.3" r="2.65"/><circle cx="895.7" cy="1522.6" r="2.65"/><circle cx="898.3" cy="1518.2" r="2.65"/><circle cx="899.6" cy="1528.6" r="2.65"/><circle cx="901.1" cy="1526.1" r="2.65"/><circle cx="892.5" cy="1526.6" r="2.65"/><circle cx="894.4" cy="1505.5" r="2.65"/><circle cx="894.4" cy="1515.4" r="2.65"/><circle cx="901.0" cy="1522.7" r="2.65"/><circle cx="897.1" cy="1537.1" r="2.65"/><circle cx="898.1" cy="1529.3" r="2.65"/><circle cx="897.7" cy="1519.7" r="2.65"/><circle cx="896.3" cy="1520.4" r="2.65"/><circle cx="893.8" cy="1509.7" r="2.65"/><circle cx="898.6" cy="1512.3" r="2.65"/><circle cx="895.6" cy="1468.7" r="2.65"/><circle cx="889.1" cy="1527.0" r="2.65"/><circle cx="889.6" cy="1526.3" r="2.65"/><circle cx="897.8" cy="1513.7" r="2.65"/><circle cx="897.8" cy="1519.4" r="2.65"/><circle cx="892.4" cy="1532.9" r="2.65"/></g>
<g fill="#0000FF"><circle cx="932.8" cy="1510.7" r="2.65"/><circle cx="937.1" cy="1526.1" r="2.65"/><circle cx="939.3" cy="1532.1" r="2.65"/><circle cx="936.9" cy="1532.8" r="2.65"/><circle cx="934.7" cy="1521.6" r="2.65"/><circle cx="932.7" cy="1526.5" r="2.65"/><circle cx="933.9" cy="1520.5" r="2.65"/><circle cx="935.8" cy="1539.5" r="2.65"/><circle cx="932.6" cy="1524.5" r="2.65"/><circle cx="942.1" cy="1523.0" r="2.65"/><circle cx="935.2" cy="1515.1" r="2.65"/><circle cx="940.0" cy="1504.3" r="2.65"/><circle cx="935.4" cy="1527.9" r="2.65"/><circle cx="932.8" cy="1515.3" r="2.65"/><circle cx="942.3" cy="1525.7" r="2.65"/><circle cx="934.6" cy="1512.7" r="2.65"/><circle cx="934.7" cy="1524.3" r="2.65"/><circle cx="930.5" cy="1514.9" r="2.65"/><circle cx="939.5" cy="1517.5" r="2.65"/><circle cx="942.1" cy="1509.8" r="2.65"/><circle cx="932.4" cy="1526.3" r="2.65"/><circle cx="941.5" cy="1518.4" r="2.65"/><circle cx="939.4" cy="1522.7" r="2.65"/><circle cx="938.9" cy="1519.3" r="2.65"/><circle cx="942.1" cy="1522.5" r="2.65"/><circle cx="940.0" cy="1526.9" r="2.65"/><circle cx="931.3" cy="1533.5" r="2.65"/><circle cx="939.3" cy="1515.6" r="2.65"/><circle cx="935.1" cy="1517.2" r="2.65"/><circle cx="935.8" cy="1512.1" r="2.65"/><circle cx="941.1" cy="1534.2" r="2.65"/><circle cx="939.2" cy="1529.9" r="2.65"/><circle cx="934.2" cy="1520.9" r="2.65"/><circle cx="931.8" cy="1501.4" r="2.65"/><circle cx="943.9" cy="1527.4" r="2.65"/><circle cx="942.5" cy="1526.6" r="2.65"/><circle cx="934.2" cy="1521.8" r="2.65"/><circle cx="936.5" cy="1516.4" r="2.65"/><circle cx="941.0" cy="1515.8" r="2.65"/><circle cx="941.6" cy="1535.8" r="2.65"/><circle cx="943.7" cy="1513.7" r="2.65"/><circle cx="935.9" cy="1502.9" r="2.65"/><circle cx="938.6" cy="1529.4" r="2.65"/><circle cx="933.0" cy="1536.7" r="2.65"/><circle cx="942.6" cy="1514.5" r="2.65"/><circle cx="937.8" cy="1516.9" r="2.65"/><circle cx="942.0" cy="1522.3" r="2.65"/><circle cx="937.7" cy="1530.9" r="2.65"/><circle cx="937.7" cy="1525.9" r="2.65"/><circle cx="931.8" cy="1518.3" r="2.65"/><circle cx="939.2" cy="1529.0" r="2.65"/><circle cx="931.6" cy="1519.2" r="2.65"/><circle cx="941.4" cy="1517.0" r="2.65"/><circle cx="941.1" cy="1518.1" r="2.65"/><circle cx="941.4" cy="1519.6" r="2.65"/><circle cx="935.1" cy="1516.6" r="2.65"/><circle cx="944.0" cy="1514.7" r="2.65"/><circle cx="934.2" cy="1518.6" r="2.65"/><circle cx="934.8" cy="1499.8" r="2.65"/><circle cx="934.7" cy="1519.0" r="2.65"/><circle cx="937.6" cy="1521.4" r="2.65"/><circle cx="941.8" cy="1524.8" r="2.65"/><circle cx="941.7" cy="1516.3" r="2.65"/><circle cx="943.5" cy="1515.3" r="2.65"/><circle cx="937.4" cy="1508.9" r="2.65"/><circle cx="940.8" cy="1516.0" r="2.65"/><circle cx="931.0" cy="1528.6" r="2.65"/><circle cx="932.8" cy="1526.4" r="2.65"/><circle cx="939.9" cy="1505.6" r="2.65"/><circle cx="931.2" cy="1520.0" r="2.65"/><circle cx="936.3" cy="1523.2" r="2.65"/><circle cx="934.2" cy="1537.6" r="2.65"/><circle cx="934.5" cy="1498.1" r="2.65"/><circle cx="938.3" cy="1490.4" r="2.65"/><circle cx="937.5" cy="1518.9" r="2.65"/><circle cx="931.0" cy="1530.4" r="2.65"/><circle cx="936.0" cy="1506.8" r="2.65"/><circle cx="937.5" cy="1527.1" r="2.65"/><circle cx="943.4" cy="1492.5" r="2.65"/><circle cx="942.7" cy="1521.2" r="2.65"/><circle cx="938.6" cy="1515.5" r="2.65"/><circle cx="934.9" cy="1525.0" r="2.65"/><circle cx="933.4" cy="1531.5" r="2.65"/><circle cx="938.4" cy="1494.5" r="2.65"/><circle cx="932.5" cy="1513.3" r="2.65"/><circle cx="940.2" cy="1523.6" r="2.65"/><circle cx="938.6" cy="1523.9" r="2.65"/><circle cx="933.6" cy="1517.8" r="2.65"/><circle cx="934.6" cy="1516.1" r="2.65"/><circle cx="932.8" cy="1517.6" r="2.65"/><circle cx="939.1" cy="1514.1" r="2.65"/><circle cx="933.7" cy="1520.3" r="2.65"/><circle cx="937.0" cy="1526.5" r="2.65"/><circle cx="933.6" cy="1527.6" r="2.65"/><circle cx="932.5" cy="1523.4" r="2.65"/><circle cx="943.1" cy="1516.7" r="2.65"/><circle cx="938.9" cy="1535.0" r="2.65"/><circle cx="931.1" cy="1488.1" r="2.65"/><circle cx="939.1" cy="1518.0" r="2.65"/><circle cx="939.2" cy="1525.4" r="2.65"/><circle cx="932.3" cy="1538.5" r="2.65"/><circle cx="942.2" cy="1515.2" r="2.65"/><circle cx="932.9" cy="1496.3" r="2.65"/><circle cx="938.1" cy="1517.3" r="2.65"/><circle cx="930.6" cy="1518.7" r="2.65"/><circle cx="936.0" cy="1507.9" r="2.65"/><circle cx="942.2" cy="1515.3" r="2.65"/><circle cx="936.1" cy="1519.5" r="2.65"/><circle cx="933.6" cy="1525.2" r="2.65"/><circle cx="941.1" cy="1520.7" r="2.65"/><circle cx="935.8" cy="1519.8" r="2.65"/><circle cx="940.0" cy="1526.4" r="2.65"/><circle cx="937.6" cy="1522.1" r="2.65"/><circle cx="934.8" cy="1524.1" r="2.65"/><circle cx="937.1" cy="1526.8" r="2.65"/><circle cx="932.7" cy="1511.4" r="2.65"/><circle cx="937.8" cy="1528.2" r="2.65"/></g>
<g fill="#FF0000"><circle cx="999.8" cy="1510.2" r="2.65"/><circle cx="993.5" cy="1523.6" r="2.65"/><circle cx="995.2" cy="1495.6" r="2.65"/><circle cx="1003.3" cy="1469.2" r="2.65"/><circle cx="1004.3" cy="1476.8" r="2.65"/><circle cx="998.4" cy="1451.9" r="2.65"/><circle cx="994.9" cy="1489.1" r="2.65"/><circle cx="999.6" cy="1494.4" r="2.65"/><circle cx="1001.6" cy="1495.0" r="2.65"/><circle cx="1003.2" cy="1504.0" r="2.65"/><circle cx="1002.7" cy="1497.9" r="2.65"/><circle cx="992.5" cy="1453.6" r="2.65"/><circle cx="996.7" cy="1516.3" r="2.65"/><circle cx="995.8" cy="1506.5" r="2.65"/><circle cx="996.6" cy="1500.2" r="2.65"/><circle cx="995.5" cy="1527.1" r="2.65"/><circle cx="1001.1" cy="1486.1" r="2.65"/><circle cx="997.1" cy="1504.4" r="2.65"/><circle cx="994.5" cy="1496.4" r="2.65"/><circle cx="1000.6" cy="1491.5" r="2.65"/><circle cx="997.0" cy="1485.0" r="2.65"/><circle cx="1001.3" cy="1499.8" r="2.65"/><circle cx="996.0" cy="1520.5" r="2.65"/><circle cx="999.4" cy="1489.7" r="2.65"/><circle cx="995.0" cy="1425.6" r="2.65"/><circle cx="995.7" cy="1519.0" r="2.65"/><circle cx="1002.5" cy="1466.8" r="2.65"/><circle cx="1005.2" cy="1482.6" r="2.65"/><circle cx="992.7" cy="1479.0" r="2.65"/><circle cx="998.0" cy="1478.7" r="2.65"/><circle cx="1004.6" cy="1525.3" r="2.65"/><circle cx="1004.9" cy="1499.4" r="2.65"/><circle cx="1001.9" cy="1482.0" r="2.65"/><circle cx="1000.3" cy="1501.0" r="2.65"/><circle cx="1004.9" cy="1512.9" r="2.65"/><circle cx="1005.5" cy="1487.9" r="2.65"/><circle cx="998.7" cy="1483.8" r="2.65"/><circle cx="993.8" cy="1455.3" r="2.65"/><circle cx="998.3" cy="1502.9" r="2.65"/><circle cx="993.0" cy="1488.5" r="2.65"/><circle cx="996.1" cy="1472.2" r="2.65"/><circle cx="993.0" cy="1410.7" r="2.65"/><circle cx="993.7" cy="1509.5" r="2.65"/><circle cx="998.4" cy="1477.8" r="2.65"/><circle cx="995.6" cy="1478.5" r="2.65"/><circle cx="999.7" cy="1511.9" r="2.65"/><circle cx="1003.2" cy="1486.7" r="2.65"/><circle cx="1002.2" cy="1480.2" r="2.65"/><circle cx="994.7" cy="1507.3" r="2.65"/><circle cx="997.1" cy="1464.3" r="2.65"/><circle cx="1002.8" cy="1487.3" r="2.65"/><circle cx="999.7" cy="1471.3" r="2.65"/><circle cx="999.2" cy="1465.6" r="2.65"/><circle cx="996.3" cy="1514.0" r="2.65"/><circle cx="993.1" cy="1485.6" r="2.65"/><circle cx="992.3" cy="1461.5" r="2.65"/><circle cx="992.2" cy="1507.7" r="2.65"/><circle cx="993.5" cy="1530.9" r="2.65"/><circle cx="1003.5" cy="1517.6" r="2.65"/><circle cx="1004.0" cy="1470.2" r="2.65"/><circle cx="1001.9" cy="1508.2" r="2.65"/><circle cx="998.8" cy="1498.3" r="2.65"/><circle cx="1004.8" cy="1507.0" r="2.65"/><circle cx="994.6" cy="1481.4" r="2.65"/><circle cx="996.7" cy="1503.2" r="2.65"/><circle cx="994.1" cy="1500.6" r="2.65"/><circle cx="997.4" cy="1478.2" r="2.65"/><circle cx="1000.6" cy="1474.8" r="2.65"/><circle cx="1005.1" cy="1475.5" r="2.65"/><circle cx="1005.4" cy="1490.9" r="2.65"/><circle cx="994.0" cy="1496.0" r="2.65"/><circle cx="995.4" cy="1479.6" r="2.65"/><circle cx="1002.8" cy="1460.0" r="2.65"/><circle cx="999.7" cy="1493.2" r="2.65"/><circle cx="995.1" cy="1477.3" r="2.65"/><circle cx="1005.2" cy="1505.5" r="2.65"/><circle cx="993.1" cy="1473.1" r="2.65"/><circle cx="1005.4" cy="1502.5" r="2.65"/><circle cx="997.1" cy="1503.6" r="2.65"/><circle cx="1002.8" cy="1499.0" r="2.65"/><circle cx="999.5" cy="1497.1" r="2.65"/><circle cx="999.9" cy="1508.8" r="2.65"/><circle cx="1002.6" cy="1528.9" r="2.65"/><circle cx="1000.9" cy="1476.2" r="2.65"/><circle cx="996.0" cy="1537.2" r="2.65"/><circle cx="1004.4" cy="1502.1" r="2.65"/><circle cx="1000.5" cy="1458.5" r="2.65"/><circle cx="992.9" cy="1501.7" r="2.65"/><circle cx="1004.6" cy="1480.8" r="2.65"/><circle cx="994.4" cy="1515.1" r="2.65"/><circle cx="998.8" cy="1511.0" r="2.65"/><circle cx="993.0" cy="1496.7" r="2.65"/><circle cx="1004.7" cy="1468.0" r="2.65"/><circle cx="1001.8" cy="1483.2" r="2.65"/><circle cx="1005.0" cy="1410.7" r="2.65"/><circle cx="994.7" cy="1490.3" r="2.65"/><circle cx="996.8" cy="1498.7" r="2.65"/><circle cx="992.9" cy="1505.9" r="2.65"/><circle cx="997.5" cy="1506.3" r="2.65"/><circle cx="994.7" cy="1474.0" r="2.65"/><circle cx="1000.2" cy="1497.5" r="2.65"/><circle cx="994.4" cy="1492.6" r="2.65"/><circle cx="994.0" cy="1429.5" r="2.65"/><circle cx="1004.8" cy="1501.3" r="2.65"/><circle cx="1005.6" cy="1484.4" r="2.65"/><circle cx="1000.5" cy="1506.4" r="2.65"/><circle cx="998.9" cy="1506.7" r="2.65"/><circle cx="1002.3" cy="1535.0" r="2.65"/><circle cx="996.6" cy="1478.9" r="2.65"/><circle cx="998.7" cy="1493.8" r="2.65"/><circle cx="994.3" cy="1462.9" r="2.65"/><circle cx="994.5" cy="1492.1" r="2.65"/><circle cx="998.5" cy="1504.8" r="2.65"/><circle cx="1005.7" cy="1522.0" r="2.65"/><circle cx="1003.9" cy="1532.9" r="2.65"/><circle cx="995.8" cy="1456.9" r="2.65"/><circle cx="996.9" cy="1505.2" r="2.65"/></g>
<g fill="#0000FF"><circle cx="1038.1" cy="1499.5" r="2.65"/><circle cx="1040.4" cy="1492.8" r="2.65"/><circle cx="1038.3" cy="1469.8" r="2.65"/><circle cx="1046.7" cy="1473.2" r="2.65"/><circle cx="1041.3" cy="1467.0" r="2.65"/><circle cx="1043.5" cy="1439.9" r="2.65"/><circle cx="1038.4" cy="1494.7" r="2.65"/><circle cx="1033.8" cy="1494.3" r="2.65"/><circle cx="1035.2" cy="1520.2" r="2.65"/><circle cx="1042.2" cy="1518.6" r="2.65"/><circle cx="1041.4" cy="1504.4" r="2.65"/><circle cx="1042.2" cy="1493.3" r="2.65"/><circle cx="1045.3" cy="1510.4" r="2.65"/><circle cx="1046.5" cy="1483.7" r="2.65"/><circle cx="1043.5" cy="1491.3" r="2.65"/><circle cx="1043.9" cy="1500.7" r="2.65"/><circle cx="1039.3" cy="1485.4" r="2.65"/><circle cx="1041.2" cy="1478.7" r="2.65"/><circle cx="1041.6" cy="1502.9" r="2.65"/><circle cx="1038.9" cy="1469.5" r="2.65"/><circle cx="1046.7" cy="1469.6" r="2.65"/><circle cx="1034.4" cy="1472.1" r="2.65"/><circle cx="1046.7" cy="1470.4" r="2.65"/><circle cx="1035.8" cy="1476.5" r="2.65"/><circle cx="1045.5" cy="1474.3" r="2.65"/><circle cx="1036.5" cy="1452.9" r="2.65"/><circle cx="1040.9" cy="1498.7" r="2.65"/><circle cx="1039.1" cy="1476.0" r="2.65"/><circle cx="1035.5" cy="1462.4" r="2.65"/><circle cx="1038.1" cy="1499.4" r="2.65"/><circle cx="1041.6" cy="1502.3" r="2.65"/><circle cx="1034.6" cy="1419.3" r="2.65"/><circle cx="1044.4" cy="1468.8" r="2.65"/><circle cx="1034.0" cy="1496.7" r="2.65"/><circle cx="1037.6" cy="1485.9" r="2.65"/><circle cx="1045.4" cy="1511.6" r="2.65"/><circle cx="1039.7" cy="1480.4" r="2.65"/><circle cx="1043.9" cy="1482.1" r="2.65"/><circle cx="1037.1" cy="1507.1" r="2.65"/><circle cx="1041.7" cy="1467.7" r="2.65"/><circle cx="1038.8" cy="1483.2" r="2.65"/><circle cx="1039.6" cy="1419.3" r="2.65"/><circle cx="1045.9" cy="1484.3" r="2.65"/><circle cx="1038.4" cy="1464.5" r="2.65"/><circle cx="1046.7" cy="1497.2" r="2.65"/><circle cx="1037.9" cy="1489.8" r="2.65"/><circle cx="1036.1" cy="1465.4" r="2.65"/><circle cx="1044.3" cy="1490.3" r="2.65"/><circle cx="1043.5" cy="1478.2" r="2.65"/><circle cx="1038.4" cy="1496.2" r="2.65"/><circle cx="1045.6" cy="1437.8" r="2.65"/><circle cx="1038.3" cy="1482.6" r="2.65"/><circle cx="1038.5" cy="1495.2" r="2.65"/><circle cx="1034.9" cy="1456.0" r="2.65"/><circle cx="1043.3" cy="1466.3" r="2.65"/><circle cx="1043.7" cy="1501.7" r="2.65"/><circle cx="1042.2" cy="1523.5" r="2.65"/><circle cx="1040.5" cy="1489.3" r="2.65"/><circle cx="1046.2" cy="1499.7" r="2.65"/><circle cx="1043.7" cy="1468.3" r="2.65"/><circle cx="1041.3" cy="1460.1" r="2.65"/><circle cx="1045.5" cy="1503.6" r="2.65"/><circle cx="1034.6" cy="1499.2" r="2.65"/><circle cx="1043.9" cy="1442.0" r="2.65"/><circle cx="1043.1" cy="1492.3" r="2.65"/><circle cx="1041.8" cy="1497.7" r="2.65"/><circle cx="1041.5" cy="1499.3" r="2.65"/><circle cx="1037.0" cy="1471.0" r="2.65"/><circle cx="1045.2" cy="1481.0" r="2.65"/><circle cx="1038.8" cy="1443.9" r="2.65"/><circle cx="1040.6" cy="1481.5" r="2.65"/><circle cx="1041.1" cy="1517.0" r="2.65"/><circle cx="1037.0" cy="1501.2" r="2.65"/><circle cx="1036.0" cy="1474.8" r="2.65"/><circle cx="1038.1" cy="1488.4" r="2.65"/><circle cx="1040.6" cy="1487.9" r="2.65"/><circle cx="1038.6" cy="1508.1" r="2.65"/><circle cx="1034.4" cy="1469.2" r="2.65"/><circle cx="1042.5" cy="1490.8" r="2.65"/><circle cx="1043.8" cy="1486.4" r="2.65"/><circle cx="1042.1" cy="1500.0" r="2.65"/><circle cx="1038.9" cy="1477.6" r="2.65"/><circle cx="1034.0" cy="1512.8" r="2.65"/><circle cx="1045.0" cy="1487.4" r="2.65"/><circle cx="1039.4" cy="1514.2" r="2.65"/><circle cx="1042.6" cy="1506.1" r="2.65"/><circle cx="1035.9" cy="1458.8" r="2.65"/><circle cx="1044.9" cy="1445.9" r="2.65"/><circle cx="1039.1" cy="1463.5" r="2.65"/><circle cx="1045.6" cy="1457.4" r="2.65"/><circle cx="1046.4" cy="1486.9" r="2.65"/><circle cx="1034.8" cy="1488.8" r="2.65"/><circle cx="1038.6" cy="1491.8" r="2.65"/><circle cx="1036.6" cy="1406.6" r="2.65"/><circle cx="1035.0" cy="1521.8" r="2.65"/><circle cx="1046.2" cy="1473.7" r="2.65"/><circle cx="1034.7" cy="1447.7" r="2.65"/><circle cx="1042.3" cy="1461.3" r="2.65"/><circle cx="1041.4" cy="1472.6" r="2.65"/><circle cx="1046.4" cy="1500.3" r="2.65"/><circle cx="1034.9" cy="1509.2" r="2.65"/><circle cx="1036.5" cy="1475.4" r="2.65"/><circle cx="1039.1" cy="1479.3" r="2.65"/><circle cx="1047.0" cy="1477.1" r="2.65"/><circle cx="1035.7" cy="1493.8" r="2.65"/><circle cx="1035.2" cy="1498.2" r="2.65"/><circle cx="1044.2" cy="1451.2" r="2.65"/><circle cx="1034.3" cy="1471.5" r="2.65"/><circle cx="1040.7" cy="1505.2" r="2.65"/><circle cx="1044.0" cy="1484.8" r="2.65"/><circle cx="1034.0" cy="1495.7" r="2.65"/><circle cx="1038.5" cy="1435.6" r="2.65"/><circle cx="1036.3" cy="1449.5" r="2.65"/><circle cx="1035.4" cy="1515.6" r="2.65"/><circle cx="1035.8" cy="1479.8" r="2.65"/><circle cx="1046.6" cy="1432.2" r="2.65"/><circle cx="1038.9" cy="1454.5" r="2.65"/></g>
<g fill="#FF0000"><circle cx="1105.2" cy="1403.2" r="2.65"/><circle cx="1101.3" cy="1291.4" r="2.65"/><circle cx="1099.9" cy="1385.0" r="2.65"/><circle cx="1105.2" cy="1305.6" r="2.65"/><circle cx="1101.3" cy="1479.0" r="2.65"/><circle cx="1104.3" cy="1491.4" r="2.65"/><circle cx="1106.7" cy="1365.0" r="2.65"/><circle cx="1104.9" cy="1441.5" r="2.65"/><circle cx="1101.1" cy="1349.9" r="2.65"/><circle cx="1096.5" cy="1383.0" r="2.65"/><circle cx="1103.3" cy="1418.6" r="2.65"/><circle cx="1099.3" cy="1440.0" r="2.65"/><circle cx="1108.3" cy="1352.0" r="2.65"/><circle cx="1108.6" cy="1401.2" r="2.65"/><circle cx="1101.5" cy="1424.8" r="2.65"/><circle cx="1100.0" cy="1308.3" r="2.65"/><circle cx="1101.3" cy="1400.2" r="2.65"/><circle cx="1103.7" cy="1316.2" r="2.65"/><circle cx="1101.3" cy="1370.4" r="2.65"/><circle cx="1103.8" cy="1330.6" r="2.65"/><circle cx="1103.0" cy="1409.4" r="2.65"/><circle cx="1097.5" cy="1437.5" r="2.65"/><circle cx="1106.0" cy="1318.7" r="2.65"/><circle cx="1097.5" cy="1357.4" r="2.65"/><circle cx="1106.8" cy="1348.8" r="2.65"/><circle cx="1105.5" cy="1426.5" r="2.65"/><circle cx="1097.2" cy="1413.4" r="2.65"/><circle cx="1108.8" cy="1420.1" r="2.65"/><circle cx="1102.0" cy="1355.3" r="2.65"/><circle cx="1102.1" cy="1368.2" r="2.65"/><circle cx="1105.1" cy="1415.9" r="2.65"/><circle cx="1104.1" cy="1447.9" r="2.65"/><circle cx="1107.0" cy="1366.1" r="2.65"/><circle cx="1100.8" cy="1443.6" r="2.65"/><circle cx="1102.6" cy="1421.6" r="2.65"/><circle cx="1095.5" cy="1344.1" r="2.65"/><circle cx="1100.7" cy="1387.1" r="2.65"/><circle cx="1107.1" cy="1407.2" r="2.65"/><circle cx="1097.7" cy="1395.1" r="2.65"/><circle cx="1097.5" cy="1404.2" r="2.65"/><circle cx="1102.2" cy="1356.3" r="2.65"/><circle cx="1100.2" cy="1336.9" r="2.65"/><circle cx="1107.3" cy="1435.5" r="2.65"/><circle cx="1101.5" cy="1342.5" r="2.65"/><circle cx="1098.1" cy="1384.0" r="2.65"/><circle cx="1105.1" cy="1311.0" r="2.65"/><circle cx="1096.0" cy="1313.6" r="2.65"/><circle cx="1103.4" cy="1353.1" r="2.65"/><circle cx="1104.8" cy="1332.8" r="2.65"/><circle cx="1103.0" cy="1346.8" r="2.65"/><circle cx="1096.3" cy="1411.2" r="2.65"/><circle cx="1097.0" cy="1334.9" r="2.65"/><circle cx="1107.1" cy="1358.5" r="2.65"/><circle cx="1105.7" cy="1362.8" r="2.65"/><circle cx="1098.5" cy="1391.1" r="2.65"/><circle cx="1100.9" cy="1369.3" r="2.65"/><circle cx="1102.6" cy="1338.9" r="2.65"/><circle cx="1107.8" cy="1345.6" r="2.65"/><circle cx="1106.1" cy="1417.2" r="2.65"/><circle cx="1099.8" cy="1394.1" r="2.65"/><circle cx="1098.8" cy="1376.9" r="2.65"/><circle cx="1101.8" cy="1354.2" r="2.65"/><circle cx="1100.2" cy="1285.5" r="2.65"/><circle cx="1096.4" cy="1445.7" r="2.65"/><circle cx="1105.3" cy="1373.6" r="2.65"/><circle cx="1100.7" cy="1399.1" r="2.65"/><circle cx="1102.2" cy="1402.2" r="2.65"/><circle cx="1108.9" cy="1423.2" r="2.65"/><circle cx="1099.7" cy="1398.1" r="2.65"/><circle cx="1107.6" cy="1412.3" r="2.65"/><circle cx="1095.9" cy="1414.6" r="2.65"/><circle cx="1106.5" cy="1300.1" r="2.65"/><circle cx="1095.6" cy="1326.0" r="2.65"/><circle cx="1105.5" cy="1380.0" r="2.65"/><circle cx="1101.8" cy="1288.5" r="2.65"/><circle cx="1096.4" cy="1282.5" r="2.65"/><circle cx="1104.1" cy="1396.1" r="2.65"/><circle cx="1096.6" cy="1386.1" r="2.65"/><circle cx="1102.7" cy="1323.7" r="2.65"/><circle cx="1103.1" cy="1321.2" r="2.65"/><circle cx="1109.1" cy="1428.2" r="2.65"/><circle cx="1104.4" cy="1430.0" r="2.65"/><circle cx="1105.6" cy="1405.2" r="2.65"/><circle cx="1106.4" cy="1340.8" r="2.65"/><circle cx="1098.3" cy="1397.1" r="2.65"/><circle cx="1103.2" cy="1372.6" r="2.65"/><circle cx="1106.5" cy="1433.6" r="2.65"/><circle cx="1099.3" cy="1297.2" r="2.65"/><circle cx="1101.5" cy="1410.3" r="2.65"/><circle cx="1106.4" cy="1431.8" r="2.65"/><circle cx="1098.0" cy="1374.7" r="2.65"/><circle cx="1099.1" cy="1378.0" r="2.65"/><circle cx="1097.8" cy="1371.5" r="2.65"/><circle cx="1107.3" cy="1439.5" r="2.65"/><circle cx="1102.3" cy="1363.9" r="2.65"/><circle cx="1105.2" cy="1388.1" r="2.65"/><circle cx="1105.8" cy="1367.2" r="2.65"/><circle cx="1101.5" cy="1294.4" r="2.65"/><circle cx="1097.3" cy="1328.4" r="2.65"/><circle cx="1108.1" cy="1389.1" r="2.65"/><circle cx="1102.4" cy="1393.1" r="2.65"/><circle cx="1102.6" cy="1359.6" r="2.65"/><circle cx="1108.7" cy="1379.0" r="2.65"/><circle cx="1108.4" cy="1360.7" r="2.65"/><circle cx="1102.6" cy="1347.7" r="2.65"/><circle cx="1098.5" cy="1408.0" r="2.65"/><circle cx="1104.6" cy="1302.9" r="2.65"/><circle cx="1100.1" cy="1350.9" r="2.65"/><circle cx="1100.8" cy="1381.0" r="2.65"/><circle cx="1097.7" cy="1390.1" r="2.65"/><circle cx="1108.9" cy="1361.7" r="2.65"/><circle cx="1098.5" cy="1375.8" r="2.65"/><circle cx="1101.4" cy="1406.2" r="2.65"/><circle cx="1107.2" cy="1392.1" r="2.65"/><circle cx="1100.0" cy="1382.0" r="2.65"/><circle cx="1107.2" cy="1408.6" r="2.65"/><circle cx="1100.1" cy="1407.5" r="2.65"/></g>
<g fill="#0000FF"><circle cx="1140.5" cy="1387.0" r="2.65"/><circle cx="1137.9" cy="1381.9" r="2.65"/><circle cx="1137.4" cy="1419.4" r="2.65"/><circle cx="1149.7" cy="1336.4" r="2.65"/><circle cx="1141.9" cy="1353.1" r="2.65"/><circle cx="1141.0" cy="1384.6" r="2.65"/><circle cx="1147.1" cy="1318.4" r="2.65"/><circle cx="1149.0" cy="1367.6" r="2.65"/><circle cx="1148.3" cy="1377.4" r="2.65"/><circle cx="1141.9" cy="1236.7" r="2.65"/><circle cx="1143.5" cy="1428.1" r="2.65"/><circle cx="1144.5" cy="1326.1" r="2.65"/><circle cx="1139.5" cy="1330.3" r="2.65"/><circle cx="1149.6" cy="1341.6" r="2.65"/><circle cx="1146.1" cy="1404.2" r="2.65"/><circle cx="1144.4" cy="1264.1" r="2.65"/><circle cx="1143.0" cy="1365.8" r="2.65"/><circle cx="1148.2" cy="1279.4" r="2.65"/><circle cx="1140.6" cy="1387.6" r="2.65"/><circle cx="1137.3" cy="1361.3" r="2.65"/><circle cx="1139.5" cy="1320.5" r="2.65"/><circle cx="1145.9" cy="1366.7" r="2.65"/><circle cx="1147.3" cy="1370.3" r="2.65"/><circle cx="1147.2" cy="1344.8" r="2.65"/><circle cx="1143.5" cy="1342.7" r="2.65"/><circle cx="1142.2" cy="1357.3" r="2.65"/><circle cx="1142.0" cy="1380.1" r="2.65"/><circle cx="1140.8" cy="1346.8" r="2.65"/><circle cx="1141.3" cy="1358.3" r="2.65"/><circle cx="1145.7" cy="1385.5" r="2.65"/><circle cx="1150.3" cy="1392.5" r="2.65"/><circle cx="1148.4" cy="1324.4" r="2.65"/><circle cx="1143.3" cy="1394.2" r="2.65"/><circle cx="1148.3" cy="1382.8" r="2.65"/><circle cx="1147.2" cy="1411.4" r="2.65"/><circle cx="1147.5" cy="1333.3" r="2.65"/><circle cx="1147.6" cy="1345.8" r="2.65"/><circle cx="1149.4" cy="1414.0" r="2.65"/><circle cx="1150.1" cy="1368.5" r="2.65"/><circle cx="1146.1" cy="1369.4" r="2.65"/><circle cx="1144.3" cy="1383.7" r="2.65"/><circle cx="1147.0" cy="1389.7" r="2.65"/><circle cx="1138.1" cy="1372.1" r="2.65"/><circle cx="1150.0" cy="1351.0" r="2.65"/><circle cx="1140.2" cy="1293.7" r="2.65"/><circle cx="1146.3" cy="1386.4" r="2.65"/><circle cx="1141.5" cy="1347.9" r="2.65"/><circle cx="1150.0" cy="1356.2" r="2.65"/><circle cx="1142.9" cy="1381.0" r="2.65"/><circle cx="1144.4" cy="1373.8" r="2.65"/><circle cx="1148.7" cy="1352.0" r="2.65"/><circle cx="1140.4" cy="1406.5" r="2.65"/><circle cx="1149.1" cy="1454.5" r="2.65"/><circle cx="1149.4" cy="1348.9" r="2.65"/><circle cx="1141.9" cy="1444.1" r="2.65"/><circle cx="1141.0" cy="1276.4" r="2.65"/><circle cx="1148.5" cy="1273.4" r="2.65"/><circle cx="1140.3" cy="1447.5" r="2.65"/><circle cx="1144.6" cy="1309.2" r="2.65"/><circle cx="1139.1" cy="1329.2" r="2.65"/><circle cx="1137.8" cy="1340.6" r="2.65"/><circle cx="1144.4" cy="1397.8" r="2.65"/><circle cx="1138.4" cy="1451.0" r="2.65"/><circle cx="1145.0" cy="1334.3" r="2.65"/><circle cx="1140.5" cy="1306.8" r="2.65"/><circle cx="1142.4" cy="1395.9" r="2.65"/><circle cx="1142.9" cy="1364.9" r="2.65"/><circle cx="1148.0" cy="1327.7" r="2.65"/><circle cx="1143.0" cy="1332.3" r="2.65"/><circle cx="1139.7" cy="1425.1" r="2.65"/><circle cx="1139.1" cy="1388.6" r="2.65"/><circle cx="1150.0" cy="1364.0" r="2.65"/><circle cx="1140.5" cy="1362.2" r="2.65"/><circle cx="1140.0" cy="1338.5" r="2.65"/><circle cx="1147.4" cy="1374.7" r="2.65"/><circle cx="1146.7" cy="1311.6" r="2.65"/><circle cx="1149.7" cy="1270.3" r="2.65"/><circle cx="1140.2" cy="1260.9" r="2.65"/><circle cx="1148.8" cy="1378.3" r="2.65"/><circle cx="1141.9" cy="1296.4" r="2.65"/><circle cx="1149.3" cy="1375.6" r="2.65"/><circle cx="1144.4" cy="1350.0" r="2.65"/><circle cx="1149.1" cy="1354.1" r="2.65"/><circle cx="1141.7" cy="1371.2" r="2.65"/><circle cx="1146.9" cy="1431.2" r="2.65"/><circle cx="1138.1" cy="1322.5" r="2.65"/><circle cx="1148.5" cy="1359.3" r="2.65"/><circle cx="1140.5" cy="1304.3" r="2.65"/><circle cx="1150.3" cy="1422.2" r="2.65"/><circle cx="1146.4" cy="1337.5" r="2.65"/><circle cx="1138.7" cy="1391.0" r="2.65"/><circle cx="1149.5" cy="1373.0" r="2.65"/><circle cx="1145.8" cy="1301.7" r="2.65"/><circle cx="1138.3" cy="1360.4" r="2.65"/><circle cx="1143.5" cy="1408.9" r="2.65"/><circle cx="1146.5" cy="1288.1" r="2.65"/><circle cx="1140.4" cy="1355.2" r="2.65"/><circle cx="1149.0" cy="1335.4" r="2.65"/><circle cx="1145.9" cy="1290.9" r="2.65"/><circle cx="1138.4" cy="1434.3" r="2.65"/><circle cx="1150.6" cy="1299.1" r="2.65"/><circle cx="1149.9" cy="1343.7" r="2.65"/><circle cx="1150.3" cy="1267.2" r="2.65"/><circle cx="1142.4" cy="1376.5" r="2.65"/><circle cx="1142.9" cy="1282.3" r="2.65"/><circle cx="1140.7" cy="1363.1" r="2.65"/><circle cx="1150.2" cy="1339.6" r="2.65"/><circle cx="1146.3" cy="1285.2" r="2.65"/><circle cx="1139.9" cy="1437.5" r="2.65"/><circle cx="1139.1" cy="1314.0" r="2.65"/><circle cx="1147.5" cy="1379.2" r="2.65"/><circle cx="1146.5" cy="1416.6" r="2.65"/><circle cx="1144.2" cy="1316.2" r="2.65"/><circle cx="1150.1" cy="1399.8" r="2.65"/><circle cx="1145.2" cy="1440.8" r="2.65"/><circle cx="1139.3" cy="1401.9" r="2.65"/><circle cx="1146.0" cy="1331.2" r="2.65"/></g></svg>
</body></html>
